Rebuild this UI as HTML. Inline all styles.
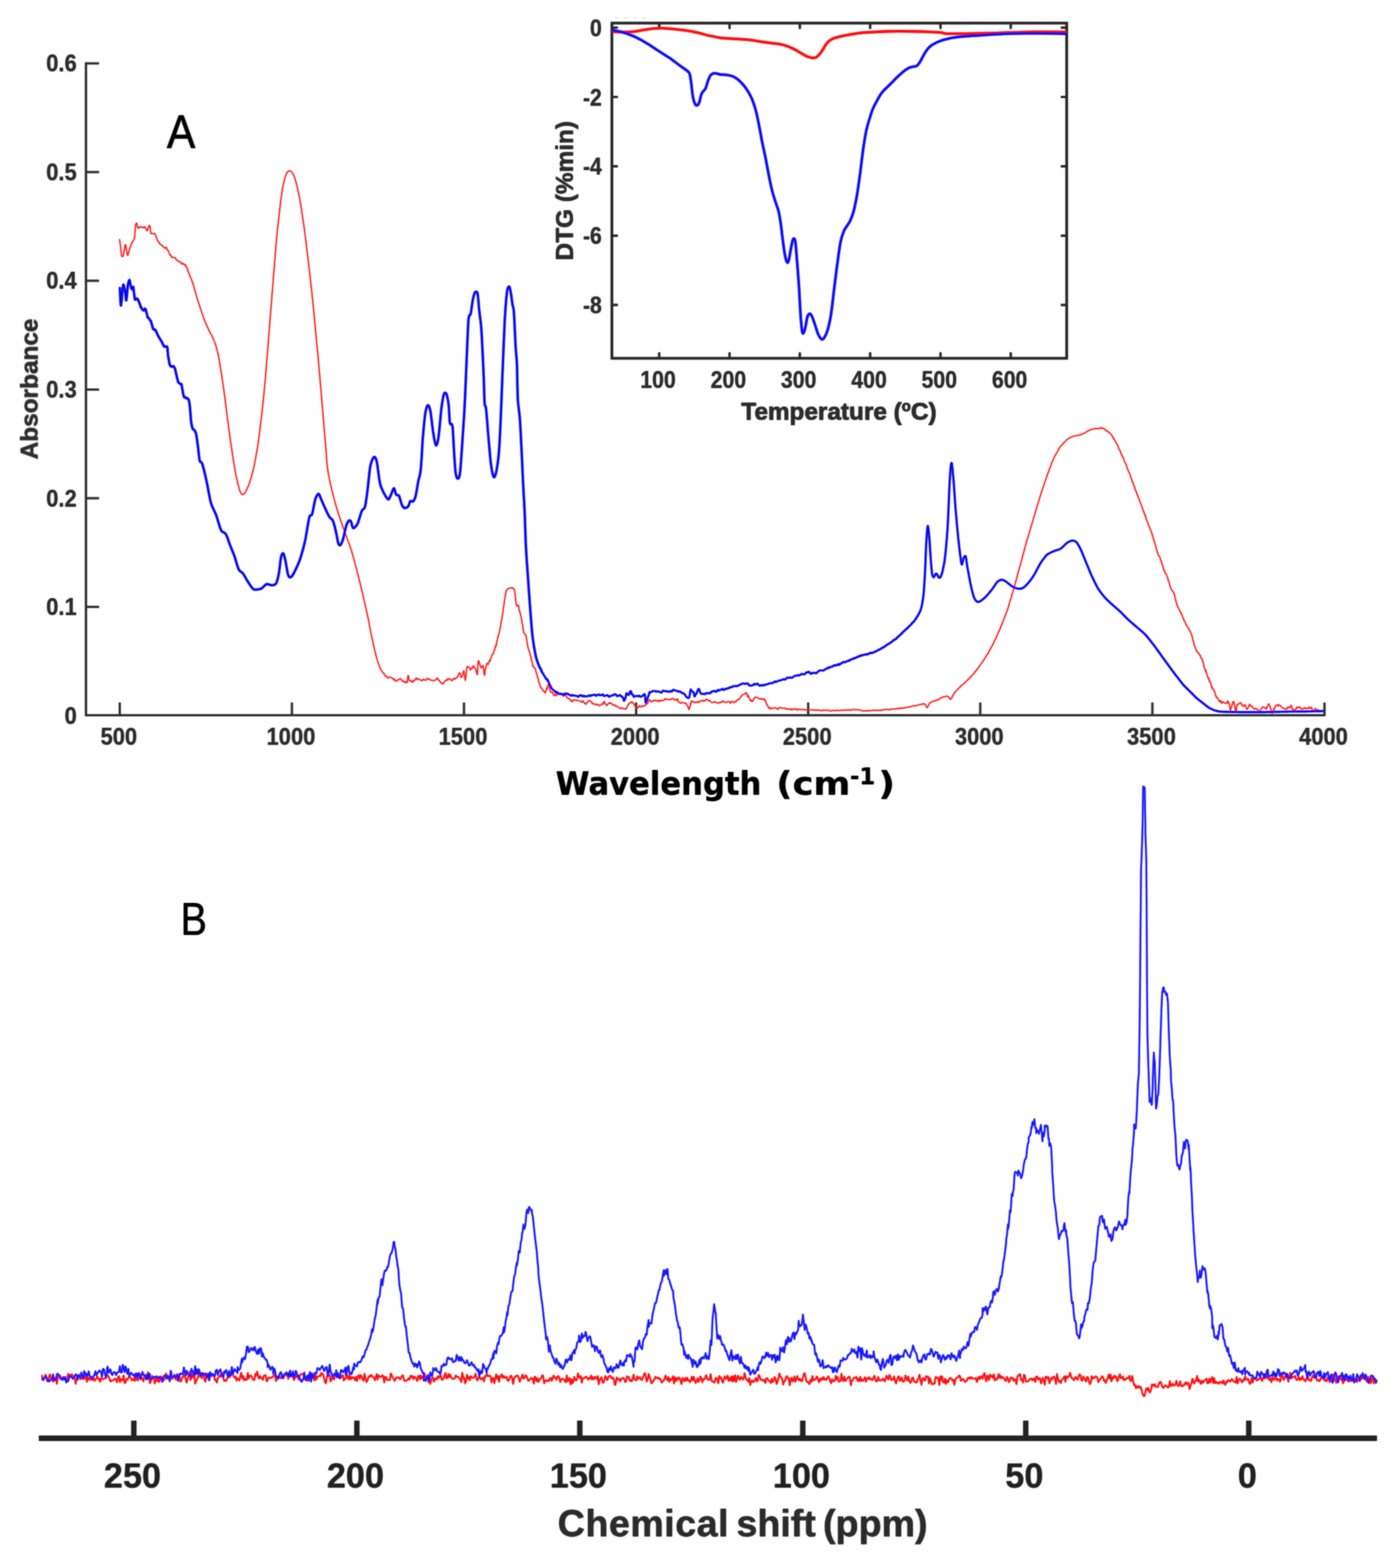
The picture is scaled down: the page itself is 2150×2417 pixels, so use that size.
<!DOCTYPE html>
<html lang="en">
<head>
<meta charset="utf-8">
<title>FTIR, DTG and NMR spectra</title>
<style>
html,body{margin:0;padding:0;background:#fff;}
svg{display:block;}
text{font-family:"Liberation Sans",sans-serif;font-weight:bold;fill:#2a2a2a;}
.t32{font-size:33.8px;}
.t31{font-size:32.8px;}
.t51{font-size:52.8px;}
.t51 text{fill:#202020;}
.lab{font-family:"Liberation Sans",sans-serif;font-weight:normal;fill:#000;}
.wl{font-family:"DejaVu Sans",sans-serif;font-weight:bold;fill:#000;}
</style>
</head>
<body>
<svg width="2150" height="2417" viewBox="0 0 2150 2417">
<rect width="2150" height="2417" fill="#fff"/>
<defs><filter id="soft" filterUnits="userSpaceOnUse" x="0" y="0" width="2150" height="2417"><feGaussianBlur stdDeviation="0.9"/></filter></defs>
<use href="#fig" filter="url(#soft)"/>
<g opacity="0.62">
<g id="fig">
<g stroke="#2e2e2e" stroke-width="3" fill="none">
<path stroke-width="3.1" d="M132.5 96.2 V1102.5 H2042.5"/>
<path d="M132.5 935.5H152.5M132.5 767.9H152.5M132.5 600.4H152.5M132.5 432.8H152.5M132.5 265.2H152.5M132.5 97.7H152.5M184.6 1102.5V1083M449.9 1102.5V1083M715.1 1102.5V1083M980.4 1102.5V1083M1245.6 1102.5V1083M1510.8 1102.5V1083M1776.1 1102.5V1083M2041.3 1102.5V1083"/>
</g>
<g class="t32" text-anchor="end">
<text transform="translate(118.3 1115.6) scale(1 1.11)">0</text>
<text transform="translate(118.3 948.1) scale(1 1.11)">0.1</text>
<text transform="translate(118.3 780.5) scale(1 1.11)">0.2</text>
<text transform="translate(118.3 613) scale(1 1.11)">0.3</text>
<text transform="translate(118.3 445.4) scale(1 1.11)">0.4</text>
<text transform="translate(118.3 277.9) scale(1 1.11)">0.5</text>
<text transform="translate(118.3 110.3) scale(1 1.11)">0.6</text>
</g>
<g class="t32" text-anchor="middle">
<text transform="translate(183.1 1148.3) scale(1 1.11)">500</text>
<text transform="translate(448.4 1148.3) scale(1 1.11)">1000</text>
<text transform="translate(713.6 1148.3) scale(1 1.11)">1500</text>
<text transform="translate(978.9 1148.3) scale(1 1.11)">2000</text>
<text transform="translate(1244.1 1148.3) scale(1 1.11)">2500</text>
<text transform="translate(1509.3 1148.3) scale(1 1.11)">3000</text>
<text transform="translate(1774.6 1148.3) scale(1 1.11)">3500</text>
<text transform="translate(2039.8 1148.3) scale(1 1.11)">4000</text>
</g>
<text transform="translate(58 599.5) rotate(-90)" text-anchor="middle" font-size="37.5" stroke="#2a2a2a" stroke-width="0.3" textLength="217" lengthAdjust="spacingAndGlyphs">Absorbance</text>
<text class="wl" y="1224.8" font-size="49"><tspan x="856.5" textLength="317" lengthAdjust="spacingAndGlyphs">Wavelength</tspan> <tspan x="1196.5" textLength="114" lengthAdjust="spacingAndGlyphs">(cm</tspan><tspan x="1310" dy="-15.4" font-size="35" textLength="39" lengthAdjust="spacingAndGlyphs">-1</tspan><tspan x="1353.5" dy="15.4" textLength="26" lengthAdjust="spacingAndGlyphs">)</tspan></text>
<text class="lab" transform="translate(279.2 228) scale(0.95 1.04)" text-anchor="middle" font-size="69" stroke="#000" stroke-width="0.5">A</text>
<text class="lab" transform="translate(298.5 1441) scale(0.86 1)" text-anchor="middle" font-size="71" stroke="#000" stroke-width="0.2">B</text>
<path d="M184.2 368.6 L184.3 369.3 L184.5 371.7 L184.8 371.6 L185.1 374.4 L185.3 375.1 L185.6 378.8 L185.8 380.2 L185.9 382.2 L186.1 382.6 L186.2 384.6 L186.4 386 L186.6 387.5 L186.8 389.8 L186.9 390.6 L187.1 392.5 L187.3 394.5 L187.5 395 L188.7 395.3 L190.1 394.7 L190.3 392.8 L190.6 390.8 L190.9 389.5 L191.2 387.2 L191.5 385.2 L191.8 383.2 L192.1 383 L192.4 380.3 L192.7 378.7 L192.9 377.9 L193.1 378.3 L193.4 377.1 L193.8 377.6 L194.1 381.4 L194.4 381.2 L194.7 382.9 L194.9 384.9 L195.2 388 L195.5 388.2 L195.8 388.7 L196.1 392.1 L196.4 393 L196.7 393.5 L197 393.6 L197.4 392.4 L197.9 390.7 L198.4 388.3 L198.8 387.3 L199.3 386 L199.7 383.7 L200.1 381.9 L200.7 381.1 L201.3 379.6 L201.9 377 L202.5 375.7 L203 375.7 L203.6 374.1 L204.3 372.6 L205.2 371.6 L206 370.1 L206.8 368.5 L207.3 365.5 L207.4 366.7 L207.6 365 L207.7 362.6 L207.9 361.9 L208 359.9 L208.1 357.7 L208.3 356.5 L208.4 355.5 L208.5 353 L208.6 351.8 L208.7 350.7 L208.8 347.7 L208.9 346.6 L209.7 345.1 L210.6 343.7 L210.9 345 L211.4 347.8 L211.9 349.7 L212.4 350.9 L212.9 349.9 L213.9 351.9 L215.1 350.1 L216.2 349.5 L217.2 350.1 L218.4 350.1 L219.5 350.7 L220.5 350.1 L221.7 351.1 L222.8 349.4 L223.5 350.2 L224.4 351.7 L225.4 353.9 L226.3 355.3 L227.1 355.6 L227.6 353.7 L228.2 351.2 L228.8 350.3 L229.4 348.9 L229.9 348.3 L230.4 347.2 L230.6 347.2 L230.9 349 L231.2 349.4 L231.4 351.3 L231.7 353.3 L232 356 L232.3 359.1 L232.7 359.5 L233.6 360.4 L234.9 359.9 L236.4 359.9 L237.6 360 L238.2 360.7 L238.8 360.4 L239.6 362 L240.4 363.5 L241.2 366.6 L242 368.5 L242.8 370.4 L243.6 372.1 L244.2 372 L244.9 373.6 L245.8 375.6 L246.8 375.7 L247.9 377.4 L249 378 L250 378 L251 379.9 L251.8 380.4 L252.5 381.6 L253.8 382 L255.1 382.5 L256.3 381.1 L257.4 384.4 L257.9 385.4 L258.5 385.4 L259.2 386 L259.9 388 L260.7 390.2 L261.4 391.8 L262.1 393.2 L262.8 392.8 L263.4 393.7 L264.3 396.4 L265.5 396.9 L266.8 396.3 L268.2 397 L269.5 397.2 L270.6 398.1 L271.6 400.4 L272.8 400.8 L274.2 402.6 L275.7 403.3 L277.1 403.1 L278.5 404.3 L279.7 407.3 L280.5 406.3 L281.9 406.1 L283.2 407.7 L284.4 407.5 L285.5 408.2 L286 410 L286.6 409.2 L287.2 411.6 L287.9 412.4 L288.6 413.7 L289.2 415.6 L289.9 418.7 L290.4 419.7 L290.8 420.2 L291.3 421.4 L291.8 423.2 L292.4 424.6 L293 425.7 L293.7 427.8 L294.3 429 L294.9 430.2 L295.5 431.9 L296.1 433.6 L296.6 435.2 L297 436.5 L297.4 437.2 L297.7 438.2 L298.1 439.2 L298.5 440.8 L298.9 442.2 L299.3 443.9 L299.7 445.2 L300.2 446.9 L300.6 448.5 L301.1 450 L301.5 451.6 L302 453.2 L302.4 454.7 L302.8 456.6 L303.2 458 L303.6 459 L304 460.3 L304.3 461.6 L304.8 463.2 L305.2 464.3 L305.7 465.8 L306.2 467.2 L306.8 469 L307.4 470.9 L307.9 472.6 L308.5 474.2 L309.1 476.1 L309.7 477.8 L310.2 479.5 L310.8 480.9 L311.3 482.6 L311.8 483.9 L312.3 485.3 L312.8 486.7 L313.2 488.4 L313.5 489.3 L314 490.4 L314.6 491.7 L315.2 493.4 L315.8 495.1 L316.4 496.7 L317.1 498 L317.7 499.5 L318.4 500.9 L319 502.4 L319.6 503.7 L320.2 505.2 L320.8 506.1 L321.3 507.3 L321.8 508.7 L322.3 509.7 L323 511.3 L323.7 512.3 L324.4 513.8 L325.2 515.4 L326 516.6 L326.8 518.1 L327.5 520.2 L328.3 521.2 L328.9 522.5 L329.5 523.8 L330 525.2 L330.4 526.2 L330.8 527.5 L331.2 528.6 L331.6 529.6 L332 530.9 L332.5 532 L332.9 533.3 L333.3 534.9 L333.8 536.8 L334.2 538.3 L334.7 540.1 L335.1 541.8 L335.5 543.2 L335.9 545.3 L336.3 546.6 L336.6 548.2 L336.8 549.1 L337 550.4 L337.2 551.3 L337.4 552.3 L337.6 553.7 L337.8 555.2 L338.1 556.3 L338.3 557.6 L338.5 559.3 L338.8 560.9 L339 562.5 L339.3 563.7 L339.6 565.5 L339.8 567.2 L340.1 568.5 L340.4 570.7 L340.7 572.4 L340.9 574 L341.2 576.3 L341.5 577.8 L341.8 579.4 L342 581.2 L342.3 583.1 L342.6 585 L342.8 586.6 L343.1 588.1 L343.3 589.8 L343.6 591.5 L343.8 593 L344.1 594.9 L344.3 596.4 L344.5 598 L344.7 599.3 L344.9 600.3 L345 601.5 L345.2 602.7 L345.3 604.2 L345.5 605.2 L345.7 606.7 L345.9 608.1 L346.1 609.3 L346.3 611.1 L346.5 612.6 L346.7 613.8 L346.9 615.8 L347.1 617.7 L347.3 619.1 L347.6 621.2 L347.8 622.8 L348 624.3 L348.2 626.3 L348.5 628 L348.7 629.6 L348.9 631.3 L349.2 633.5 L349.4 635.3 L349.7 637.5 L349.9 639.4 L350.1 641 L350.4 642.9 L350.6 645.2 L350.8 647.1 L351.1 648.8 L351.3 650.3 L351.5 651.9 L351.8 653.7 L352 655.9 L352.2 657.5 L352.4 659 L352.6 660.4 L352.9 662.2 L353.1 663.6 L353.3 665.3 L353.4 666.9 L353.6 668.4 L353.8 669.6 L354 670.8 L354.2 672.1 L354.3 673.6 L354.5 674.6 L354.6 675.2 L354.8 677.1 L355 678.5 L355.3 680.4 L355.5 681.6 L355.7 683.1 L356 684.7 L356.2 686.5 L356.5 688.1 L356.7 689.6 L357 691.2 L357.3 693.2 L357.5 695 L357.8 696.8 L358.1 699.1 L358.4 700.8 L358.6 702.6 L358.9 704 L359.2 705.9 L359.4 707.5 L359.7 709.2 L360 711 L360.2 712.7 L360.5 714.3 L360.7 715.8 L361 716.9 L361.2 718.5 L361.5 720.1 L361.7 721.4 L361.9 722.6 L362.1 724 L362.3 725 L362.5 726.1 L362.7 727.4 L362.9 728.2 L363.2 730.1 L363.5 731.7 L363.9 733.4 L364.2 735.3 L364.6 736.4 L365 738.3 L365.4 739.9 L365.8 741.7 L366.2 743.5 L366.6 745.5 L366.9 746.9 L367.3 748.7 L367.7 749.8 L368 751.2 L368.4 752.5 L368.7 753.8 L369 754.7 L369.2 755.4 L369.5 756.2 L370.3 758.2 L371.3 760.2 L372.2 761.4 L373.1 762 L373.8 762.3 L375 762.1 L376.3 761.2 L377.7 759.7 L378.1 758.7 L378.6 757.7 L379.2 756.9 L379.9 755.7 L380.6 754 L381.2 752.5 L381.9 750.8 L382.6 749.4 L383.3 747.6 L383.8 746.1 L384.3 744.8 L384.7 744.1 L385 742.7 L385.4 741.5 L385.8 740.1 L386.3 738.6 L386.7 737.1 L387.2 735.7 L387.6 734.3 L388.1 732.5 L388.5 730.8 L389 729.2 L389.4 727.7 L389.8 726.3 L390.2 724.3 L390.6 723.1 L390.9 721.4 L391.1 720.7 L391.4 719.4 L391.6 718.1 L391.9 716.9 L392.1 715.7 L392.4 714.2 L392.7 712.9 L393 711.4 L393.3 709.8 L393.6 708.2 L393.9 706.7 L394.2 704.8 L394.5 703.1 L394.8 701.4 L395.1 699.3 L395.4 698 L395.7 696.2 L396 694.4 L396.3 692.8 L396.6 691.3 L396.8 689.8 L397.1 688.3 L397.3 686.6 L397.5 685.4 L397.7 684.4 L397.8 683.1 L398 681.9 L398.2 680.8 L398.4 679.4 L398.6 678 L398.8 676.4 L399 675.1 L399.2 673.7 L399.4 671.8 L399.6 669.6 L399.8 668.4 L400 666.3 L400.3 664.3 L400.5 662.3 L400.7 660.9 L400.9 659.3 L401.2 657.6 L401.4 655.5 L401.6 654 L401.8 652 L402 650 L402.3 648.4 L402.5 646.7 L402.7 645 L402.9 643.4 L403 641.3 L403.2 640.4 L403.4 638.7 L403.6 637.5 L403.7 635.9 L403.9 634.8 L404 633.6 L404.1 632.2 L404.3 631.1 L404.4 629.9 L404.6 628.1 L404.8 626.4 L404.9 625.1 L405.1 623.6 L405.2 622.3 L405.4 620.8 L405.6 619.5 L405.7 617.9 L405.9 616.1 L406.1 614.5 L406.2 612.3 L406.4 610.8 L406.5 609.2 L406.7 607.8 L406.9 606.2 L407 604.6 L407.2 603.1 L407.3 601.1 L407.5 599.6 L407.7 597.9 L407.8 596.2 L408 594.6 L408.1 592.9 L408.3 591.3 L408.3 590.3 L408.4 589.5 L408.5 588.2 L408.6 587.1 L408.7 586.3 L408.8 584.8 L408.9 583.4 L409.1 582.1 L409.2 580.2 L409.3 579 L409.4 577.5 L409.6 575.9 L409.7 574.4 L409.8 572.8 L410 571.2 L410.1 569.2 L410.2 567.5 L410.4 565.6 L410.5 564.2 L410.7 562.3 L410.8 560.1 L411 558.5 L411.1 556.5 L411.3 555 L411.4 553 L411.6 550.8 L411.7 549.2 L411.9 547.7 L412 545.9 L412.2 543.8 L412.3 542.2 L412.4 540.5 L412.6 538.9 L412.7 537.1 L412.9 535.3 L413 533.3 L413.1 531.8 L413.3 530.2 L413.4 528.6 L413.5 527.1 L413.6 525.3 L413.8 524.1 L413.9 522.6 L414 521.3 L414.1 519.9 L414.2 518.6 L414.3 517.5 L414.4 516.4 L414.5 515 L414.6 513.8 L414.7 512.2 L414.8 511 L414.9 509.5 L415 507.8 L415.2 506.7 L415.3 504.9 L415.4 503.4 L415.5 501.5 L415.7 499.7 L415.8 498.5 L415.9 496.6 L416.1 494.7 L416.2 493.2 L416.3 491.3 L416.5 489.8 L416.6 488.5 L416.7 486.4 L416.9 484.7 L417 482.9 L417.2 481.1 L417.3 479.2 L417.5 477.7 L417.6 475.7 L417.7 473.9 L417.9 472.1 L418 470 L418.2 468.5 L418.3 466.7 L418.4 465.1 L418.6 463.4 L418.7 461.9 L418.8 459.6 L419 458 L419.1 456.4 L419.2 454.7 L419.4 453.3 L419.5 451.7 L419.6 450.2 L419.7 448.4 L419.8 447 L419.9 445.8 L420.1 444.4 L420.2 443 L420.3 441.8 L420.4 440.6 L420.5 439.2 L420.6 438.5 L420.7 436.9 L420.8 435.7 L420.9 434.3 L421 433 L421.1 431.2 L421.2 429.6 L421.4 428.3 L421.5 426.7 L421.6 424.6 L421.7 422.9 L421.9 421.4 L422 419.9 L422.2 418.2 L422.3 416.6 L422.4 414.6 L422.6 413.5 L422.7 411.6 L422.9 409.8 L423 407.8 L423.2 405.5 L423.3 404 L423.5 402.1 L423.6 400.5 L423.7 398.6 L423.9 396.9 L424 394.9 L424.2 393.1 L424.3 391.4 L424.5 389.5 L424.6 387.8 L424.8 386.3 L424.9 384.9 L425 383 L425.2 381.4 L425.3 379.5 L425.4 377.9 L425.6 376.5 L425.7 375.1 L425.8 373.4 L426 372.2 L426.1 370.8 L426.2 369.7 L426.3 368.4 L426.4 367.1 L426.5 365.7 L426.6 364.6 L426.7 363.4 L426.9 361.9 L427 360.2 L427.2 358.8 L427.3 357.2 L427.5 355.9 L427.6 354.3 L427.8 352.4 L428 350.9 L428.2 349.3 L428.4 347.7 L428.6 345.8 L428.8 344 L429 342.1 L429.2 340.5 L429.4 338.3 L429.6 336.7 L429.8 334.5 L430 333.4 L430.2 331.6 L430.4 329.3 L430.6 327.7 L430.8 325.9 L430.9 324.1 L431.1 322.7 L431.3 321 L431.5 319.9 L431.7 318.2 L431.9 316.5 L432 315.3 L432.2 314.1 L432.3 312.9 L432.5 311.7 L432.6 310.1 L432.8 309.1 L432.9 308.2 L433 307.2 L433.2 305.7 L433.5 303.7 L433.7 301.9 L434 300 L434.3 298.3 L434.5 296.3 L434.8 295.1 L435.1 293.1 L435.3 291.3 L435.6 289.5 L435.9 288.2 L436.1 286.6 L436.4 285.5 L436.6 284.5 L436.9 283.3 L437.1 282 L437.3 281.3 L437.7 279.4 L438.1 277.7 L438.7 276 L439.2 274.1 L439.8 272.5 L440.4 270.6 L440.9 268.9 L441.4 268.2 L441.9 266.9 L442.2 266.1 L443.5 264.5 L445 263.6 L446.2 263.3 L447.1 263.6 L448.3 264 L449.5 265 L450.5 266.1 L451 266.9 L451.6 268.1 L452.2 269 L452.9 270.3 L453.5 272.3 L454.2 274.2 L454.9 275.9 L455.4 277.6 L455.7 278.8 L455.9 279.7 L456.2 280.9 L456.5 281.6 L456.9 283.1 L457.2 284.5 L457.6 285.9 L457.9 287.8 L458.3 289.6 L458.7 291.1 L459 292.7 L459.4 294.8 L459.8 296.5 L460.2 298 L460.5 299.8 L460.9 301.4 L461.2 302.7 L461.5 304.4 L461.8 306 L462 307.5 L462.2 308.2 L462.4 309.3 L462.6 310.6 L462.8 311.7 L463.1 313.5 L463.3 314.9 L463.5 316.6 L463.8 317.5 L464 319.1 L464.3 321.3 L464.6 322.5 L464.8 323.9 L465.1 326 L465.3 328.1 L465.6 329.7 L465.9 331.1 L466.1 333.1 L466.4 334.9 L466.7 336.6 L466.9 338.3 L467.2 340 L467.4 341.8 L467.6 343.5 L467.8 345 L468.1 346.2 L468.3 347.3 L468.5 349 L468.6 350 L468.8 351.8 L469 352.5 L469.1 353.4 L469.3 354.6 L469.5 356.4 L469.7 357.9 L469.8 359.5 L470 361 L470.2 362.3 L470.4 364.2 L470.7 365.6 L470.9 367 L471.1 369.1 L471.3 370.9 L471.5 372.3 L471.7 374.1 L471.9 376.1 L472.2 378 L472.4 379.3 L472.6 381.4 L472.8 382.5 L473 384.6 L473.2 386.5 L473.4 388.1 L473.7 389.8 L473.9 391.2 L474 393 L474.2 394.7 L474.4 396 L474.6 397.7 L474.8 399.1 L474.9 400.1 L475.1 401.6 L475.2 403.2 L475.4 404 L475.5 405.4 L475.7 406.8 L475.8 407.8 L476 409.3 L476.1 410.9 L476.3 412.4 L476.5 413.6 L476.7 415.4 L476.8 417 L477 418.5 L477.2 420.4 L477.4 422 L477.6 423.6 L477.8 425.4 L478 427 L478.2 428.9 L478.4 430.4 L478.5 431.7 L478.7 434 L478.9 435.8 L479.1 437.5 L479.3 439.1 L479.5 440.8 L479.7 442.6 L479.9 444.1 L480.1 446 L480.3 447.7 L480.4 449.1 L480.6 450.9 L480.8 452.4 L481 454 L481.1 455.7 L481.3 457.5 L481.4 458.5 L481.6 460 L481.7 461.4 L481.8 462.7 L482 464 L482.1 464.9 L482.2 466.1 L482.4 467.5 L482.5 468.7 L482.6 470.6 L482.8 471.8 L482.9 473.6 L483.1 475.5 L483.3 476.8 L483.4 478.6 L483.6 480.3 L483.8 482.5 L483.9 484.1 L484.1 485.5 L484.3 487.8 L484.5 489.8 L484.7 491.2 L484.8 492.9 L485 495.6 L485.2 497.3 L485.4 498.7 L485.6 501.1 L485.7 503.2 L485.9 504.4 L486.1 506.8 L486.2 508.6 L486.4 510.3 L486.6 511.9 L486.7 513.8 L486.9 515.3 L487.1 517.1 L487.2 518.6 L487.4 520.1 L487.5 521.8 L487.6 523.3 L487.8 524.7 L487.9 525.9 L488 527.4 L488.1 528 L488.2 529.2 L488.3 530.2 L488.4 531.3 L488.4 531.5 L488.7 534.1 L488.9 536.1 L489 537.8 L489.2 539.5 L489.3 540.3 L489.4 541.1 L489.5 542.1 L489.6 543.3 L489.7 544.3 L489.9 546.1 L490.1 547.5 L490.3 550.2 L490.3 551 L490.4 551.9 L490.5 553.1 L490.6 553.8 L490.7 555 L490.8 556.2 L490.9 557.3 L491 558.6 L491.1 560 L491.3 561.8 L491.4 562.8 L491.5 564.4 L491.7 566.3 L491.8 568.4 L492 569.9 L492.1 571.9 L492.3 573.5 L492.4 575.1 L492.6 576.7 L492.7 578.8 L492.9 581.1 L493.1 582.8 L493.2 584.4 L493.4 586.5 L493.5 588 L493.7 589.9 L493.8 592.2 L494 594 L494.2 596 L494.3 597.7 L494.5 599.3 L494.6 601.1 L494.8 602.7 L494.9 604.7 L495 605.9 L495.2 607.3 L495.3 608.9 L495.4 610.8 L495.5 612.1 L495.7 613 L495.8 615.2 L495.9 615.9 L496 617.2 L496.1 618.6 L496.2 619.9 L496.3 621.2 L496.4 622.4 L496.6 624.2 L496.7 625.5 L496.8 627.2 L497 629 L497.1 630.5 L497.3 631.9 L497.4 633.8 L497.6 635.8 L497.7 637.7 L497.9 639.1 L498 641.1 L498.2 643 L498.3 645 L498.5 646.7 L498.6 648.5 L498.8 650.2 L498.9 652.2 L499.1 654.1 L499.3 655.7 L499.4 657.4 L499.6 659.6 L499.7 661.1 L499.8 662.6 L500 664.5 L500.1 665.8 L500.3 667.4 L500.4 669.3 L500.5 670.8 L500.7 672.4 L500.8 673.9 L500.9 675 L501 676.5 L501.1 677.6 L501.2 678.9 L501.3 680 L501.4 681 L501.5 681.8 L501.6 683.6 L501.8 685.3 L501.9 687.1 L502 688.5 L502.2 690.4 L502.3 692.1 L502.4 693.8 L502.6 695.6 L502.7 697.4 L502.8 699 L503 700.9 L503.1 702.7 L503.2 704.6 L503.4 706.2 L503.5 708.2 L503.6 709.8 L503.8 711.3 L503.9 712.8 L504 713.9 L504.2 715.6 L504.3 717.2 L504.4 718.1 L504.5 719.7 L504.7 720.8 L504.8 721.7 L505 723.1 L505.2 724.6 L505.5 726.1 L505.7 727.8 L506 729.5 L506.3 731.2 L506.6 732.7 L506.9 734.7 L507.3 736.2 L507.6 738 L507.9 739.7 L508.3 741.1 L508.6 743.1 L508.9 744.3 L509.2 745.6 L509.5 746.8 L509.7 748.1 L510 748.9 L510.3 750.5 L510.6 751.8 L510.9 753.1 L511.3 754.9 L511.7 756.5 L512.1 757.9 L512.5 759.4 L512.9 760.8 L513.3 762.5 L513.7 764.5 L514.1 766.2 L514.5 767.5 L514.9 769.1 L515.3 770.8 L515.7 771.9 L516 773.1 L516.3 774.2 L516.7 775.6 L517 776.5 L517.4 778.1 L517.9 779.8 L518.4 781.2 L518.8 783 L519.3 784.6 L519.9 786.1 L520.4 787.6 L520.9 789.2 L521.4 791.1 L521.9 792.7 L522.4 794.3 L522.9 795.6 L523.4 797.4 L523.8 798.7 L524.2 799.9 L524.6 800.7 L525 802.5 L525.4 803.7 L525.9 804.6 L526.5 806.4 L527 807.8 L527.6 809.2 L528.1 810.7 L528.7 812.6 L529.3 814.2 L529.9 815.8 L530.4 817.2 L531 818.5 L531.5 820.2 L532 821.5 L532.4 822.7 L532.8 824 L533.2 825.4 L533.7 826.3 L534.2 827.8 L534.7 829 L535.3 830.7 L535.8 832.2 L536.4 833.6 L537 835.2 L537.5 836.6 L538.1 838.2 L538.7 840.1 L539.2 841.6 L539.7 843.4 L540.2 844.3 L540.7 845.6 L541.1 847 L541.4 848.1 L541.8 849.2 L542.1 850.4 L542.5 851.8 L543 853.6 L543.4 854.9 L543.8 856.3 L544.3 858.1 L544.8 859.3 L545.2 861.1 L545.7 862.9 L546.1 864.8 L546.6 866 L547 867.9 L547.5 869.5 L547.9 871.4 L548.3 872.9 L548.7 874.1 L549 875.6 L549.3 876.5 L549.6 877.8 L550 879.1 L550.3 880.6 L550.6 881.8 L551 882.8 L551.4 884.8 L551.8 886.1 L552.2 887.8 L552.6 889.5 L553 891.5 L553.5 893 L553.9 894.9 L554.3 896.4 L554.7 897.7 L555.1 899.6 L555.5 901.3 L555.9 902.7 L556.3 904 L556.6 906.3 L557 907.7 L557.3 908.8 L557.6 909.9 L557.9 911.1 L558.2 912.3 L558.5 913.2 L558.8 914.5 L559.1 916.4 L559.5 918.1 L559.9 919.7 L560.2 921.3 L560.6 922.8 L561 924.7 L561.4 926.5 L561.8 928.1 L562.2 929.9 L562.6 931.7 L563 933 L563.3 934.9 L563.7 936.3 L564.1 937.7 L564.4 939.7 L564.7 940.7 L565 942.2 L565.3 943.8 L565.6 945 L565.8 946 L566.1 947.1 L566.4 948.6 L566.7 950.1 L567 951.5 L567.3 952.8 L567.6 954.2 L567.9 956.1 L568.2 957.8 L568.6 959.6 L568.9 961.1 L569.2 963 L569.5 964.4 L569.9 965.8 L570.2 967.9 L570.5 969.4 L570.8 970.8 L571.1 972.5 L571.4 973.7 L571.7 975.3 L572 976.4 L572.2 977.9 L572.4 978.9 L572.7 980.2 L573 981.6 L573.3 983.1 L573.6 984.3 L574 986.1 L574.3 987.8 L574.7 989.3 L575.1 991.1 L575.4 993 L575.8 994.8 L576.2 996.8 L576.6 998.1 L576.9 999.7 L577.3 1001.7 L577.6 1002.8 L578 1004 L578.3 1005.4 L578.6 1006.6 L578.8 1007.8 L579 1008.8 L579.5 1010.2 L579.9 1011.8 L580.4 1013.6 L580.9 1015.2 L581.3 1016.9 L581.8 1018.7 L582.3 1020.3 L582.8 1021.5 L583.2 1022.7 L583.6 1024 L584 1024.9 L584.6 1026.7 L585.3 1028.4 L586 1029.9 L586.8 1031.4 L587.5 1032.7 L588.3 1034.1 L588.9 1035.2 L589.7 1036.3 L590.5 1037 L591.5 1037.6 L592.5 1040.1 L593.6 1041.9 L594.6 1041.5 L595.5 1042.8 L596.6 1043.9 L598 1045.2 L599.7 1043.7 L601.3 1044 L602.9 1044.5 L604.4 1045.1 L605.4 1045.6 L606.8 1048.1 L608.2 1046.9 L609.7 1050.2 L611 1049.3 L612 1049.3 L613.3 1048 L614.7 1047.6 L616 1046.2 L617 1046.1 L617.8 1046.5 L618.6 1047.7 L619.4 1048.8 L620.3 1050.4 L621.4 1050 L622.8 1049.9 L624.4 1052.5 L625.9 1051.2 L626.9 1051.4 L627.4 1052.3 L627.9 1048.2 L628.3 1045.8 L628.6 1043.1 L628.9 1041.1 L629.2 1042.1 L629.5 1042.2 L629.7 1044 L630 1044.2 L630.3 1048.1 L630.7 1049.2 L631.2 1048.7 L632.3 1049.9 L633.9 1049.1 L635.7 1051.9 L637.3 1048.9 L638.4 1049.9 L639.5 1047.8 L640.5 1046.3 L641.7 1045 L642.7 1047.6 L644 1046.2 L645.6 1046.6 L647.3 1048.1 L649 1048.2 L650.5 1049.5 L651.7 1048.4 L652.9 1046.8 L654.4 1048 L656 1048.6 L657.5 1047.5 L658.9 1045.4 L659.9 1046.8 L661.1 1047.2 L662.3 1046.9 L663.5 1048.3 L664.9 1048.5 L665.9 1048.5 L667.3 1049 L668.9 1049.2 L670.6 1048.2 L672.2 1047.8 L673.7 1045 L674.8 1046.1 L675.8 1048.3 L676.9 1048.6 L678.1 1050.9 L679.2 1051.9 L680.3 1053 L681.4 1053.4 L682.3 1054.4 L683.5 1053.3 L684.9 1051.6 L686.4 1049 L687.8 1049 L689.2 1046.8 L690.4 1048.1 L691.3 1046.3 L692.6 1046.1 L694 1047.3 L695.2 1047.5 L696.2 1049.2 L697.3 1048.8 L698.7 1046.7 L700.1 1045.2 L701.2 1046.8 L702.4 1046 L703.8 1044.6 L705 1043.2 L705.7 1043.2 L706.6 1039.8 L707.5 1037.9 L708.3 1037.4 L708.8 1037.2 L709.5 1038.8 L710.3 1043.6 L711 1044.3 L711.6 1043.5 L712 1043 L712.6 1041.3 L713.2 1039.2 L713.9 1037.6 L714.4 1034.8 L714.9 1033.6 L715.1 1035.7 L715.4 1037.6 L715.7 1038.7 L716 1041.8 L716.3 1043.7 L716.6 1046.2 L716.9 1047.1 L717.2 1048.6 L717.3 1048.8 L717.5 1047.3 L717.7 1045.1 L717.8 1044 L718 1042.2 L718.3 1039.9 L718.5 1038 L718.7 1034.8 L718.9 1033.7 L719.1 1031.9 L719.4 1030.3 L719.6 1028.5 L719.8 1027.3 L720.8 1027.9 L722.2 1028.2 L723.6 1029 L724.8 1032.4 L725.9 1032.2 L727.3 1029.1 L728.7 1029.6 L729.7 1026 L730.9 1028.4 L732 1030.3 L733 1031.5 L733.4 1032.2 L733.9 1035 L734.4 1037 L734.9 1037.2 L735.3 1038.2 L735.6 1040 L735.8 1039.7 L735.9 1036.8 L736 1034.4 L736.1 1034.4 L736.2 1031.6 L736.3 1029.4 L736.5 1027.5 L736.6 1026.3 L736.7 1022.2 L736.8 1022.8 L737 1020.8 L737.1 1021 L737.3 1018.6 L737.8 1018.4 L738.4 1021 L739.2 1023.9 L740 1025.2 L740.7 1026.5 L741.3 1029.1 L742.4 1028.9 L743.6 1026.8 L744.6 1026.1 L744.8 1028.3 L745.1 1029.7 L745.3 1030.5 L745.6 1034.3 L745.9 1036.6 L746.1 1037.8 L746.4 1039.5 L746.6 1040.9 L746.9 1040.1 L747 1038.6 L747.2 1039.9 L747.5 1036.3 L747.7 1034.1 L747.9 1032.2 L748.2 1032.2 L748.4 1031.4 L748.7 1028.1 L749 1028 L749.2 1027.5 L749.5 1026.5 L750.3 1022.4 L751.3 1023.3 L752.5 1024 L753.6 1020.5 L754.5 1017.8 L755 1019.4 L755.6 1018.1 L756.2 1016 L756.9 1014.1 L757.6 1010.6 L758.3 1009.4 L758.9 1009 L759.4 1008.4 L759.9 1007.9 L760.4 1006.8 L761 1004 L761.6 1002.4 L762.2 1002.4 L762.8 998.3 L763.4 998 L763.9 995.4 L764.4 994.7 L764.7 995.7 L765 993.1 L765.4 991 L765.8 989.1 L766.2 986.9 L766.6 986 L767 983 L767.5 982.3 L767.9 981.1 L768.3 978.9 L768.7 977.1 L769 976.9 L769.3 976 L769.5 975.5 L769.8 973.9 L770.1 971.9 L770.4 969.8 L770.7 969.1 L771 967.3 L771.3 965.3 L771.6 964.5 L771.9 961.8 L772.3 959.9 L772.6 958.8 L772.9 956.8 L773.2 954.8 L773.5 953.7 L773.8 953 L774 950.3 L774.3 949.1 L774.4 947.9 L774.6 946.3 L774.9 945.9 L775.1 943.4 L775.3 942.7 L775.6 939.4 L775.9 937.8 L776.1 935.4 L776.4 934.1 L776.7 932.6 L776.9 930.8 L777.2 928.7 L777.5 926.4 L777.7 923.9 L778 923.4 L778.2 921.6 L778.5 920.8 L778.7 917.7 L778.9 917 L779 915.1 L779.2 915.9 L779.7 912.8 L780.3 910.6 L780.9 910.3 L781.5 908.8 L782 908.1 L782.5 907.3 L783.7 907.3 L785.2 906.8 L786.5 906.6 L787.5 906 L788.7 906.2 L789.8 906.6 L790.5 906.2 L791.5 907.7 L792.4 907.7 L793.1 909.8 L793.2 910.9 L793.4 912 L793.6 914.3 L793.8 914.9 L794 916.3 L794.2 919.2 L794.4 920.8 L794.6 923.3 L794.8 925.3 L795 926.7 L795.2 928.3 L795.4 930.6 L795.5 931.4 L795.7 932.1 L796.8 934 L798 933 L799 932.8 L799.3 934 L799.6 936.7 L799.8 938 L800.1 940.5 L800.4 941.7 L800.7 942.9 L800.9 942.9 L801.2 943.1 L801.6 943.9 L802 946.8 L802.4 947.9 L802.9 949.4 L803.3 952.2 L803.7 953.9 L804 954.3 L804.2 956.2 L804.4 958.5 L804.6 960 L804.9 960.6 L805.2 963.2 L805.5 963.3 L805.8 965.8 L806 967.7 L806.3 970.6 L806.6 970.9 L806.8 972.1 L807.1 973.6 L807.3 975.3 L808 975.8 L808.9 977.4 L809.8 978.1 L810.6 979.5 L810.8 979.8 L811 982 L811.3 983.5 L811.6 985.4 L811.9 987.1 L812.2 988.7 L812.5 990 L812.8 992.2 L813.1 994.6 L813.4 995.9 L813.6 997.4 L813.9 998.8 L814.3 999.9 L814.7 1000.9 L815.2 1001.6 L815.7 1004.2 L816.2 1005 L816.7 1006.3 L817.2 1008 L817.4 1009.5 L817.7 1011 L818 1011.5 L818.4 1013.4 L818.7 1016.1 L819.1 1017 L819.5 1019.1 L819.9 1020.4 L820.3 1021.6 L820.6 1023.1 L820.9 1025.5 L821.2 1027 L821.5 1026 L822.5 1028.7 L823.7 1029.6 L824.8 1029.9 L825.1 1031.5 L825.5 1032.5 L825.9 1035.3 L826.4 1035.7 L826.9 1038.5 L827.4 1039 L827.9 1040.4 L828.3 1043.6 L828.7 1043.9 L829 1045 L829.4 1045.6 L829.9 1048.1 L830.3 1051.4 L830.8 1052 L831.3 1053.5 L831.8 1055.4 L832.3 1056.3 L832.8 1057.1 L833.2 1059.4 L833.7 1060.3 L834.6 1060.5 L835.7 1061.5 L837 1065 L838.2 1065.2 L839.4 1067.3 L840.3 1068.2 L840.8 1066.9 L841.5 1064.8 L842.2 1061.1 L842.9 1062.1 L843.6 1060.5 L844.2 1057.2 L844.8 1055.2 L845.2 1055.9 L845.7 1054.3 L846.1 1057.4 L846.6 1059.9 L847 1060 L847.5 1061.5 L848 1065.9 L848.5 1065.6 L849.3 1066.9 L850.4 1067.6 L851.7 1066.9 L852.9 1070.4 L854.1 1072.5 L855.1 1071.2 L856.3 1070.5 L857.7 1072.4 L859.2 1069.8 L860.6 1070 L861.7 1069.1 L862.9 1069.1 L864.4 1070.8 L866 1070.5 L867.3 1071.6 L868.3 1073.4 L869.3 1071.9 L870.2 1069.5 L871 1072 L871.5 1071.9 L872.3 1071.6 L873.1 1074.1 L874 1075.4 L874.9 1076 L875.8 1077.1 L876.9 1077 L878.2 1077.4 L879.6 1080.4 L881 1080.1 L882.2 1081.8 L883.2 1079.1 L884.4 1079.2 L885.8 1078.8 L887.2 1079.2 L888.5 1078.9 L889.8 1079.8 L890.9 1079.9 L892.4 1079.9 L894 1080.9 L895.6 1081.9 L897 1082.2 L898 1080 L899.3 1081.8 L900.6 1084 L901.8 1084.1 L903 1085.8 L903.9 1083.8 L905 1082.9 L906.3 1080.8 L907.6 1079.9 L908.8 1080.2 L909.6 1080.6 L910.3 1080.7 L910.9 1081.7 L911.4 1082.6 L912.1 1082.5 L912.9 1084.8 L913.9 1084.3 L915.2 1085.3 L916.8 1085.3 L918.5 1086.4 L920 1085.3 L921.1 1086.5 L922.4 1086.2 L923.9 1087.9 L925.4 1086.8 L926.7 1086.5 L927.7 1084.6 L928.9 1085.8 L930 1084.1 L931 1081.1 L931.9 1083.5 L933 1085.2 L934.1 1085.7 L935 1087.7 L935.9 1086.4 L937 1085.1 L938.2 1084.6 L939.3 1082.9 L940.3 1084.3 L941.8 1083.9 L943.3 1085.3 L944.8 1087.1 L945.9 1086.4 L947.1 1086.2 L948.3 1088.5 L949.6 1087.8 L950.8 1089 L951.9 1089.4 L953.3 1090.1 L954.8 1092.1 L956.2 1091.9 L957.4 1090.7 L958.6 1091.9 L960 1092.2 L961.6 1092 L962.9 1092.6 L964 1093.3 L964.8 1092.9 L965.7 1091.3 L966.6 1089.4 L967.5 1087.9 L968.3 1086.1 L969 1084.6 L970 1084.2 L971.2 1084.1 L972.3 1082.1 L973.3 1082.1 L974.2 1083.2 L975.3 1082.7 L976.4 1084.7 L977.2 1085.7 L978 1087.7 L978.8 1087.7 L979.7 1089.1 L980.5 1091.8 L981.6 1092.6 L982.9 1090.6 L984.3 1090.1 L985.5 1087.7 L986.6 1088.9 L987.9 1089 L989.2 1089.7 L990.4 1087.9 L991.3 1088.2 L992.5 1088.2 L993.7 1087.9 L995 1086.4 L996.1 1085.3 L997 1085 L998.1 1084.9 L999.3 1080.9 L1000.5 1078.6 L1002 1079.4 L1002.9 1081.2 L1004.2 1081.9 L1005.7 1081.1 L1007.4 1079.3 L1009.1 1080.3 L1010.7 1079.5 L1012.2 1080.6 L1013.5 1080 L1014.7 1081.5 L1016.1 1079.4 L1017.7 1081 L1019.4 1079.3 L1021.1 1080 L1022.7 1079.8 L1024.3 1078.1 L1025.6 1076.9 L1026.7 1078.1 L1028.1 1078.2 L1029.6 1077.7 L1031.2 1078.6 L1032.8 1078.3 L1034.3 1078.3 L1035.6 1076.6 L1036.6 1076.9 L1038 1077.1 L1039.4 1078.5 L1040.8 1079.5 L1042.1 1078.4 L1043.2 1078.9 L1044.2 1077.2 L1045.3 1081.7 L1046.5 1082.1 L1047.7 1083.1 L1048.8 1083.8 L1049.8 1083.9 L1051 1082.5 L1052.5 1083 L1054.1 1083.4 L1055.7 1084.2 L1057.1 1083.9 L1058.1 1085.4 L1059 1087.2 L1060 1088.8 L1060.9 1090.6 L1061.7 1094.1 L1062.4 1092.1 L1062.7 1090.9 L1063.1 1091 L1063.5 1088.6 L1063.9 1088.6 L1064.3 1084.9 L1064.7 1083.3 L1065.2 1083.7 L1065.7 1080.2 L1066.7 1081.6 L1068.2 1081.6 L1069.8 1081.9 L1071.5 1083.5 L1072.9 1082.1 L1074.1 1082.7 L1075.5 1081.6 L1077.1 1082.8 L1078.8 1080.5 L1080.3 1080.7 L1081.8 1080.1 L1082.8 1079.3 L1084.1 1081 L1085.5 1079.9 L1086.8 1080.5 L1088.2 1077.7 L1089.4 1078.3 L1090.5 1078.7 L1091.8 1080.4 L1093.3 1079.4 L1094.9 1081.3 L1096.5 1082.8 L1098 1082.7 L1099.3 1082.8 L1100.4 1082.3 L1101.8 1081.7 L1103.3 1082.4 L1104.9 1082.8 L1106.6 1084.1 L1108.3 1083.2 L1109.9 1082.1 L1111.3 1083.2 L1112.5 1081.7 L1113.8 1080.3 L1115.2 1081.7 L1116.8 1081.7 L1118.5 1083 L1120.1 1082.7 L1121.8 1081.4 L1123.3 1081.6 L1124.6 1081.8 L1125.7 1084.3 L1127.1 1081.7 L1128.6 1080.9 L1130.1 1082.6 L1131.7 1083 L1133.2 1081.1 L1134.5 1081.8 L1135.6 1080.2 L1136.6 1078.5 L1137.6 1078 L1138.8 1078.1 L1139.9 1077.8 L1141.1 1075.2 L1142.1 1072.7 L1143.1 1072.8 L1143.9 1071.8 L1145.1 1070.5 L1146.5 1070.4 L1148 1069.6 L1149.4 1067.7 L1150.5 1068 L1151.1 1070.7 L1151.8 1070.9 L1152.5 1074.1 L1153.3 1072.1 L1154.1 1074.1 L1154.9 1076.9 L1155.7 1077.8 L1156.4 1079.8 L1157.1 1080.6 L1158 1079.2 L1159.1 1081.3 L1160.3 1081.1 L1161.6 1076.9 L1162.9 1076.2 L1164.1 1074.5 L1165.3 1074.8 L1166.4 1074.9 L1167.8 1075.3 L1169.4 1076.9 L1171.1 1077.7 L1172.9 1076.8 L1174.6 1077.6 L1176.2 1078.5 L1177.5 1077 L1178.5 1078.6 L1179.4 1078.7 L1180.1 1081.8 L1180.9 1084 L1181.6 1085 L1182.4 1087.6 L1183.1 1087.9 L1183.8 1088.4 L1184.5 1091.4 L1185.1 1091.4 L1186.2 1092.1 L1187.4 1090.8 L1188.9 1092.5 L1190.4 1092.1 L1192 1091.9 L1193.6 1090.9 L1195 1091 L1196.1 1091.4 L1197.4 1092.2 L1198.8 1093.6 L1200.4 1091.1 L1202.1 1090.8 L1203.9 1091.2 L1205.6 1091.6 L1207.3 1091.7 L1208.9 1091.4 L1210.3 1091.9 L1211.6 1093.2 L1212.8 1092.7 L1214.1 1092.2 L1215.6 1093.5 L1217.1 1093.5 L1218.7 1092.5 L1220.4 1094.4 L1222 1093.1 L1223.6 1092.5 L1225.2 1093.7 L1226.7 1092.9 L1228.1 1092.5 L1229.2 1094.7 L1230.4 1093.6 L1231.8 1092.9 L1233.3 1093.8 L1234.9 1093.8 L1236.5 1093.3 L1238.3 1093.7 L1240 1094.2 L1241.7 1094 L1243.5 1094.3 L1245.2 1093.9 L1246.9 1094.5 L1248.5 1094.3 L1250 1094.1 L1251.1 1093.9 L1252.2 1094.6 L1253.6 1094.5 L1255 1094.4 L1256.5 1094.6 L1258.1 1094.6 L1259.8 1094.5 L1261.5 1094.8 L1263.3 1094.6 L1265.1 1095 L1266.9 1095.7 L1268.7 1094.5 L1270.5 1094.8 L1272.3 1094.8 L1274.1 1095.1 L1275.8 1094.4 L1277.4 1095.6 L1278.9 1095.5 L1280.4 1095.9 L1281.8 1095.7 L1283 1094.9 L1284.2 1094.9 L1285.6 1095.5 L1287.1 1095.5 L1288.6 1094.8 L1290.3 1094.9 L1292 1095.3 L1293.8 1095.4 L1295.6 1094.7 L1297.4 1094.8 L1299.2 1094.8 L1301 1094.5 L1302.8 1094.3 L1304.6 1094.6 L1306.4 1094.4 L1308 1094.2 L1309.6 1094.6 L1311.1 1094.6 L1312.5 1094.4 L1313.8 1094 L1315 1093.8 L1316 1093.6 L1317.6 1093.8 L1319.1 1094.2 L1320.7 1093.9 L1322.3 1094 L1324 1094.2 L1325.6 1094.7 L1327.2 1094.8 L1328.7 1095.6 L1330.3 1095.9 L1331.7 1095.7 L1333.2 1095.6 L1334.5 1096.1 L1335.8 1095.5 L1337 1096 L1338.3 1095.3 L1339.7 1095.4 L1341.3 1095.6 L1342.9 1095.5 L1344.6 1094.9 L1346.3 1094.8 L1348.1 1095.1 L1349.8 1094.5 L1351.5 1095.4 L1353.2 1094.7 L1354.8 1094.7 L1356.3 1095.4 L1357.7 1094.7 L1358.9 1094.6 L1360.1 1094.6 L1361.5 1094.2 L1363 1093.8 L1364.6 1093.3 L1366.3 1093.7 L1368 1093.6 L1369.7 1094 L1371.5 1093.6 L1373.2 1093.6 L1374.9 1092.8 L1376.6 1092.8 L1378.1 1092.9 L1379.5 1092.6 L1380.9 1092.7 L1382 1092.3 L1383.3 1092.1 L1384.8 1092.2 L1386.4 1091.5 L1388 1092.4 L1389.8 1091.2 L1391.5 1091.5 L1393.2 1091.5 L1394.9 1090.7 L1396.6 1090.5 L1398.1 1090.4 L1399.5 1090.1 L1400.8 1089.9 L1401.8 1089.4 L1403.3 1089.4 L1404.8 1088.8 L1406.4 1088.1 L1408.1 1088 L1409.7 1088.1 L1411.2 1087.7 L1412.7 1087.5 L1413.9 1086.9 L1415 1086.8 L1416.4 1086.3 L1417.9 1086 L1419.6 1085.8 L1421.2 1085.1 L1422.7 1085.6 L1424 1084.5 L1424.9 1085.2 L1425.9 1085.9 L1426.9 1087.7 L1427.8 1088.9 L1428.5 1090.6 L1429.2 1090.6 L1429.7 1089.9 L1430.3 1089 L1430.8 1087.6 L1431.5 1085.7 L1432.3 1084.9 L1433.2 1083.2 L1434.1 1082.7 L1435.3 1082.2 L1436.8 1081.5 L1438.4 1081.3 L1440.1 1080 L1441.8 1079.9 L1443.4 1079.5 L1444.7 1078.7 L1445.9 1078.8 L1447.3 1077.2 L1448.9 1076.7 L1450.6 1075.7 L1452.4 1074.8 L1454.2 1074.2 L1455.9 1074.2 L1457.4 1073.6 L1458.6 1072.9 L1459.6 1073.3 L1461 1073.5 L1462.3 1074.9 L1463.4 1076.3 L1464.4 1078 L1465.2 1077.2 L1465.8 1077.2 L1466.5 1077.1 L1467.2 1075.1 L1467.9 1073.3 L1468.7 1071.6 L1469.5 1070.6 L1470.1 1069.7 L1470.8 1068.8 L1471.7 1067 L1472.7 1066.1 L1473.7 1065 L1474.7 1063.7 L1475.8 1062.7 L1476.8 1061.8 L1477.7 1061 L1478.6 1059.8 L1479.6 1059 L1480.8 1057.6 L1482 1056.4 L1483.4 1055.6 L1484.8 1053.9 L1486.2 1053.4 L1487.5 1051.6 L1488.8 1050.7 L1489.9 1049.5 L1490.9 1048.4 L1491.7 1048.1 L1492.7 1046.5 L1493.7 1046.3 L1494.7 1044.4 L1495.8 1043.7 L1497 1042.3 L1498.1 1041 L1499.2 1039.9 L1500.3 1039 L1501.4 1037.5 L1502.4 1035.9 L1503.3 1034.9 L1504.1 1034.3 L1504.8 1032.9 L1505.6 1032.1 L1506.4 1031.4 L1507.3 1029.8 L1508.3 1028.5 L1509.2 1027.6 L1510.2 1025.9 L1511.2 1024.6 L1512.2 1023.2 L1513.2 1022 L1514.1 1020.2 L1515 1018.6 L1515.8 1018.3 L1516.6 1016.7 L1517.3 1015.4 L1517.9 1015 L1518.6 1013.6 L1519.3 1012.5 L1520.1 1010.9 L1520.9 1009.7 L1521.8 1008.6 L1522.6 1007.5 L1523.5 1006 L1524.4 1003.8 L1525.2 1002.3 L1526.1 1001.2 L1526.9 999.3 L1527.7 997.6 L1528.5 996.4 L1529.2 995.6 L1529.9 993.6 L1530.5 992.9 L1531 992 L1531.6 990.5 L1532.1 988.9 L1532.8 987.8 L1533.4 986.5 L1534.1 984.9 L1534.8 983.6 L1535.5 982.9 L1536.2 981 L1536.9 979.4 L1537.6 977.4 L1538.4 976 L1539.1 973.9 L1539.8 972.4 L1540.4 971.2 L1541.1 970.2 L1541.7 968.4 L1542.3 966.7 L1542.8 965.3 L1543.3 963.8 L1543.7 963.1 L1544.2 962.4 L1544.7 960.9 L1545.3 959.3 L1545.9 957.7 L1546.4 955.9 L1547 955.1 L1547.6 953.3 L1548.2 952 L1548.8 949.8 L1549.4 948.6 L1550 947.1 L1550.6 945.3 L1551.2 943.5 L1551.7 943 L1552.2 941.5 L1552.7 940 L1553.2 937.9 L1553.6 937.1 L1554 935.9 L1554.4 935.1 L1554.8 933.3 L1555.2 931.7 L1555.6 929.9 L1556.1 928.1 L1556.6 926.4 L1557.1 925.2 L1557.6 923.9 L1558.1 922.8 L1558.6 921.4 L1559.1 918.9 L1559.6 916.4 L1560.1 915.4 L1560.6 913.9 L1561.1 912.1 L1561.5 910.4 L1562 908.9 L1562.4 907.6 L1562.8 906.2 L1563.2 904.5 L1563.5 903.5 L1563.9 902.2 L1564.2 901 L1564.6 899.9 L1565 898.4 L1565.4 897.1 L1565.8 895.1 L1566.2 894 L1566.6 892.4 L1567.1 890.6 L1567.6 888.8 L1568 887 L1568.5 885.3 L1568.9 884.2 L1569.4 882.4 L1569.9 880.5 L1570.3 878.7 L1570.8 877 L1571.2 875.3 L1571.6 874 L1572 872.7 L1572.4 871 L1572.8 869.8 L1573.1 868.4 L1573.4 867.4 L1573.8 866 L1574.1 865 L1574.5 863.9 L1574.9 862.1 L1575.3 860.5 L1575.7 859.2 L1576.1 857.3 L1576.5 855.5 L1577 853.7 L1577.5 852.1 L1577.9 850.9 L1578.4 848.9 L1578.8 847.2 L1579.3 845.1 L1579.8 843.7 L1580.2 842.1 L1580.7 840.5 L1581.1 838.9 L1581.5 837.2 L1581.9 835.8 L1582.3 834.8 L1582.7 833.2 L1583 832.3 L1583.3 830.8 L1583.7 830 L1584.1 828.5 L1584.5 827.2 L1584.9 825.6 L1585.3 824.2 L1585.8 823.1 L1586.3 820.7 L1586.8 819.1 L1587.3 817.7 L1587.8 816.3 L1588.3 814.2 L1588.8 812.6 L1589.3 811.2 L1589.8 809.3 L1590.3 807.8 L1590.8 806.3 L1591.2 804.9 L1591.7 803.4 L1592.1 801.9 L1592.5 800.4 L1592.9 799.1 L1593.2 798.4 L1593.6 796.7 L1594 795.4 L1594.4 794 L1594.8 792.7 L1595.2 791.1 L1595.7 789.8 L1596.2 788 L1596.7 786.3 L1597.2 784.4 L1597.7 782.9 L1598.2 781 L1598.7 779.5 L1599.2 778 L1599.7 776 L1600.2 775 L1600.7 773.3 L1601.1 771.7 L1601.6 770 L1602 768.9 L1602.4 767.5 L1602.8 766.1 L1603.1 765 L1603.5 763.8 L1603.9 762.3 L1604.4 761.3 L1604.9 759.4 L1605.4 758.1 L1605.9 756.3 L1606.4 754.8 L1607 753.1 L1607.5 751.5 L1608.1 750.2 L1608.6 748.2 L1609.2 746.7 L1609.7 745 L1610.3 743.4 L1610.8 741.6 L1611.3 740.3 L1611.8 738.6 L1612.2 737.8 L1612.6 736.8 L1613 735.4 L1613.5 734.2 L1613.9 732.8 L1614.5 731 L1615 729.6 L1615.6 728.4 L1616.2 726.6 L1616.8 724.8 L1617.4 722.8 L1618 721.6 L1618.6 720.2 L1619.2 718.7 L1619.8 717.2 L1620.4 714.9 L1621 713.6 L1621.5 712.4 L1622 711 L1622.5 709.9 L1622.9 709.1 L1623.6 707.5 L1624.2 706.2 L1625 704.5 L1625.8 702.6 L1626.6 701.3 L1627.5 700 L1628.3 698.5 L1629.2 697.1 L1630 695.3 L1630.8 694.1 L1631.5 692.3 L1632.2 691.6 L1632.8 690.4 L1633.7 689.5 L1634.6 688.1 L1635.6 687 L1636.7 685.9 L1637.8 684.7 L1638.9 683.1 L1640 682.2 L1641 681 L1641.9 680.3 L1642.7 679.3 L1643.7 678.2 L1644.9 677.5 L1646.1 676.5 L1647.5 675.6 L1648.8 674.6 L1650.1 674.3 L1651.4 674 L1652.6 673.1 L1653.7 672.8 L1655.1 672.2 L1656.6 672.1 L1658.3 671.9 L1660 671.3 L1661.7 671 L1663.4 670.7 L1665 670.1 L1666.4 669.8 L1667.5 669 L1668.7 668.7 L1670 668.2 L1671.4 667.6 L1672.8 667 L1674.2 665.9 L1675.6 665 L1676.9 664.3 L1678 663.7 L1679 663.1 L1680.3 662.5 L1681.7 662.3 L1683.3 661.6 L1684.9 661.3 L1686.4 660.9 L1687.8 660.6 L1688.9 660.6 L1690.2 660.6 L1691.6 660.4 L1693.2 661 L1694.8 660.1 L1696.3 659.3 L1697.7 659.6 L1698.8 660.8 L1700.1 660.2 L1701.5 660.6 L1703 662 L1704.5 664.1 L1705.9 663.7 L1707.1 665 L1707.8 666.1 L1708.7 665.9 L1709.6 666.5 L1710.6 667.7 L1711.7 668.7 L1712.7 670.3 L1713.6 671 L1714.5 672.6 L1715.3 674 L1715.9 676.3 L1716.6 675.8 L1717.3 677.4 L1718.1 678.4 L1718.9 680.2 L1719.8 681.6 L1720.7 682.9 L1721.5 684.8 L1722.4 686.1 L1723.2 688.2 L1723.9 690.3 L1724.6 691.6 L1725.2 692.6 L1725.7 693.9 L1726.3 694.6 L1726.9 696.2 L1727.5 698.8 L1728.1 699.5 L1728.8 701.8 L1729.5 702.8 L1730.2 703.6 L1730.9 705.4 L1731.6 706.2 L1732.3 708.6 L1732.9 710.8 L1733.5 712 L1734.1 713.6 L1734.7 714.5 L1735.1 715.3 L1735.6 715.4 L1736.1 717.7 L1736.6 719.7 L1737.1 721.2 L1737.7 722.1 L1738.3 724 L1738.9 725.7 L1739.5 727.4 L1740.1 728.3 L1740.7 729.4 L1741.3 730.4 L1741.9 732.8 L1742.5 734.6 L1743.1 736 L1743.6 738 L1744.1 738.6 L1744.6 740.6 L1745 742.8 L1745.5 743.2 L1746 743.3 L1746.5 745.3 L1747 746.6 L1747.6 748.5 L1748.2 749.9 L1748.8 751.3 L1749.4 753.5 L1750 755.7 L1750.6 756.8 L1751.2 758.4 L1751.8 759 L1752.4 762.5 L1753 762.8 L1753.5 764.4 L1754 765 L1754.5 767.1 L1755 767.7 L1755.4 769.3 L1755.9 770.3 L1756.4 771.7 L1756.9 773.2 L1757.5 774.4 L1758.1 776.3 L1758.7 777.6 L1759.3 779.4 L1759.9 781.1 L1760.5 782.3 L1761.1 784.6 L1761.7 786.7 L1762.3 788.1 L1762.9 788.5 L1763.4 790.9 L1763.9 792.7 L1764.4 792.6 L1764.9 795 L1765.3 794.5 L1765.8 796.8 L1766.3 798.7 L1766.8 800.6 L1767.4 802.4 L1768 803.4 L1768.6 805 L1769.2 807 L1769.8 808.9 L1770.4 809.7 L1771 811.4 L1771.6 811.8 L1772.2 813.3 L1772.8 816.1 L1773.3 817.4 L1773.8 817.8 L1774.3 819.5 L1774.8 820 L1775.1 821.8 L1775.5 823.8 L1775.9 823.9 L1776.4 825.9 L1776.9 827.9 L1777.4 829.4 L1777.9 831.3 L1778.4 832.6 L1778.9 834.2 L1779.5 836.5 L1780 837.4 L1780.5 839.9 L1781.1 841.1 L1781.6 843.1 L1782.1 846.2 L1782.5 847.1 L1783 848.3 L1783.4 850.4 L1783.8 850.9 L1784.1 851.9 L1784.4 853.1 L1784.7 854.4 L1785.5 855.9 L1786.2 857.4 L1786.7 857.2 L1787.3 858.1 L1788 860.3 L1788.3 861 L1788.6 862.6 L1789.1 864.4 L1789.6 864.3 L1790.1 866.8 L1790.6 868.7 L1791.2 870.2 L1791.7 872.2 L1792.3 873.4 L1792.8 875.6 L1793.3 877.1 L1793.8 879.5 L1794.2 878.7 L1794.6 879.6 L1795.2 882 L1796 884.1 L1796.7 884.3 L1797.5 885.4 L1798.2 887.1 L1798.9 889 L1799.5 889.8 L1799.9 891.8 L1800.3 893.8 L1800.7 894.5 L1801.2 896.7 L1801.7 897.1 L1802.2 898.8 L1802.7 901.5 L1803.2 903.6 L1803.7 903.9 L1804.1 905.4 L1804.5 907 L1805.1 908.2 L1805.8 908.8 L1806.5 910.2 L1807.3 911.9 L1808.1 912.4 L1808.8 913 L1809.4 915.7 L1809.7 916 L1810.1 916.1 L1810.5 918.6 L1810.9 920.9 L1811.4 923 L1811.8 924.8 L1812.3 926.1 L1812.7 927.9 L1813.2 929.7 L1813.6 931.9 L1814 932.7 L1814.4 932.5 L1814.9 935 L1815.5 936.2 L1816.2 937.4 L1817 938.7 L1817.7 940.7 L1818.5 941.9 L1819.3 943.4 L1820 944.6 L1820.6 946.4 L1821.1 946.3 L1821.6 948.1 L1822.3 949.7 L1822.9 951 L1823.6 953.4 L1824.4 955.4 L1825.1 956 L1825.8 958.2 L1826.6 958.8 L1827.2 961.7 L1827.8 962.9 L1828.4 963.1 L1828.9 964.5 L1829.5 965.7 L1830.3 966.5 L1831.1 967.1 L1831.9 968.8 L1832.7 970.9 L1833.5 972.5 L1834.3 973.5 L1834.9 974.7 L1835.5 975.2 L1835.9 976.2 L1836.3 977.9 L1836.7 979.4 L1837.2 980.5 L1837.6 982 L1838.1 985.2 L1838.6 986.7 L1839 988.6 L1839.4 989.5 L1839.8 990.6 L1840.1 993 L1840.4 994 L1841 996 L1841.5 996.6 L1842.1 998 L1842.6 999.8 L1843.2 1000.8 L1843.7 1002.7 L1844.4 1004 L1845.2 1003.9 L1846.1 1005.8 L1847.1 1006.5 L1848 1008.1 L1848.7 1009 L1849.3 1009.4 L1850 1010.8 L1850.8 1014.1 L1851.6 1015 L1852.4 1015.4 L1853.1 1015.5 L1853.6 1019.7 L1853.9 1020.4 L1854.3 1020.4 L1854.6 1021.9 L1854.9 1022.7 L1855.2 1024.9 L1855.5 1027.3 L1855.9 1028.1 L1856.2 1029.3 L1856.6 1030.1 L1856.9 1030.9 L1857.3 1032.6 L1857.8 1034.6 L1858.4 1033 L1859.1 1037.2 L1859.8 1037.4 L1860.5 1040.8 L1861.2 1043.1 L1861.9 1045.2 L1862.5 1045.8 L1863.1 1045.1 L1863.5 1048.9 L1864 1048.1 L1864.5 1051.3 L1865 1050.7 L1865.6 1052.7 L1866.2 1053.2 L1866.7 1055.9 L1867.2 1058.6 L1867.7 1060.8 L1868.1 1059.1 L1868.5 1060.6 L1869.6 1061.8 L1870.8 1064.7 L1871.8 1065.5 L1872.2 1067.3 L1872.6 1067.7 L1873.1 1071 L1873.6 1071.5 L1874.1 1073.3 L1874.6 1074.8 L1875.1 1075.4 L1875.9 1075.1 L1877 1076.4 L1878.1 1079.6 L1879.2 1081 L1880 1079.9 L1880.8 1081.5 L1881.6 1080.3 L1882.4 1083.9 L1883.3 1084 L1884.4 1081.6 L1885.8 1082.6 L1887.4 1083.6 L1888.9 1083.9 L1889.9 1084.3 L1891.2 1082.8 L1892.3 1080.4 L1893.2 1084.1 L1893.6 1082.9 L1894.1 1083.7 L1894.6 1085 L1895.1 1088.1 L1895.7 1092.1 L1896.1 1094.1 L1896.5 1095.6 L1896.9 1092.4 L1897.4 1090.9 L1897.9 1090.8 L1898.5 1087.5 L1899 1085.9 L1899.5 1086.2 L1899.8 1082.4 L1901.2 1081.3 L1902.5 1084.8 L1902.7 1084.8 L1902.9 1086.4 L1903.2 1090.1 L1903.5 1091.6 L1903.8 1094.8 L1904.1 1094.4 L1904.3 1096.2 L1904.6 1097.8 L1904.8 1098.4 L1905 1095.2 L1905.3 1094.3 L1905.6 1094.7 L1905.8 1090.4 L1906.2 1087.9 L1906.5 1087 L1906.8 1086.1 L1907.1 1086.8 L1908.3 1085.9 L1909.9 1084.2 L1911.4 1083.3 L1912.4 1083.5 L1913.8 1086.9 L1915.1 1087.8 L1916.3 1088.8 L1917.5 1086.3 L1918.9 1086.4 L1920.5 1090.6 L1921.9 1093.5 L1922.9 1092.5 L1924.1 1089.7 L1925.1 1086.5 L1926.2 1085.6 L1927.2 1087.9 L1928.6 1089 L1930.1 1088.8 L1931.6 1091 L1932.8 1093.1 L1933.8 1092.9 L1935 1092.3 L1936.3 1092.1 L1937.7 1093.7 L1939.1 1094.2 L1940.2 1097.7 L1941.1 1096.2 L1941.9 1097.6 L1942.8 1094.4 L1943.7 1093.3 L1944.6 1092.1 L1945.4 1090.2 L1946 1089.7 L1947.2 1089.8 L1948.5 1090.2 L1949.9 1091.2 L1951 1092.8 L1951.8 1093 L1952.8 1089.4 L1953.7 1088.9 L1954.6 1085.9 L1955.3 1084.9 L1955.9 1085.6 L1956.5 1086.4 L1957 1089.2 L1957.6 1089.5 L1958 1090.6 L1958.4 1092.6 L1958.9 1093.5 L1959.5 1095 L1960 1097.9 L1960.5 1100.1 L1960.9 1099.4 L1961.4 1097.9 L1961.9 1096.6 L1962.5 1095.2 L1963.1 1093.4 L1963.6 1091.9 L1964.2 1093.4 L1965.2 1089.4 L1966.6 1087.6 L1968 1087.2 L1969.1 1085.9 L1970.3 1088.5 L1971.6 1086.8 L1973 1087.6 L1974.1 1087.9 L1975.1 1090.2 L1976.3 1091.3 L1977.7 1091.6 L1979 1092 L1980.1 1092.9 L1981.5 1092.4 L1983.1 1093.2 L1984.9 1089.6 L1986.5 1090.5 L1987.9 1090.9 L1988.9 1089.6 L1989.8 1086.9 L1990.7 1089.5 L1991.5 1092.4 L1992.3 1094 L1993.1 1094.6 L1993.9 1093.7 L1994.8 1095 L1995.9 1094.4 L1997.3 1093.1 L1998.6 1089.7 L2000 1091 L2001.2 1090.3 L2002.1 1090.5 L2003.3 1089.5 L2004.7 1092.4 L2006.1 1093.2 L2007.4 1093.3 L2008.7 1091.9 L2009.8 1091.9 L2011.2 1090.7 L2012.7 1092.6 L2014.4 1092 L2016 1092.2 L2017.4 1089.8 L2018.6 1092.2 L2019.8 1091.3 L2021.2 1090.2 L2022.7 1094.5 L2024.3 1096.2 L2025.8 1094.6 L2027.3 1091.9 L2028.5 1093.6 L2029.8 1095.3 L2031.3 1093.9 L2033.1 1095.7 L2035 1096.4 L2036.7 1096.3 L2038.3 1096.4 L2039.6 1094.4 L2040.4 1094.5" fill="none" stroke="#ff1010" stroke-width="1.55" stroke-linejoin="round"/>
<path d="M184.8 443.9 L184.9 445.2 L184.9 447.1 L185 448.9 L185.1 450.6 L185.1 452 L185.2 454 L185.3 455.9 L185.4 457.5 L185.5 459.9 L185.6 462.8 L185.7 464.7 L185.9 466.2 L186 467.3 L186.1 468.9 L186.2 469.8 L186.3 470.6 L186.5 471 L186.6 469.4 L186.7 469.5 L186.8 468 L187 466.8 L187.2 465.2 L187.3 464.5 L187.5 462.7 L187.7 460.6 L187.8 457.9 L188 455.1 L188.2 453.3 L188.4 451.5 L188.6 449.3 L188.8 447.7 L189 445.4 L189.1 444.6 L189.3 442.8 L189.5 442.2 L189.6 440.5 L189.8 439.5 L190.2 438.6 L190.6 439.9 L191 441.6 L191.5 443.2 L192 445.4 L192.4 447.3 L192.8 449.2 L193.1 450.8 L193.3 451.5 L193.5 453.6 L193.7 456.4 L193.9 458.7 L194.1 461.1 L194.3 462.5 L194.5 463.1 L194.7 462.7 L194.8 460.9 L195 460.8 L195.1 459.4 L195.3 458.6 L195.5 456.7 L195.6 454.8 L195.8 452.7 L196 450.8 L196.2 448 L196.4 445.9 L196.6 445.3 L196.7 443.5 L196.9 441.4 L197.1 439.8 L197.2 438.5 L197.4 439 L197.9 435.8 L198.5 433.5 L199.1 432.2 L199.7 431.6 L200 433.2 L200.3 435.4 L200.7 437.1 L201.1 438.7 L201.5 440.1 L201.9 441.6 L202.3 443.8 L202.7 445 L203 445.4 L203.8 446 L204.5 442.7 L205.3 442.4 L205.5 442.3 L205.7 445.1 L205.9 446.2 L206.1 447.8 L206.3 449.9 L206.5 451.3 L206.8 453.3 L207 455.6 L207.2 456.9 L207.5 458.9 L207.7 460.7 L207.9 461.4 L208.9 462.1 L210 460.4 L211.2 460.3 L211.7 460.5 L212.3 461.6 L212.9 462.3 L213.6 464.3 L214.3 465.8 L215 467.8 L215.6 469 L216.2 470.8 L216.8 473.3 L217.6 473.5 L218.3 475.3 L219.1 476.8 L219.9 477.3 L220.6 478.3 L221.1 478.7 L222.3 478.3 L223.4 475.8 L224.4 476.9 L224.7 477.3 L225.1 478.5 L225.4 480.4 L225.8 482 L226.2 483 L226.6 484.8 L226.9 486.4 L227.3 487.9 L227.7 489.5 L228.4 489.4 L229.3 490.2 L230.2 491.8 L231.1 493.4 L232 494.1 L232.7 495.4 L233.1 497.2 L233.6 498.7 L234 499.9 L234.4 501.4 L234.8 502.5 L235.2 504.9 L235.6 506.2 L236 506.6 L237 508.1 L238.1 507.8 L239.3 508.5 L239.8 508.8 L240.5 511.1 L241.3 512.2 L242.1 514.2 L242.8 515.9 L243.6 517.1 L244.2 518.5 L244.9 519.6 L245.6 520.8 L246.4 522.2 L247.1 523.1 L247.9 524.9 L248.6 525.9 L249.2 526.3 L249.9 528.3 L250.6 529.6 L251.4 531.7 L252.1 532 L252.8 534.2 L253.5 533.9 L254.8 534.1 L256.3 534.5 L257.4 534.2 L257.6 534.9 L257.8 535.2 L258 536.1 L258.2 538 L258.3 540.1 L258.4 541.8 L258.6 543.2 L258.7 544.7 L258.9 546.5 L259.1 549 L259.3 549.9 L259.5 551.1 L259.8 552.7 L260.1 554.1 L260.4 555.5 L260.7 557.9 L261 560.2 L261.4 561.5 L261.8 561.7 L262.2 563.8 L263.3 564.5 L264.6 565.4 L266.1 564.7 L267.6 564.4 L268.8 566.4 L269.2 567.3 L269.6 567.9 L270 569.3 L270.4 571 L270.8 572.6 L271.2 575.1 L271.7 577 L272.1 578.5 L272.5 580.3 L272.9 582.7 L273.3 584.3 L273.7 585 L274.1 586.9 L274.4 588.9 L274.8 589.3 L275.9 590.2 L277.2 591.4 L278.3 592.1 L279.4 592.7 L279.7 592.1 L280 593.2 L280.3 596.3 L280.6 597.3 L280.9 599.2 L281.2 601 L281.5 602.6 L281.9 605.1 L282.2 606.2 L282.5 607.9 L282.9 609.2 L283.3 610.3 L283.7 612.3 L284.5 612.2 L285.6 612.4 L286.9 613.9 L288.1 613.5 L289.4 614.6 L290.4 615.3 L291.3 618 L291.5 618.7 L291.7 620.1 L291.9 620.8 L292.1 622.3 L292.3 622.8 L292.5 625.8 L292.7 627.7 L292.9 629.4 L293 631.2 L293.2 632.9 L293.3 634.9 L293.5 637.8 L293.6 638.8 L293.8 640.3 L293.9 642.6 L294.1 644.2 L294.2 645.2 L294.3 647.6 L294.4 649.1 L294.6 649.2 L294.8 652.2 L295.1 652.7 L295.4 655.4 L295.6 655.5 L295.9 657.4 L296.2 658.5 L296.5 659.4 L296.9 660.9 L297.5 661.3 L298.3 662.1 L299.3 662.6 L300.2 664.2 L301.1 665.5 L301.8 667.2 L302.1 668.1 L302.3 669.3 L302.6 670.6 L302.8 672.1 L303.1 673.7 L303.3 675.4 L303.6 677.1 L303.8 678.9 L304.1 680.6 L304.3 682.4 L304.5 684.1 L304.7 685.7 L304.9 687.2 L305.1 688.6 L305.3 690 L305.5 691.5 L305.7 693.2 L305.8 694.9 L306 696.7 L306.2 698.4 L306.4 700.2 L306.6 702 L306.8 703.6 L307 705.2 L307.2 706.7 L307.4 708 L307.6 709.1 L307.8 710.1 L308.6 711.8 L309.5 712.3 L310.6 712.9 L311.7 715 L312 715.8 L312.3 716.8 L312.6 717.9 L312.9 719.2 L313.3 720.5 L313.7 722 L314.1 723.5 L314.5 725.1 L314.9 726.7 L315.3 728.4 L315.7 730.1 L316.1 731.8 L316.5 733.5 L316.9 735.2 L317.3 736.8 L317.6 738.4 L318 740 L318.3 741.4 L318.6 742.6 L318.8 743.9 L319.1 745.3 L319.4 746.8 L319.7 748.3 L320 749.9 L320.3 751.5 L320.6 753.2 L320.9 754.9 L321.2 756.6 L321.5 758.3 L321.8 760 L322.2 761.7 L322.5 763.3 L322.8 764.9 L323.1 766.5 L323.4 768 L323.7 769.5 L324 770.9 L324.3 772.1 L324.6 773.3 L324.9 774.4 L325.4 776 L325.9 777.6 L326.5 779.1 L327.1 780.6 L327.7 782 L328.3 783.5 L329 784.9 L329.6 786.2 L330.3 787.6 L330.9 788.9 L331.5 790.3 L332.1 791.6 L332.7 792.9 L333.2 794.2 L333.6 795.4 L334.1 796.8 L334.5 798.3 L335 799.8 L335.5 801.5 L336 803.1 L336.5 804.8 L337 806.5 L337.5 808.2 L338 809.8 L338.5 811.4 L339 812.8 L339.5 814.2 L339.9 815.4 L340.3 816.5 L340.8 817.3 L341.9 819 L343.1 820 L344.4 820.6 L345.7 821.2 L346.9 822 L348 823.3 L348.5 824.2 L349.1 825.4 L349.6 826.7 L350.2 828.1 L350.8 829.7 L351.4 831.3 L351.9 832.9 L352.5 834.6 L353.1 836.2 L353.6 837.7 L354.1 839.1 L354.6 840.4 L355.1 841.7 L355.6 843 L356.2 844.3 L356.8 845.7 L357.3 847.1 L357.9 848.5 L358.5 849.9 L359.1 851.4 L359.7 852.8 L360.2 854.2 L360.7 855.6 L361.2 856.9 L361.6 858.1 L362.1 859.5 L362.5 861 L363 862.6 L363.5 864.3 L364 866 L364.5 867.7 L365 869.4 L365.5 871 L366 872.6 L366.5 874 L367 875.3 L367.4 876.5 L367.8 877.4 L368.8 879.1 L370 880.3 L371.1 881.2 L372.3 882 L373.4 882.9 L374.4 884 L375.2 885.1 L376 886.3 L376.8 887.7 L377.7 889.2 L378.6 890.7 L379.4 892.2 L380.2 893.6 L381 894.9 L381.7 896 L382.5 897.3 L383.4 898.7 L384.3 900.1 L385.2 901.4 L386.1 902.8 L386.9 904 L387.7 905 L388.3 905.8 L389.4 907 L390.3 907.9 L391.3 908.5 L392.6 908.7 L393.6 908.8 L395 908.8 L396.5 908.7 L398.1 908.5 L399.7 908.2 L401.2 907.9 L402.5 907.4 L403.6 906.7 L404.8 905.7 L406.1 904.4 L407.3 903.2 L408.5 902 L409.7 901.1 L410.7 900.5 L412 900.4 L413.4 900.6 L414.9 901.1 L416.4 901.6 L417.8 902 L419 902.1 L420.3 902 L421.8 901.8 L423.2 901.3 L424.5 900.5 L425.6 899.2 L426 898.3 L426.4 897.3 L426.9 896.1 L427.3 894.7 L427.7 893.2 L428.1 891.6 L428.5 890 L428.9 888.3 L429.2 886.6 L429.6 884.9 L429.9 883.3 L430.1 882.1 L430.3 880.8 L430.5 879.3 L430.7 877.6 L430.9 875.9 L431.1 874.1 L431.4 872.3 L431.6 870.4 L431.8 868.6 L432 866.8 L432.2 865.1 L432.4 863.5 L432.6 862 L432.8 860.7 L433 859.5 L433.2 858.6 L433.8 856.3 L434.5 854.5 L435.2 853.4 L435.9 852.9 L436.5 853 L436.9 853.5 L437.4 854.6 L437.8 856 L438.3 857.7 L438.8 859.6 L439.3 861.5 L439.8 863.5 L440 864.6 L440.3 866 L440.5 867.5 L440.8 869.1 L441.1 870.9 L441.4 872.7 L441.7 874.6 L442.1 876.4 L442.4 878.2 L442.7 879.9 L443 881.4 L443.2 882.8 L443.5 884 L443.7 885 L444.5 887.3 L445.3 888.9 L446.2 889.7 L447 889.9 L447.8 889.8 L448.7 889.3 L449.7 888.4 L450.8 886.9 L452 885 L452.4 884.1 L453 883.1 L453.6 882 L454.2 880.7 L454.9 879.4 L455.6 877.9 L456.4 876.4 L457.1 874.8 L457.9 873.2 L458.6 871.5 L459.4 869.8 L460.1 868.2 L460.7 866.6 L461.3 865 L461.9 863.5 L462.3 862.4 L462.7 861.2 L463.1 859.9 L463.5 858.5 L464 857.1 L464.4 855.7 L464.8 854.2 L465.3 852.6 L465.7 851.1 L466.2 849.5 L466.6 847.9 L467.1 846.3 L467.5 844.6 L467.9 843 L468.3 841.4 L468.7 839.8 L469.1 838.3 L469.5 836.8 L469.8 835.3 L470.1 833.8 L470.4 832.6 L470.7 831.2 L471 829.8 L471.2 828.3 L471.5 826.7 L471.8 825 L472.1 823.3 L472.4 821.5 L472.7 819.8 L473 818 L473.3 816.1 L473.6 814.4 L473.9 812.6 L474.2 810.8 L474.5 809.1 L474.8 807.5 L475.1 805.9 L475.3 804.4 L475.6 802.9 L475.9 801.6 L476.1 800.4 L476.3 799.3 L476.5 798.3 L476.7 797.5 L477.6 795.1 L478.5 794.4 L479.4 794.4 L480.2 794.1 L481 792.6 L481.3 791.6 L481.6 790.5 L481.9 789.1 L482.2 787.5 L482.6 785.8 L482.9 784 L483.3 782.1 L483.6 780.3 L484 778.4 L484.4 776.6 L484.7 774.8 L485 773.2 L485.4 771.8 L485.7 770.5 L486 769.5 L486.6 767.6 L487.4 765.9 L488.1 764.3 L488.9 763.1 L489.6 762.1 L490.3 761.4 L490.9 761.2 L491.6 761.6 L492.2 762.6 L492.8 764.1 L493.5 765.9 L494.2 767.7 L494.9 769.5 L495.3 770.5 L495.9 771.6 L496.4 773 L497.1 774.4 L497.7 775.9 L498.4 777.4 L499 778.9 L499.7 780.4 L500.3 781.8 L500.9 783.1 L501.5 784.3 L502.1 785.6 L502.7 787 L503.4 788.5 L504.1 790 L504.9 791.5 L505.6 792.9 L506.3 794.3 L506.9 795.5 L507.6 796.6 L508.1 797.5 L509.1 798.7 L510.1 799.4 L511.2 800.1 L512.1 800.9 L513 802.5 L513.4 803.4 L513.8 804.6 L514.2 806 L514.7 807.5 L515.1 809.2 L515.6 810.9 L516.1 812.7 L516.5 814.5 L516.9 816.2 L517.3 817.8 L517.7 819.3 L518 820.6 L518.3 822.1 L518.6 823.6 L518.9 825.3 L519.3 827.1 L519.6 828.8 L519.9 830.5 L520.2 832.2 L520.5 833.7 L520.8 835.1 L521 836.2 L521.3 837.1 L522.3 839.5 L523.5 840.6 L524.6 840.4 L525.1 839.8 L525.7 838.8 L526.3 837.5 L527 835.9 L527.7 834.2 L528.3 832.4 L528.9 830.5 L529.2 829.4 L529.5 828.1 L529.9 826.6 L530.2 825 L530.6 823.2 L531 821.4 L531.4 819.6 L531.8 817.9 L532.1 816.1 L532.5 814.5 L532.9 813.1 L533.2 811.8 L533.5 810.7 L534.2 808.8 L534.9 807 L535.7 805.5 L536.5 804.1 L537.2 803.1 L537.8 802.5 L538.9 802.1 L540.1 802.8 L541.1 804.1 L541.5 805.2 L541.9 806.7 L542.3 808.6 L542.8 810.5 L543.3 812.1 L543.8 813.4 L544.4 814 L545.2 814 L546.3 813.4 L547.5 812.3 L548.8 810.9 L549.9 809.3 L551 807.4 L551.4 806.5 L551.9 805.3 L552.3 804 L552.8 802.5 L553.3 800.9 L553.9 799.2 L554.4 797.5 L554.9 795.8 L555.4 794.1 L555.9 792.5 L556.4 791.1 L556.8 789.7 L557.2 788.6 L557.6 787.6 L558.4 786.2 L559.3 785.3 L560.2 784.7 L561.1 784 L561.8 782.9 L562.5 781 L562.8 780.1 L563 779 L563.2 777.8 L563.5 776.5 L563.7 775.1 L564 773.6 L564.2 771.9 L564.4 770.3 L564.7 768.5 L564.9 766.8 L565.2 765 L565.4 763.2 L565.6 761.4 L565.8 759.7 L566.1 757.9 L566.3 756.2 L566.5 754.6 L566.7 753.4 L566.8 752 L567 750.6 L567.2 749.1 L567.3 747.4 L567.5 745.7 L567.7 744 L567.9 742.2 L568.1 740.4 L568.3 738.6 L568.5 736.7 L568.7 734.9 L568.9 733.1 L569 731.3 L569.2 729.5 L569.4 727.8 L569.6 726.2 L569.8 724.6 L570 723.1 L570.2 721.7 L570.4 720.5 L570.6 719.3 L570.8 718.3 L571.3 716.2 L571.8 714.2 L572.4 712.3 L573 710.6 L573.6 709.1 L574.2 707.7 L574.8 706.5 L575.4 705.6 L575.9 704.9 L576.4 704.5 L577.1 704.3 L577.9 704.6 L578.6 705.6 L579.3 707.1 L580 709.1 L580.7 711.7 L580.9 712.6 L581.1 713.7 L581.3 715 L581.5 716.4 L581.7 717.9 L582 719.5 L582.2 721.3 L582.4 723 L582.7 724.9 L582.9 726.8 L583.2 728.7 L583.4 730.6 L583.7 732.5 L583.9 734.3 L584.2 736.1 L584.4 737.8 L584.7 739.4 L584.9 741 L585.2 742.4 L585.4 743.6 L585.6 744.7 L586.1 746.5 L586.6 748.2 L587.1 749.8 L587.7 751.4 L588.3 752.9 L588.9 754.3 L589.5 755.7 L590.1 756.9 L590.7 758.1 L591.3 759.3 L591.8 760.3 L592.2 761.2 L593 762.7 L593.9 764.2 L594.8 765.6 L595.7 766.9 L596.6 768 L597.3 768.9 L597.9 769.5 L599 769.9 L600 768.5 L600.4 767.6 L601 766.4 L601.6 764.9 L602.2 763.4 L602.9 761.8 L603.5 760.4 L604 759.2 L604.6 757.6 L605.3 755.8 L606 754.1 L606.7 752.9 L607.3 752.6 L607.7 753.3 L608.1 754.5 L608.6 756.2 L609.1 758.1 L609.6 759.9 L610.1 761.5 L610.6 762.5 L611.9 763.2 L613.4 763.2 L614.9 764.2 L615.3 765.1 L615.8 766.4 L616.2 768 L616.8 769.7 L617.3 771.5 L617.8 773.2 L618.3 774.9 L618.7 776.3 L619.1 777.4 L619.9 779 L620.6 780.4 L621.4 781.6 L622.3 782.5 L623.1 783 L624.4 783.1 L626.1 782.6 L627.8 781.8 L629 780.7 L629.7 779.6 L630.3 778.1 L630.8 776.4 L631.3 774.7 L631.8 773.3 L632.3 772.4 L633.6 772.3 L635 773.1 L636.3 773.1 L636.9 772.5 L637.6 771.8 L638.3 770.7 L639 769.4 L639.6 767.8 L640.3 765.8 L640.5 764.9 L640.8 763.7 L641 762.4 L641.3 760.9 L641.6 759.3 L641.9 757.6 L642.3 755.9 L642.6 754.1 L642.9 752.3 L643.2 750.5 L643.5 748.7 L643.8 747.1 L644 745.5 L644.3 744 L644.6 742.7 L644.8 741.4 L645.1 740 L645.4 738.8 L645.8 737.5 L646.1 736.2 L646.4 734.9 L646.8 733.6 L647.1 732.1 L647.4 730.6 L647.7 728.9 L648 727.1 L648.3 725.1 L648.5 722.9 L648.6 722 L648.7 720.9 L648.8 719.7 L648.9 718.5 L649 717.1 L649.1 715.7 L649.2 714.3 L649.3 712.7 L649.4 711.2 L649.5 709.5 L649.6 707.9 L649.8 706.2 L649.9 704.4 L650 702.6 L650.1 700.9 L650.2 699.1 L650.3 697.3 L650.4 695.5 L650.5 693.7 L650.6 691.9 L650.7 690.1 L650.8 688.4 L650.9 686.6 L651 684.9 L651.1 683.3 L651.2 681.7 L651.3 680.2 L651.4 678.7 L651.5 677.3 L651.6 675.9 L651.7 674.6 L651.8 673.4 L651.9 671.8 L652.1 670.1 L652.2 668.4 L652.4 666.7 L652.5 664.9 L652.7 663.1 L652.8 661.3 L653 659.5 L653.2 657.7 L653.3 655.9 L653.5 654.2 L653.7 652.4 L653.8 650.7 L654 649.1 L654.2 647.4 L654.4 645.9 L654.5 644.4 L654.7 643 L654.8 641.6 L655 640.3 L655.2 639.2 L655.3 638.1 L655.4 637.1 L655.8 634.9 L656.3 632.8 L656.7 630.9 L657.2 629.2 L657.6 627.7 L658.1 626.5 L658.6 625.6 L659 624.9 L659.4 624.6 L659.9 624.6 L660.5 625.2 L661.1 626.1 L661.7 627.5 L662.3 629.3 L662.8 631.4 L663.4 633.8 L663.5 634.8 L663.7 635.9 L663.9 637.2 L664.1 638.6 L664.3 640.1 L664.5 641.7 L664.7 643.4 L664.9 645.2 L665.2 647 L665.4 648.8 L665.6 650.7 L665.8 652.6 L666 654.4 L666.3 656.3 L666.5 658 L666.7 659.8 L666.9 661.4 L667.1 662.9 L667.3 664.4 L667.5 665.7 L667.7 666.8 L668 668.6 L668.3 670.5 L668.6 672.5 L668.9 674.5 L669.3 676.4 L669.6 678.3 L670 680.1 L670.4 681.7 L670.7 683.2 L671 684.5 L671.4 685.5 L671.7 686.2 L671.9 686.6 L672.4 686.7 L672.8 686.3 L673.2 685.4 L673.7 684.2 L674.2 682.5 L674.6 680.6 L675.1 678.4 L675.5 676 L675.9 673.4 L676 672.5 L676.2 671.4 L676.3 670.2 L676.5 668.8 L676.6 667.4 L676.8 665.9 L677 664.3 L677.1 662.6 L677.3 660.8 L677.5 659 L677.6 657.2 L677.8 655.3 L678 653.5 L678.1 651.6 L678.3 649.7 L678.5 647.8 L678.7 645.9 L678.8 644.1 L679 642.3 L679.2 640.5 L679.3 638.8 L679.5 637.2 L679.6 635.7 L679.8 634.2 L679.9 632.9 L680.1 631.6 L680.2 630.5 L680.4 628.6 L680.7 626.7 L681 624.8 L681.2 622.9 L681.5 621.1 L681.8 619.3 L682.1 617.5 L682.3 615.9 L682.6 614.3 L682.9 612.8 L683.2 611.4 L683.4 610.2 L683.7 609.1 L683.9 608.2 L684.2 607.4 L685.5 605.4 L686.9 605.6 L688.1 607.4 L688.4 608.2 L688.7 609.2 L689 610.4 L689.4 611.8 L689.7 613.4 L690 615 L690.4 616.8 L690.7 618.5 L690.9 620.4 L691.2 622.2 L691.4 623.9 L691.5 625.1 L691.7 626.4 L691.8 627.9 L691.9 629.5 L692 631.2 L692.1 633 L692.2 634.8 L692.3 636.7 L692.4 638.6 L692.5 640.4 L692.6 642.3 L692.7 644 L692.8 645.7 L692.9 647.3 L693 648.7 L693.1 650 L693.3 651.1 L693.4 652 L694.2 653.8 L695.3 653.7 L696.5 653.9 L697.4 656.9 L697.5 657.8 L697.6 658.7 L697.7 659.9 L697.8 661.1 L697.9 662.5 L698 663.9 L698.1 665.5 L698.2 667.1 L698.3 668.8 L698.4 670.6 L698.5 672.4 L698.6 674.2 L698.7 676.1 L698.8 678 L698.9 679.9 L699 681.8 L699.1 683.7 L699.2 685.6 L699.3 687.5 L699.4 689.3 L699.5 691 L699.6 692.7 L699.7 694.3 L699.8 695.9 L699.8 697.3 L699.9 698.6 L700 699.8 L700.1 701.5 L700.2 703.2 L700.3 705 L700.5 706.7 L700.6 708.5 L700.7 710.3 L700.8 712.1 L700.9 713.9 L701.1 715.7 L701.2 717.4 L701.3 719.1 L701.4 720.7 L701.6 722.2 L701.7 723.7 L701.8 725.1 L701.9 726.4 L702.1 727.6 L702.2 728.6 L702.3 729.5 L702.8 732 L703.3 734.1 L703.9 735.7 L704.5 736.9 L705.1 737.6 L705.6 737.8 L706.1 737.7 L706.7 737.3 L707.3 736.4 L707.8 734.9 L708.4 732.7 L708.9 729.5 L709 728.7 L709.1 727.7 L709.2 726.6 L709.4 725.5 L709.5 724.2 L709.6 722.9 L709.7 721.5 L709.8 720 L710 718.5 L710.1 716.9 L710.2 715.3 L710.3 713.6 L710.5 711.9 L710.6 710.1 L710.7 708.3 L710.8 706.5 L711 704.7 L711.1 702.8 L711.2 701 L711.4 699.1 L711.5 697.3 L711.6 695.5 L711.7 693.6 L711.9 691.8 L712 690.1 L712.1 688.3 L712.2 686.6 L712.3 685.5 L712.4 684.3 L712.5 683 L712.5 681.7 L712.6 680.4 L712.7 679.1 L712.8 677.7 L712.9 676.2 L713 674.8 L713.1 673.3 L713.2 671.7 L713.3 670.2 L713.4 668.6 L713.5 667 L713.6 665.4 L713.8 663.7 L713.9 662.1 L714 660.4 L714.1 658.7 L714.2 657 L714.3 655.3 L714.4 653.6 L714.5 651.9 L714.6 650.2 L714.7 648.5 L714.8 646.8 L714.9 645.1 L715.1 643.4 L715.2 641.7 L715.3 640 L715.4 638.3 L715.5 636.6 L715.6 634.9 L715.7 633.3 L715.7 631.7 L715.8 630.1 L715.9 628.5 L716 627 L716.1 625.4 L716.2 623.9 L716.2 622.7 L716.3 621.4 L716.4 620 L716.4 618.6 L716.5 617.2 L716.6 615.8 L716.6 614.3 L716.7 612.7 L716.8 611.2 L716.9 609.6 L716.9 608 L717 606.4 L717.1 604.7 L717.2 603 L717.2 601.3 L717.3 599.6 L717.4 597.9 L717.4 596.2 L717.5 594.4 L717.6 592.7 L717.7 590.9 L717.7 589.2 L717.8 587.4 L717.9 585.6 L718 583.9 L718 582.1 L718.1 580.3 L718.2 578.6 L718.3 576.8 L718.3 575.1 L718.4 573.4 L718.5 571.7 L718.5 570 L718.6 568.3 L718.7 566.7 L718.7 565.1 L718.8 563.5 L718.9 561.9 L718.9 560.3 L719 558.8 L719.1 557.3 L719.1 555.9 L719.2 554.5 L719.2 553.1 L719.3 551.8 L719.4 550.5 L719.4 549.2 L719.5 548 L719.5 546.4 L719.6 544.8 L719.7 543.1 L719.8 541.4 L719.8 539.7 L719.9 538 L720 536.2 L720 534.4 L720.1 532.6 L720.2 530.8 L720.3 529 L720.3 527.1 L720.4 525.3 L720.5 523.5 L720.6 521.7 L720.6 519.9 L720.7 518.1 L720.8 516.3 L720.9 514.6 L720.9 512.9 L721 511.2 L721.1 509.5 L721.2 507.9 L721.2 506.4 L721.3 504.8 L721.4 503.3 L721.5 501.9 L721.5 500.5 L721.6 499.2 L721.7 498 L721.8 496.8 L721.8 495.6 L721.9 494.6 L722 493.6 L722 492.7 L722.1 491.9 L722.6 488.4 L723.1 486.6 L723.7 485.9 L724.3 485.6 L724.9 485.1 L725.4 483.7 L725.6 482.6 L725.8 481.4 L726.1 480 L726.3 478.4 L726.6 476.7 L726.8 474.9 L727.1 473.1 L727.3 471.3 L727.6 469.5 L727.8 467.8 L728.1 466.2 L728.3 464.7 L728.5 463.3 L728.7 462.2 L729.1 460.4 L729.5 458.6 L729.9 456.9 L730.3 455.2 L730.8 453.7 L731.2 452.4 L731.6 451.4 L732 450.7 L733.3 449.6 L734.8 449.8 L736 452.3 L736.1 453.1 L736.3 454.1 L736.5 455.3 L736.6 456.6 L736.8 458.1 L736.9 459.7 L737.1 461.4 L737.3 463.1 L737.4 464.9 L737.6 466.7 L737.7 468.6 L737.9 470.4 L738 472.2 L738.2 474 L738.3 475.6 L738.5 477.2 L738.6 478.7 L738.8 480 L738.9 481.3 L739.1 482.5 L739.2 483.8 L739.4 485.1 L739.6 486.5 L739.8 487.9 L739.9 489.3 L740.1 490.7 L740.3 492.2 L740.5 493.7 L740.7 495.3 L740.9 497 L741.1 498.7 L741.3 500.5 L741.4 502.3 L741.6 504.3 L741.8 506.3 L741.9 508.4 L742 509.4 L742.1 510.5 L742.1 511.7 L742.2 512.9 L742.3 514.2 L742.4 515.5 L742.4 516.9 L742.5 518.4 L742.6 519.9 L742.7 521.5 L742.8 523 L742.9 524.7 L742.9 526.3 L743 528 L743.1 529.8 L743.2 531.5 L743.3 533.3 L743.4 535.1 L743.5 536.9 L743.6 538.7 L743.7 540.5 L743.7 542.4 L743.8 544.2 L743.9 546 L744 547.8 L744.1 549.6 L744.2 551.4 L744.3 553.2 L744.3 555 L744.4 556.7 L744.5 558.4 L744.6 560.1 L744.6 561.7 L744.7 563.4 L744.8 564.9 L744.9 566.4 L744.9 567.9 L745 569.3 L745 570.7 L745.1 572 L745.2 573.2 L745.2 574.4 L745.3 576.1 L745.4 577.8 L745.4 579.6 L745.5 581.4 L745.6 583.2 L745.6 585 L745.7 586.8 L745.7 588.7 L745.8 590.5 L745.8 592.4 L745.9 594.2 L746 596 L746 597.8 L746.1 599.6 L746.1 601.4 L746.2 603.1 L746.2 604.8 L746.3 606.5 L746.3 608.1 L746.4 609.7 L746.4 611.2 L746.5 612.6 L746.5 614 L746.6 615.3 L746.6 616.6 L746.7 617.7 L746.8 618.8 L746.8 619.7 L746.9 620.6 L747.1 623.3 L747.4 624.9 L747.8 625.7 L748.1 626.2 L748.5 626.9 L748.8 628.2 L749.2 630.5 L749.3 631.4 L749.4 632.5 L749.5 633.6 L749.6 634.8 L749.7 636.2 L749.8 637.6 L750 639.1 L750.1 640.7 L750.2 642.3 L750.4 644 L750.5 645.7 L750.6 647.5 L750.8 649.3 L750.9 651.1 L751.1 652.9 L751.2 654.8 L751.4 656.6 L751.5 658.4 L751.7 660.2 L751.8 662 L751.9 663.7 L752.1 665.4 L752.2 667 L752.3 668.6 L752.5 670.1 L752.6 671.4 L752.7 672.7 L752.8 674.2 L753 675.6 L753.1 677.2 L753.2 678.7 L753.4 680.4 L753.5 682.1 L753.6 683.8 L753.8 685.5 L753.9 687.2 L754.1 689 L754.3 690.8 L754.4 692.6 L754.6 694.3 L754.7 696.1 L754.9 697.8 L755 699.6 L755.2 701.3 L755.3 702.9 L755.5 704.6 L755.7 706.1 L755.8 707.7 L756 709.1 L756.1 710.5 L756.2 711.9 L756.4 713.1 L756.5 714.3 L756.6 715.4 L756.8 716.3 L757.1 718.5 L757.4 720.6 L757.7 722.6 L758 724.5 L758.4 726.3 L758.8 728.1 L759.1 729.7 L759.5 731.1 L759.8 732.4 L760.1 733.5 L760.5 734.4 L760.8 735 L761.1 735.5 L761.6 735.7 L762.2 735.2 L762.8 734.2 L763.4 732.7 L763.9 730.8 L764.5 728.6 L765 726.2 L765.2 725.3 L765.4 724.2 L765.6 723.1 L765.8 721.8 L766 720.5 L766.3 719.1 L766.5 717.6 L766.7 716 L767 714.4 L767.2 712.7 L767.4 711 L767.6 709.2 L767.9 707.4 L768.1 705.6 L768.3 703.8 L768.5 702 L768.6 700.1 L768.8 698.3 L769 696.5 L769.1 695.4 L769.2 694.2 L769.2 693 L769.3 691.8 L769.4 690.5 L769.5 689.1 L769.6 687.7 L769.7 686.3 L769.8 684.9 L769.9 683.4 L769.9 681.8 L770 680.3 L770.1 678.7 L770.2 677.1 L770.3 675.4 L770.4 673.8 L770.5 672.1 L770.5 670.4 L770.6 668.7 L770.7 666.9 L770.8 665.1 L770.9 663.4 L771 661.6 L771 659.8 L771.1 658 L771.2 656.2 L771.3 654.3 L771.4 652.5 L771.5 650.7 L771.5 648.9 L771.6 647 L771.7 645.9 L771.7 644.8 L771.8 643.6 L771.8 642.3 L771.9 641 L771.9 639.7 L772 638.3 L772.1 636.9 L772.1 635.5 L772.2 634 L772.2 632.5 L772.3 630.9 L772.4 629.4 L772.4 627.8 L772.5 626.2 L772.6 624.5 L772.6 622.8 L772.7 621.2 L772.8 619.5 L772.8 617.7 L772.9 616 L773 614.3 L773 612.5 L773.1 610.7 L773.2 609 L773.2 607.2 L773.3 605.4 L773.4 603.6 L773.4 601.8 L773.5 600 L773.6 598.3 L773.6 596.5 L773.7 594.7 L773.8 593 L773.9 591.2 L773.9 589.5 L774 587.7 L774.1 586 L774.1 584.3 L774.2 582.6 L774.3 581 L774.3 579.3 L774.4 577.7 L774.4 576.1 L774.5 574.6 L774.6 573 L774.6 571.5 L774.7 570.1 L774.7 568.6 L774.8 567.2 L774.9 565.8 L774.9 564.5 L775 563.1 L775 561.6 L775.1 560.1 L775.2 558.6 L775.2 557 L775.3 555.4 L775.4 553.8 L775.4 552.2 L775.5 550.5 L775.6 548.8 L775.6 547.1 L775.7 545.4 L775.8 543.7 L775.8 542 L775.9 540.2 L776 538.5 L776.1 536.7 L776.1 534.9 L776.2 533.1 L776.3 531.4 L776.3 529.6 L776.4 527.8 L776.5 526 L776.6 524.3 L776.6 522.5 L776.7 520.8 L776.8 519 L776.9 517.3 L776.9 515.6 L777 513.9 L777.1 512.2 L777.2 510.6 L777.2 509 L777.3 507.4 L777.4 505.8 L777.4 504.3 L777.5 502.7 L777.6 501.3 L777.6 499.8 L777.7 498.4 L777.8 497 L777.8 495.7 L777.9 494.4 L778 493.1 L778 491.9 L778.1 490.8 L778.2 489.7 L778.2 488.6 L778.3 486.6 L778.5 484.7 L778.6 482.7 L778.7 480.7 L778.8 478.8 L779 476.9 L779.1 475 L779.2 473.1 L779.4 471.3 L779.5 469.5 L779.7 467.7 L779.8 466 L779.9 464.3 L780.1 462.7 L780.2 461.1 L780.4 459.6 L780.5 458.1 L780.6 456.7 L780.8 455.4 L780.9 454.1 L781 452.9 L781.2 451.8 L781.3 450.8 L781.4 449.9 L781.5 449 L782.1 445.6 L782.8 443.4 L783.6 442.2 L784.2 441.7 L784.8 441.7 L785.2 442.3 L785.6 443.4 L786 444.9 L786.4 446.7 L786.8 448.6 L787.1 450.5 L787.5 452.3 L787.7 453.5 L787.9 454.8 L788.1 456.3 L788.3 457.9 L788.5 459.6 L788.7 461.3 L789 463 L789.2 464.6 L789.4 466.1 L789.6 467.6 L789.8 468.8 L790 470.1 L790.2 471.1 L790.5 472 L790.8 473 L791 474 L791.3 475.3 L791.6 477 L791.8 479.2 L792.1 482 L792.1 482.9 L792.2 483.9 L792.3 485 L792.4 486.2 L792.4 487.5 L792.5 488.9 L792.6 490.3 L792.7 491.9 L792.7 493.5 L792.8 495.1 L792.9 496.8 L793 498.5 L793.1 500.3 L793.2 502.1 L793.2 504 L793.3 505.8 L793.4 507.7 L793.5 509.6 L793.6 511.5 L793.7 513.3 L793.8 515.2 L793.8 517 L793.9 518.8 L794 520.6 L794.1 522.3 L794.2 524 L794.2 525.6 L794.3 527.1 L794.4 528.6 L794.5 530 L794.5 531.4 L794.6 532.6 L794.7 533.8 L794.7 534.8 L794.8 536.7 L795 538.5 L795.1 540.2 L795.2 541.7 L795.3 543.2 L795.5 544.6 L795.6 546 L795.7 547.4 L795.8 548.7 L796 550 L796.1 551.4 L796.2 552.8 L796.3 554.3 L796.4 555.9 L796.5 557.5 L796.6 559.3 L796.7 561.2 L796.7 562.3 L796.8 563.4 L796.8 564.6 L796.9 565.9 L796.9 567.3 L796.9 568.7 L797 570.2 L797 571.7 L797 573.3 L797.1 575 L797.1 576.6 L797.1 578.4 L797.2 580.1 L797.2 581.9 L797.2 583.7 L797.3 585.5 L797.3 587.3 L797.3 589.1 L797.4 590.9 L797.4 592.7 L797.4 594.5 L797.5 596.2 L797.5 598 L797.5 599.7 L797.6 601.4 L797.6 603 L797.7 604.6 L797.7 606.1 L797.8 607.6 L797.8 609.1 L797.9 610.4 L797.9 611.7 L798 612.9 L798 614 L798.1 615.8 L798.2 617.4 L798.4 619.1 L798.5 620.7 L798.7 622.3 L798.8 623.9 L799 625.4 L799.2 626.9 L799.3 628.5 L799.5 630 L799.7 631.5 L799.9 633 L800.1 634.5 L800.2 636 L800.4 637.5 L800.6 639 L800.7 640.6 L800.9 642.1 L801.1 643.7 L801.2 645.4 L801.3 647 L801.4 648.2 L801.5 649.5 L801.6 650.8 L801.7 652.1 L801.7 653.6 L801.8 655 L801.9 656.6 L802 658.1 L802.1 659.8 L802.2 661.4 L802.3 663.1 L802.4 664.8 L802.5 666.5 L802.6 668.3 L802.6 670 L802.7 671.8 L802.8 673.6 L802.9 675.3 L803 677.1 L803.1 678.9 L803.2 680.6 L803.3 682.4 L803.3 684.1 L803.4 685.8 L803.5 687.4 L803.6 689 L803.7 690.6 L803.7 692.2 L803.8 693.7 L803.9 695.1 L804 696.5 L804 697.9 L804.1 699.4 L804.2 700.9 L804.2 702.4 L804.3 703.9 L804.4 705.5 L804.5 707.1 L804.5 708.8 L804.6 710.5 L804.7 712.2 L804.8 713.9 L804.9 715.6 L804.9 717.3 L805 719 L805.1 720.8 L805.2 722.5 L805.3 724.2 L805.3 726 L805.4 727.7 L805.5 729.4 L805.6 731 L805.6 732.7 L805.7 734.3 L805.8 735.9 L805.9 737.5 L805.9 739 L806 740.5 L806.1 742 L806.1 743.4 L806.2 744.7 L806.3 746 L806.3 747.5 L806.4 749 L806.5 750.5 L806.6 752.1 L806.7 753.6 L806.8 755.2 L806.8 756.8 L806.9 758.4 L807 760 L807.1 761.6 L807.2 763.2 L807.3 764.8 L807.4 766.4 L807.5 768.1 L807.6 769.7 L807.7 771.3 L807.8 773 L807.9 774.6 L807.9 776.2 L808 777.9 L808.1 779.5 L808.2 781.1 L808.3 782.7 L808.4 784.3 L808.4 785.8 L808.5 787.4 L808.6 788.9 L808.6 790.2 L808.7 791.5 L808.7 792.9 L808.8 794.3 L808.9 795.7 L808.9 797.2 L809 798.8 L809 800.3 L809.1 801.9 L809.1 803.6 L809.2 805.2 L809.2 806.9 L809.3 808.6 L809.3 810.3 L809.4 812.1 L809.5 813.8 L809.5 815.6 L809.6 817.3 L809.6 819.1 L809.7 820.8 L809.7 822.6 L809.8 824.3 L809.9 826 L809.9 827.7 L810 829.4 L810.1 831 L810.1 832.6 L810.2 834.2 L810.2 835.8 L810.3 837.3 L810.4 838.8 L810.4 840.2 L810.5 841.6 L810.6 842.9 L810.6 844.3 L810.7 845.7 L810.8 847.2 L810.9 848.7 L811 850.2 L811.1 851.8 L811.2 853.4 L811.3 855 L811.4 856.6 L811.5 858.2 L811.6 859.8 L811.7 861.5 L811.8 863.1 L811.9 864.8 L812 866.4 L812.1 868.1 L812.3 869.7 L812.4 871.4 L812.5 873 L812.6 874.6 L812.7 876.2 L812.8 877.8 L812.9 879.4 L813.1 881 L813.2 882.5 L813.3 884 L813.4 885.5 L813.5 887 L813.6 888.4 L813.7 889.8 L813.8 891.1 L813.9 892.4 L814 893.8 L814.1 895.3 L814.2 896.8 L814.3 898.4 L814.4 900 L814.5 901.6 L814.6 903.3 L814.7 904.9 L814.8 906.6 L815 908.3 L815.1 910 L815.2 911.7 L815.3 913.5 L815.5 915.2 L815.6 916.9 L815.7 918.6 L815.8 920.3 L815.9 922 L816.1 923.7 L816.2 925.3 L816.3 926.9 L816.4 928.5 L816.5 930.1 L816.6 931.6 L816.7 933.1 L816.9 934.6 L817 936 L817.1 937.3 L817.2 938.6 L817.3 940.1 L817.4 941.7 L817.5 943.3 L817.6 944.9 L817.8 946.6 L817.9 948.3 L818 950 L818.2 951.8 L818.3 953.5 L818.5 955.3 L818.6 957 L818.7 958.8 L818.9 960.5 L819 962.2 L819.2 963.9 L819.3 965.6 L819.4 967.2 L819.6 968.8 L819.7 970.4 L819.8 971.8 L820 973.3 L820.1 974.6 L820.2 975.9 L820.3 977.1 L820.5 978.2 L820.7 980 L820.9 981.8 L821.1 983.5 L821.3 985.3 L821.5 987 L821.8 988.7 L822 990.3 L822.2 991.9 L822.5 993.4 L822.7 994.9 L822.9 996.3 L823.1 997.7 L823.4 999 L823.6 1000.2 L823.8 1001.3 L824.1 1002.9 L824.4 1004.6 L824.7 1006.2 L825 1007.7 L825.3 1009.3 L825.7 1010.8 L826 1012.2 L826.4 1013.6 L826.7 1014.9 L827.1 1016.2 L827.5 1017.6 L828 1019 L828.5 1020.6 L829.1 1022.2 L829.7 1023.7 L830.3 1025.6 L830.9 1026.2 L831.4 1028.8 L832 1028.8 L832.6 1030.4 L833.3 1031.1 L834 1032.1 L834.8 1035.1" fill="none" stroke="#0505f5" stroke-width="3.3" stroke-linejoin="round" stroke-linecap="round"/>
<path d="M834.8 1035.1 L835.6 1036.5 L836.4 1038 L837.2 1038.1 L837.9 1040.2 L838.6 1041.6 L839.4 1042.6 L840.2 1043.4 L841.1 1046.1 L842 1046.9 L842.9 1046.2 L843.8 1049.2 L844.5 1048.5 L845.2 1051.2 L845.9 1051.8 L846.6 1053.9 L847.3 1055.8 L848 1056.4 L848.8 1058.5 L849.5 1060.5 L850.2 1061.1 L851.1 1062.3 L852.1 1063.1 L853.3 1063.7 L854.5 1065.3 L855.7 1065.7 L856.8 1067.9 L857.9 1066.6 L859.2 1067.4 L860.5 1068.9 L862 1069.8 L863.5 1069.4 L865 1069.8 L866.2 1069.5 L867.5 1070.7 L869 1071.1 L870.5 1068.8 L872.2 1069.8 L873.8 1069.1 L875.4 1069.8 L876.9 1070.7 L878.2 1071.6 L879.5 1071.7 L881 1072.6 L882.5 1071.2 L884 1072 L885.6 1072.3 L887.2 1072.4 L888.7 1072.7 L890.1 1073.4 L891.4 1074.3 L892.7 1072.3 L894.1 1072.4 L895.5 1071.4 L896.9 1072.6 L898.4 1073.8 L899.9 1072.3 L901.5 1073.3 L903.1 1073.4 L904.6 1073.5 L905.8 1072.9 L907.2 1072.7 L908.6 1071.7 L910.2 1073.1 L911.9 1071.6 L913.7 1071.2 L915.4 1071.3 L917.1 1070.7 L918.8 1072.5 L920.4 1071.8 L921.9 1070.6 L923.2 1070.6 L924.4 1071.7 L926 1071.3 L927.6 1071.6 L929.1 1070.2 L930.6 1072.7 L932.1 1073 L933.6 1072 L935 1072 L936.3 1071.3 L937.6 1073.2 L939 1074.1 L940.5 1072.9 L942 1072.5 L943.7 1071.8 L945.3 1071.8 L946.9 1070.2 L948.4 1070.1 L949.7 1071.2 L950.8 1072.9 L952.4 1072.8 L954 1071.8 L955.5 1071.4 L956.9 1073.2 L958.1 1073.1 L959.1 1074.1 L960.2 1075.6 L961 1077.6 L961.7 1080.5 L962.4 1078.8 L962.8 1078.4 L963.2 1078.4 L963.6 1076.8 L964 1075.5 L964.5 1073.2 L964.9 1071.6 L965.3 1068.6 L965.7 1070 L966.8 1069.6 L968 1071 L969 1071.1 L969.4 1070.7 L969.9 1068.1 L970.3 1068.8 L970.8 1067.3 L971.3 1065.7 L971.9 1065.3 L972.7 1065.9 L973.6 1070.2 L974.5 1070.5 L975.6 1070.9 L976.7 1074.2 L978 1073.4 L979.6 1073 L981.1 1072.8 L982.6 1073.3 L983.8 1072.7 L985.2 1072.4 L986.7 1074.1 L988.1 1073.8 L989.4 1073.2 L990.4 1072.4 L991.8 1071.7 L992.9 1069.8 L993.7 1070.4 L994 1071.4 L994.2 1073.2 L994.4 1075 L994.6 1077.9 L994.7 1079.8 L994.9 1081.8 L995.1 1082.8 L995.4 1083.4 L995.7 1083.1 L996.2 1080.8 L996.7 1079.4 L997.2 1078.6 L997.7 1077.9 L998.2 1075.2 L998.7 1073.8 L999.2 1072.8 L999.8 1072 L1000.4 1069.7 L1001.1 1066.6 L1002 1067.6 L1003 1067.1 L1004.3 1066.4 L1005.8 1065 L1007.3 1065 L1008.8 1065.5 L1010.2 1065.2 L1011.4 1066.2 L1012.8 1065.8 L1014.3 1065.8 L1015.9 1066 L1017.4 1067 L1018.8 1067.6 L1020.1 1067.2 L1021.4 1064.8 L1022.9 1064.7 L1024.5 1065.2 L1026 1065.9 L1027.5 1065.2 L1028.9 1065.7 L1030 1066.5 L1031.4 1066.5 L1032.7 1065.3 L1034 1065.2 L1035.3 1066.1 L1036.6 1064.6 L1037.8 1063.2 L1039.2 1063.7 L1040.7 1064.5 L1042.3 1065 L1043.9 1064.9 L1045.3 1066.1 L1046.5 1066 L1047.7 1065.6 L1048.9 1066.4 L1050.2 1067.5 L1051.5 1068.5 L1052.7 1068.2 L1053.8 1069.5 L1054.8 1070 L1055.9 1070.9 L1057.1 1073.4 L1058.4 1074.5 L1059.5 1075.6 L1060.6 1076.1 L1061.4 1075.6 L1061.8 1075.4 L1062.3 1075.1 L1062.7 1073.5 L1063 1071.2 L1063.4 1069.4 L1063.7 1066.1 L1064.1 1064.9 L1064.4 1064 L1064.7 1062.6 L1065.8 1064.8 L1066.9 1065.8 L1068 1066.8 L1068.6 1066.9 L1069.2 1067.6 L1069.9 1071.6 L1070.6 1073.7 L1071.3 1072.4 L1071.9 1071.4 L1072.6 1069.8 L1073.4 1069.2 L1074.2 1067 L1074.9 1065.1 L1075.7 1063.5 L1076.2 1062.1 L1076.9 1062.8 L1077.6 1062.1 L1078.2 1065.1 L1078.9 1066.7 L1079.5 1067.7 L1080.5 1069.4 L1081.6 1069.5 L1082.9 1069.9 L1084.5 1069.6 L1085.5 1069.6 L1086.8 1070.2 L1088.2 1068.6 L1089.8 1068.1 L1091.5 1068.9 L1093.1 1068.4 L1094.6 1068.8 L1096 1066.4 L1097.3 1066.3 L1098.7 1065.4 L1100.2 1065.4 L1101.8 1065 L1103.3 1066.5 L1104.9 1065.3 L1106.5 1063.4 L1107.9 1064.5 L1109.2 1063.8 L1110.6 1063.3 L1112 1062.7 L1113.5 1061.6 L1115.1 1063.7 L1116.6 1062.9 L1118.2 1061.6 L1119.7 1061.9 L1121.1 1061.3 L1122.4 1060.6 L1123.7 1060.8 L1125.1 1059.1 L1126.6 1059.3 L1128.1 1059.4 L1129.6 1057.7 L1131.2 1058 L1132.7 1057.7 L1134.2 1057.1 L1135.6 1057.8 L1136.9 1057.2 L1138.4 1056.7 L1140 1055.3 L1141.8 1055.1 L1143.5 1053.8 L1145.3 1053.5 L1147 1054.1 L1148.6 1053.8 L1150 1054.2 L1151.2 1053.4 L1152.1 1053.3 L1153.8 1055 L1154.4 1056.6 L1155.4 1056.6 L1156.5 1056.7 L1157.8 1056.9 L1159.4 1056.6 L1161.1 1055.5 L1162.7 1054 L1164.2 1055.4 L1165.3 1054.6 L1166.6 1054.2 L1167.7 1053.7 L1168.9 1055.3 L1170.2 1056.8 L1171.9 1057 L1173 1056.2 L1174.2 1056 L1175.6 1056.8 L1177.2 1055.5 L1178.8 1056.3 L1180.5 1055 L1182.2 1054.8 L1183.9 1054.4 L1185.6 1053.5 L1187.1 1053.3 L1188.4 1052.7 L1189.8 1053.2 L1191.2 1052.8 L1192.7 1051.6 L1194.3 1050.4 L1195.9 1051.4 L1197.5 1050 L1199.1 1049.8 L1200.7 1049.3 L1202.2 1048.9 L1203.6 1048.5 L1205 1048.1 L1206.3 1047.6 L1207.7 1046.8 L1209.1 1047.5 L1210.6 1047.4 L1212.1 1045.4 L1213.6 1044.4 L1215.2 1045 L1216.8 1044.4 L1218.3 1044.4 L1219.9 1044.9 L1221.5 1044.5 L1222.6 1043.1 L1223.9 1042.4 L1225.3 1041.7 L1226.9 1041.7 L1228.5 1041.3 L1230.2 1040.5 L1231.9 1041.3 L1233.6 1040.2 L1235.3 1038.7 L1236.9 1039.1 L1238.5 1039.5 L1240 1039.3 L1241.4 1038 L1242.6 1036.4 L1243.7 1036 L1244.6 1036.6 L1246.6 1035.4 L1247.5 1036.6 L1248.2 1037.2 L1250 1038.9 L1250.9 1037.5 L1252.1 1037.2 L1253.5 1037.1 L1255 1037.3 L1256.6 1037.2 L1258.3 1037.7 L1260 1035.9 L1261.8 1034.5 L1263.5 1033.4 L1265.3 1033.4 L1266.9 1033.5 L1268.4 1033.8 L1269.8 1033.2 L1271.1 1032 L1272.4 1031.6 L1273.8 1030.5 L1275.2 1029.8 L1276.7 1030.1 L1278.2 1028.1 L1279.7 1028.5 L1281.2 1028.2 L1282.7 1027.2 L1284.2 1027 L1285.6 1025.1 L1287 1026 L1288.4 1025.4 L1289.6 1025.4" fill="none" stroke="#0505f5" stroke-width="2.7" stroke-linejoin="round" stroke-linecap="round"/>
<path d="M1289.6 1025.4 L1290.9 1024.6 L1292.2 1023.7 L1293.6 1024.8 L1295.1 1023.2 L1296.6 1022.9 L1298.1 1021.1 L1299.7 1020.7 L1301.2 1021.1 L1302.7 1020.5 L1304.2 1019.9 L1305.6 1019.1 L1307 1018.5 L1308.2 1018.7 L1309.4 1017.5 L1310.7 1017.3 L1312.1 1016.5 L1313.5 1015.6 L1314.9 1015.6 L1316.4 1014.5 L1317.8 1014.5 L1319.3 1013.7 L1320.7 1012.8 L1322.1 1012.5 L1323.4 1011.9 L1324.7 1011 L1325.9 1011.2 L1327.3 1010.3 L1328.7 1010 L1330.3 1009.7 L1331.9 1009.3 L1333.5 1008.9 L1335.2 1008.5 L1336.8 1008.8 L1338.3 1007.9 L1339.8 1007.2 L1341.2 1006.3 L1342.4 1006.5 L1343.9 1006.7 L1345.4 1005.9 L1346.9 1005.4 L1348.4 1004.8 L1350 1003.7 L1351.5 1003.4 L1352.9 1002.5 L1354.3 1001.4 L1355.6 1001.1 L1356.8 1000.5 L1358.1 999.9 L1359.4 998.9 L1360.8 997.8 L1362.2 997.8 L1363.6 996.6 L1365 995.2 L1366.4 994.5 L1367.6 993.3 L1368.8 993 L1369.9 992.5 L1371 991.5 L1372.2 990.9 L1373.5 989.7 L1374.8 989.4 L1376.1 987.8 L1377.3 986.7 L1378.6 986.2 L1379.8 985.6 L1380.9 984.5 L1382 984.1 L1383 982.2 L1384.1 981.6 L1385.2 980.6 L1386.3 979.6 L1387.5 978.5 L1388.7 977.1 L1389.9 976.5 L1391.1 975 L1392.2 973.8 L1393.3 972.7 L1394.3 972.2 L1395.2 971.3 L1396.2 969.7 L1397.3 969.3 L1398.4 968.5 L1399.5 967.2 L1400.7 966 L1401.8 964.7 L1402.9 963.9 L1404 963 L1405 961.6 L1405.9 960.1 L1406.8 959.7 L1407.7 958.8 L1408.7 957.7 L1409.7 956.3 L1410.7 954.8 L1411.7 953.4 L1412.7 951.8 L1413.5 950.8 L1414.3 949.5 L1415 948.3 L1415.7 946.9 L1416.4 945.8 L1417.1 944.1 L1417.8 942.9 L1418.4 941.6 L1419 939.9 L1419.5 937.9 L1420 936.4 L1420.2 935.6 L1420.5 934.7 L1420.8 933.2 L1421.1 931.8 L1421.4 930.1 L1421.6 928.7 L1421.9 927.4 L1422.1 925.5 L1422.4 923.7 L1422.6 922.4 L1422.9 920.7 L1423.1 917.9 L1423.3 916.5 L1423.4 915.7 L1423.5 914.8 L1423.6 913 L1423.7 912.2 L1423.9 910.7 L1424 909.4 L1424.1 907.6 L1424.2 906.2 L1424.3 904 L1424.4 902.9 L1424.6 901 L1424.7 898.8 L1424.8 897.3 L1424.9 895.9 L1425 893.6 L1425.1 892.5 L1425.2 891.2 L1425.3 888.8 L1425.4 887.2 L1425.5 885.2 L1425.6 884.1 L1425.6 882.7 L1425.7 881.2 L1425.8 879.9 L1425.8 878.5 L1425.9 876.6 L1426 875.5 L1426 874.2 L1426.1 871.7 L1426.2 869.9 L1426.3 868.5 L1426.3 867.4 L1426.4 865.1 L1426.5 862.9 L1426.5 861.1 L1426.6 859.3 L1426.7 857.2 L1426.7 855.9 L1426.8 854.3 L1426.9 852 L1427 850.3 L1427 849 L1427.1 847 L1427.2 845.2 L1427.2 843.9 L1427.3 842.1 L1427.4 841 L1427.4 839.2 L1427.5 838.4 L1427.6 837.4 L1427.7 835.6 L1427.8 833.9 L1427.9 831.9 L1428.1 829.4 L1428.2 828.1 L1428.3 825.9 L1428.5 823.7 L1428.6 821.8 L1428.8 820.2 L1428.9 818.3 L1429.1 816.8 L1429.2 815.2 L1429.3 813.9 L1429.5 812.8 L1429.6 812 L1429.7 812 L1429.9 810.6 L1430.1 811.1 L1430.3 811.8 L1430.5 812.9 L1430.7 813.9 L1430.9 816.2 L1431.2 817.6 L1431.4 819.2 L1431.6 821.5 L1431.8 823.9 L1432 826.2 L1432.2 828.1 L1432.3 829.1 L1432.4 830.1 L1432.5 831.2 L1432.6 832.7 L1432.7 834.2 L1432.8 835.5 L1432.9 837.8 L1433 839.2 L1433.1 841.1 L1433.2 842.9 L1433.3 844.7 L1433.4 846.4 L1433.5 848.1 L1433.7 849.9 L1433.8 851.4 L1433.9 852.9 L1434 854 L1434.1 856.3 L1434.2 857.2 L1434.3 859 L1434.4 860.5 L1434.5 862.2 L1434.7 864.2 L1434.8 866.1 L1434.9 867.5 L1435.1 869.2 L1435.2 871.1 L1435.4 872.7 L1435.5 874.5 L1435.7 876.5 L1435.8 878.1 L1436 879 L1436.1 880.6 L1436.2 882.1 L1436.3 882.9 L1436.5 884 L1437 886.8 L1437.5 888.3 L1438.1 889.3 L1438.8 889.7 L1439.5 889.2 L1440.3 888.1 L1441.3 886.3 L1442.2 884.4 L1443.1 884.2 L1443.9 884.7 L1444.8 886.4 L1445.7 887.8 L1446.6 890 L1447.4 890.6 L1448.3 890.5 L1449.3 889.7 L1450.3 888 L1451.3 885.1 L1451.6 884.6 L1451.8 883.6 L1452.1 883 L1452.4 881.6 L1452.8 880.2 L1453.1 878.6 L1453.4 876.7 L1453.8 874.9 L1454.1 873.6 L1454.5 871.6 L1454.8 870.2 L1455.1 868.3 L1455.4 866.9 L1455.7 864.6 L1456 862.8 L1456.3 860.2 L1456.4 859.1 L1456.5 858.9 L1456.7 857.8 L1456.8 856.9 L1456.9 855.5 L1457.1 854 L1457.2 852.7 L1457.3 851.1 L1457.5 850 L1457.6 848 L1457.8 846.6 L1457.9 845.6 L1458.1 843.4 L1458.2 841.6 L1458.4 840.3 L1458.5 838.7 L1458.6 836.7 L1458.8 835.2 L1458.9 833.5 L1459.1 832 L1459.2 830.1 L1459.4 828.8 L1459.5 826.6 L1459.6 825.5 L1459.7 823 L1459.9 821.4 L1460 819.4 L1460.1 818.4 L1460.2 816.5 L1460.3 814.8 L1460.5 812.6 L1460.6 811.1 L1460.6 810 L1460.7 809.3 L1460.8 807.4 L1460.8 806.5 L1460.9 805 L1461 803.7 L1461.1 802 L1461.1 800 L1461.2 798.7 L1461.3 796.7 L1461.4 795.1 L1461.5 794 L1461.5 792.2 L1461.6 789.6 L1461.7 788.6 L1461.8 786.8 L1461.8 785.1 L1461.9 782.5 L1462 780.4 L1462.1 779.3 L1462.1 777.6 L1462.2 775.8 L1462.3 773.4 L1462.4 772.2 L1462.5 769.7 L1462.5 767.7 L1462.6 766.1 L1462.7 764.3 L1462.7 762.7 L1462.8 761.2 L1462.9 759 L1463 757.4 L1463 755.6 L1463.1 754.2 L1463.2 752.1 L1463.2 750.9 L1463.3 749.7 L1463.4 748.5 L1463.4 746.6 L1463.5 745.5 L1463.6 744.3 L1463.6 742.9 L1463.7 742 L1463.7 740.1 L1463.8 739.7 L1463.9 739 L1464 736.2 L1464.2 733.8 L1464.4 731 L1464.5 729.3 L1464.7 726.7 L1464.9 724.9 L1465 722.5 L1465.2 720.5 L1465.4 719.7 L1465.5 717.9 L1465.7 716.3 L1465.9 715.4 L1466 714.8 L1466.2 713.7 L1466.3 713.7 L1466.5 713.7 L1466.7 714.2 L1466.8 713.8 L1467 715 L1467.2 716.1 L1467.4 717.9 L1467.6 719.3 L1467.8 721 L1468 722.1 L1468.2 724.5 L1468.3 726.6 L1468.5 728.9 L1468.7 730.8 L1468.9 732.4 L1469.1 734.4 L1469.3 736.3 L1469.5 738.4 L1469.6 739.9 L1469.7 741 L1469.8 742.1 L1469.9 743.2 L1470 745.3 L1470.1 746.4 L1470.2 747.8 L1470.3 749.6 L1470.4 751.3 L1470.5 752.3 L1470.6 754.5 L1470.8 756.3 L1470.9 758 L1471 759.5 L1471.1 761 L1471.2 763.2 L1471.4 764.9 L1471.5 767.2 L1471.6 768.8 L1471.7 769.9 L1471.8 772.5 L1472 774.2 L1472.1 775.2 L1472.2 776.6 L1472.3 778.2 L1472.4 780.5 L1472.5 781.3 L1472.7 783.3 L1472.8 785 L1472.9 786.4 L1473 787.1 L1473.1 788.6 L1473.3 789.8 L1473.4 792 L1473.5 793.7 L1473.7 794.5 L1473.8 796.1 L1474 798.3 L1474.1 800.1 L1474.3 801.7 L1474.4 803.7 L1474.6 804.9 L1474.7 807 L1474.9 808.5 L1475 810.3 L1475.2 811.9 L1475.4 814 L1475.5 815.4 L1475.7 817.4 L1475.8 818.8 L1476 820.8 L1476.1 821.4 L1476.3 822.8 L1476.4 824.5 L1476.6 825.9 L1476.7 827.9 L1476.8 829 L1476.9 830.2 L1477.1 831.5 L1477.2 832.7 L1477.4 834.7 L1477.6 836.6 L1477.8 837.5 L1478 839.4 L1478.2 841.6 L1478.4 844 L1478.6 845.4 L1478.9 847 L1479.1 849.3 L1479.3 850.4 L1479.5 852.3 L1479.7 854 L1479.9 856 L1480.1 857 L1480.3 858.5 L1480.5 859.8 L1480.6 861 L1480.8 862.2 L1480.9 863.2 L1481 864 L1481.5 867.4 L1481.9 869.3 L1482.3 870 L1482.7 870 L1483 869.2 L1483.3 867.8 L1483.7 865.8 L1484.2 863.8 L1484.6 862 L1485 860.7 L1486 858.7 L1487.2 857 L1488.3 857.4 L1488.5 858.1 L1488.7 859.1 L1489 860.3 L1489.2 861.7 L1489.4 863.2 L1489.6 864.9 L1489.9 866.7 L1490.1 868.6 L1490.4 870.4 L1490.6 872.2 L1490.9 873.9 L1491.1 875.1 L1491.4 876.4 L1491.6 877.8 L1491.9 879.3 L1492.2 880.9 L1492.5 882.6 L1492.8 884.3 L1493.1 886.1 L1493.4 887.8 L1493.8 889.6 L1494.1 891.3 L1494.4 893 L1494.7 894.7 L1495 896.3 L1495.3 897.7 L1495.6 899.1 L1495.9 900.3 L1496.2 901.9 L1496.6 903.5 L1496.9 905.2 L1497.3 907 L1497.7 908.7 L1498.1 910.4 L1498.6 912.1 L1499 913.7 L1499.4 915.2 L1499.8 916.7 L1500.1 918 L1500.5 919.1 L1500.8 920.1 L1501.6 921.9 L1502.4 923.5 L1503.3 924.9 L1504.2 926 L1505 926.8 L1505.8 927.4 L1506.9 927.8 L1508.1 927.8 L1509.4 927.4 L1510.7 926.7 L1511.6 926.2 L1512.7 925.4 L1513.9 924.5 L1515.2 923.5 L1516.5 922.4 L1517.8 921.3 L1519 920.1 L1519.8 919.3 L1520.8 918.3 L1521.8 917.1 L1522.8 915.9 L1523.9 914.6 L1525 913.3 L1526.1 912 L1527.1 910.8 L1528 909.6 L1528.9 908.6 L1529.8 907.4 L1530.7 906 L1531.7 904.6 L1532.7 903.1 L1533.7 901.6 L1534.6 900.2 L1535.5 899 L1536.4 897.9 L1537.1 897 L1538.4 895.9 L1539.8 895 L1541.2 894.3 L1542.5 893.9 L1543.7 893.7 L1544.9 893.8 L1546.3 894.2 L1547.6 894.8 L1549 895.6 L1550.3 896.4 L1551.3 897.1 L1552.5 898 L1553.7 899 L1555 900.2 L1556.3 901.2 L1557.5 902.2 L1558.6 903 L1559.8 903.7 L1561.2 904.5 L1562.7 905.3 L1564.2 906 L1565.6 906.5 L1566.8 906.9 L1568.1 907.2 L1569.5 907.4 L1571 907.5 L1572.4 907.5 L1573.8 907.3 L1575.1 906.9 L1576.1 906.4 L1577.3 905.7 L1578.5 904.8 L1579.7 903.8 L1581 902.7 L1582.2 901.5 L1583.3 900.3 L1584.1 899.5 L1584.9 898.5 L1585.8 897.4 L1586.7 896.2 L1587.7 895 L1588.7 893.7 L1589.7 892.4 L1590.6 891 L1591.5 889.7 L1592.4 888.4 L1593.2 887.1 L1593.9 886 L1594.6 884.8 L1595.4 883.4 L1596.2 881.9 L1597 880.4 L1597.8 878.8 L1598.6 877.3 L1599.4 875.7 L1600.2 874.2 L1601 872.7 L1601.7 871.3 L1602.5 870.1 L1603.1 869 L1603.9 867.7 L1604.8 866.4 L1605.7 865.1 L1606.6 863.7 L1607.6 862.4 L1608.6 861.1 L1609.5 859.8 L1610.5 858.6 L1611.4 857.5 L1612.2 856.6 L1613 855.8 L1614.1 854.8 L1615.3 854 L1616.6 853.2 L1617.9 852.5 L1619.2 851.9 L1620.5 851.3 L1621.7 850.7 L1622.9 850.2 L1624.2 849.7 L1625.6 849.2 L1627.1 848.7 L1628.7 848.2 L1630.3 847.7 L1631.8 847.1 L1633.2 846.5 L1634.5 845.9 L1635.5 845.1 L1636.7 844.2 L1637.8 843.1 L1639 842 L1640.2 840.8 L1641.4 839.7 L1642.4 838.6 L1643.5 837.7 L1644.4 837 L1645.8 836.1 L1647.2 835.3 L1648.7 834.5 L1650.1 833.9 L1651.5 833.5 L1652.6 833.3 L1654 833.4 L1655.3 833.6 L1656.7 834.1 L1658 834.9 L1659.2 836 L1659.9 836.8 L1660.6 837.7 L1661.3 838.9 L1662.1 840.2 L1662.8 841.5 L1663.6 843 L1664.4 844.5 L1665.1 846 L1665.8 847.5 L1666.3 848.6 L1666.8 849.7 L1667.4 851 L1668 852.4 L1668.6 853.9 L1669.2 855.4 L1669.9 857 L1670.5 858.6 L1671.2 860.2 L1671.8 861.7 L1672.4 863.2 L1673 864.7 L1673.6 866.1 L1674.1 867.3 L1674.6 868.6 L1675.2 869.9 L1675.7 871.3 L1676.3 872.7 L1676.9 874.2 L1677.5 875.7 L1678.1 877.2 L1678.7 878.7 L1679.4 880.2 L1680 881.7 L1680.6 883.2 L1681.2 884.5 L1681.8 885.9 L1682.3 887.1 L1682.9 888.4 L1683.6 889.8 L1684.2 891.2 L1684.9 892.7 L1685.7 894.2 L1686.4 895.8 L1687.2 897.4 L1688 898.9 L1688.7 900.5 L1689.5 901.9 L1690.2 903.3 L1690.9 904.6 L1691.6 905.9 L1692.2 906.9 L1693 908.2 L1693.9 909.5 L1694.8 910.8 L1695.8 912.1 L1696.7 913.4 L1697.7 914.7 L1698.6 915.9 L1699.6 917.1 L1700.5 918.2 L1701.3 919.2 L1702.1 920.1 L1703.1 921.2 L1704.2 922.4 L1705.2 923.5 L1706.4 924.6 L1707.5 925.7 L1708.6 926.8 L1709.8 927.9 L1710.9 929 L1712 930 L1713 930.9 L1714.1 931.9 L1715.3 932.9 L1716.5 934 L1717.8 935.1 L1719.1 936.2 L1720.4 937.3 L1721.7 938.4 L1723 939.5 L1724.2 940.6 L1725.2 941.6 L1726.2 942.5 L1727.3 943.5 L1728.4 944.6 L1729.5 945.8 L1730.7 947 L1731.8 948.2 L1733 949.4 L1734.2 950.6 L1735.3 951.7 L1736.4 952.8 L1737.5 953.9 L1738.4 954.8 L1739.5 955.8 L1740.7 956.8 L1741.9 957.9 L1743.1 959 L1744.4 960.1 L1745.7 961.2 L1747 962.3 L1748.2 963.4 L1749.4 964.4 L1750.6 965.4 L1751.7 966.3 L1752.7 967.3 L1753.9 968.2 L1755.1 969.2 L1756.3 970.3 L1757.6 971.3 L1758.9 972.4 L1760.2 973.5 L1761.4 974.6 L1762.6 975.7 L1763.8 976.8 L1764.9 977.9 L1765.7 978.8 L1766.7 979.9 L1767.7 981 L1768.7 982.2 L1769.7 983.5 L1770.8 984.8 L1771.8 986.1 L1772.9 987.4 L1773.9 988.8 L1774.9 990.1 L1775.9 991.4 L1776.8 992.6 L1777.7 993.7 L1778.5 994.7 L1779.3 995.8 L1780.2 997 L1781.1 998.2 L1782 999.4 L1782.9 1000.7 L1783.8 1002 L1784.8 1003.3 L1785.7 1004.6 L1786.7 1005.9 L1787.6 1007.2 L1788.5 1008.5 L1789.3 1009.7 L1790.1 1010.8 L1790.9 1011.9 L1791.7 1013 L1792.5 1014.1 L1793.4 1015.3 L1794.3 1016.6 L1795.3 1017.9 L1796.2 1019.2 L1797.2 1020.6 L1798.2 1021.9 L1799.1 1023.2 L1800.1 1024.5 L1801 1025.7 L1801.8 1026.9 L1802.7 1028 L1803.4 1029.1 L1804.1 1030 L1805 1031.3 L1806 1032.5 L1806.9 1033.8 L1807.8 1035.1 L1808.8 1036.3 L1809.7 1037.6 L1810.6 1038.8 L1811.5 1040 L1812.4 1041.1 L1813.2 1042.2 L1814 1043.2 L1814.9 1044.4 L1815.9 1045.6 L1816.9 1047 L1817.9 1048.3 L1819 1049.7 L1820 1051 L1821.1 1052.3 L1822.1 1053.6 L1823 1054.7 L1823.9 1055.8 L1824.9 1056.9 L1826 1058 L1827.1 1059.1 L1828.3 1060.3 L1829.5 1061.4 L1830.6 1062.6 L1831.8 1063.7 L1832.8 1064.7 L1833.8 1065.7 L1834.8 1066.7 L1835.9 1067.8 L1837 1068.9 L1838.2 1070.1 L1839.4 1071.3 L1840.5 1072.5 L1841.7 1073.6 L1842.7 1074.7 L1843.7 1075.6 L1844.9 1076.6 L1846.1 1077.6 L1847.4 1078.6 L1848.7 1079.7 L1850 1080.7 L1851.3 1081.7 L1852.5 1082.6 L1853.6 1083.5 L1854.8 1084.4 L1856 1085.4 L1857.3 1086.4 L1858.6 1087.5 L1859.9 1088.5 L1861.2 1089.5 L1862.4 1090.4 L1863.5 1091.1 L1864.8 1091.8 L1866.2 1092.5 L1867.7 1093.2 L1869.2 1093.9 L1870.7 1094.5 L1872.1 1095 L1873.4 1095.4 L1874.6 1095.7 L1875.6 1096 L1876.7 1096.3 L1878 1096.5 L1879.4 1096.7 L1881.2 1096.9 L1883.3 1097 L1884.3 1097.1 L1885.4 1097.1 L1886.7 1097.2 L1888 1097.2 L1889.5 1097.3 L1891 1097.3 L1892.6 1097.4 L1894.3 1097.4 L1896.1 1097.4 L1897.8 1097.5 L1899.6 1097.5 L1901.4 1097.5 L1903.2 1097.6 L1905 1097.6 L1906.7 1097.6 L1908.4 1097.6 L1910 1097.7 L1911.6 1097.7 L1913 1097.7 L1914.4 1097.7 L1915.7 1097.7 L1917.2 1097.7 L1918.7 1097.7 L1920.3 1097.7 L1921.8 1097.7 L1923.5 1097.8 L1925.1 1097.8 L1926.8 1097.8 L1928.5 1097.8 L1930.2 1097.8 L1931.9 1097.8 L1933.6 1097.8 L1935.3 1097.8 L1936.9 1097.7 L1938.6 1097.7 L1940.2 1097.7 L1941.7 1097.7 L1943.2 1097.7 L1944.7 1097.7 L1946 1097.7 L1947.4 1097.7 L1948.9 1097.7 L1950.3 1097.6 L1951.9 1097.6 L1953.4 1097.6 L1955.1 1097.5 L1956.7 1097.5 L1958.3 1097.5 L1960 1097.4 L1961.7 1097.4 L1963.4 1097.4 L1965.1 1097.3 L1966.7 1097.3 L1968.4 1097.2 L1970 1097.2 L1971.6 1097.2 L1973.2 1097.1 L1974.7 1097.1 L1976.2 1097.1 L1977.7 1097.1 L1979 1097 L1980.4 1097 L1981.9 1097 L1983.4 1097 L1984.9 1097 L1986.5 1096.9 L1988.2 1096.9 L1989.8 1096.9 L1991.5 1096.9 L1993.2 1096.9 L1994.9 1096.9 L1996.6 1096.9 L1998.3 1096.8 L2000 1096.8 L2001.7 1096.8 L2003.3 1096.8 L2004.9 1096.8 L2006.5 1096.8 L2008 1096.8 L2009.4 1096.7 L2010.8 1096.7 L2012 1096.7 L2013.6 1096.7 L2015.2 1096.6 L2016.9 1096.6 L2018.7 1096.6 L2020.5 1096.5 L2022.4 1096.5 L2024.3 1096.4 L2026.2 1096.4 L2028 1096.4 L2029.8 1096.3 L2031.6 1096.3 L2033.2 1096.2 L2034.8 1096.2 L2036.2 1096.1 L2037.5 1096.1 L2038.7 1096.1 L2039.6 1096.1 L2040.4 1096" fill="none" stroke="#0505f5" stroke-width="2.9" stroke-linejoin="round" stroke-linecap="round"/>
<rect x="943.1" y="35.6" width="700.9" height="516.6999999999999" fill="none" stroke="#262626" stroke-width="3.7"/>
<path d="M1016 552.3v-9M1016 35.6v9M1124.4 552.3v-9M1124.4 35.6v9M1232.7 552.3v-9M1232.7 35.6v9M1341.1 552.3v-9M1341.1 35.6v9M1449.5 552.3v-9M1449.5 35.6v9M1557.8 552.3v-9M1557.8 35.6v9M943.1 42.6h9M1644 42.6h-9M943.1 149.5h9M1644 149.5h-9M943.1 256.4h9M1644 256.4h-9M943.1 363.3h9M1644 363.3h-9M943.1 470.2h9M1644 470.2h-9" stroke="#262626" stroke-width="3.2" fill="none"/>
<g class="t31" text-anchor="middle">
<text transform="translate(1014.2 597.6) scale(1 1.12)">100</text>
<text transform="translate(1122.6 597.6) scale(1 1.12)">200</text>
<text transform="translate(1230.9 597.6) scale(1 1.12)">300</text>
<text transform="translate(1339.3 597.6) scale(1 1.12)">400</text>
<text transform="translate(1447.7 597.6) scale(1 1.12)">500</text>
<text transform="translate(1556 597.6) scale(1 1.12)">600</text>
</g>
<g class="t31" text-anchor="end">
<text transform="translate(927.6 55.6) scale(1 1.12)">0</text>
<text transform="translate(927.6 162.5) scale(1 1.12)">-2</text>
<text transform="translate(927.6 269.4) scale(1 1.12)">-4</text>
<text transform="translate(927.6 376.3) scale(1 1.12)">-6</text>
<text transform="translate(927.6 483.2) scale(1 1.12)">-8</text>
</g>
<text transform="translate(883 294) rotate(-90)" text-anchor="middle" font-size="37.5" stroke="#2a2a2a" stroke-width="0.4" textLength="215" lengthAdjust="spacingAndGlyphs">DTG (%min)</text>
<text x="1293" y="647" text-anchor="middle" font-size="37.5" stroke="#2a2a2a" stroke-width="0.7">Temperature (<tspan font-size="23" dy="-13">o</tspan><tspan dy="13">C)</tspan></text>
<path d="M943.4 48.8C946 49 953.6 49.5 958.9 49.5C964.2 49.5 969.9 49.4 975.4 48.8C980.9 48.3 986.4 47 991.9 46.2C997.4 45.4 1002.9 44.3 1008.4 43.9C1013.9 43.5 1019.4 43.3 1024.9 43.6C1030.4 43.8 1035.9 44.6 1041.4 45.2C1046.9 45.8 1052.4 46.4 1057.9 47.2C1063.4 48 1068.9 49 1074.4 50.2C1079.9 51.4 1085.4 53.2 1090.9 54.5C1096.4 55.7 1101.9 56.9 1107.4 57.8C1112.9 58.6 1118.4 59 1123.9 59.4C1129.4 59.8 1134.9 60 1140.4 60.4C1145.9 60.8 1151.4 61.1 1156.9 61.7C1162.4 62.4 1167.9 63.5 1173.4 64.4C1178.9 65.2 1185 66 1189.9 66.7C1194.9 67.3 1199.3 67.6 1203.1 68.3C1207 69 1209.7 69.8 1213 71C1216.3 72.1 1219.6 73.6 1222.9 75.2C1226.2 76.9 1229.5 79 1232.8 80.9C1236.1 82.7 1239.7 85.1 1242.7 86.5C1245.8 87.8 1248.5 88.8 1251 89.1C1253.5 89.4 1255.7 89.3 1257.6 88.4C1259.5 87.6 1260.9 86 1262.5 84.2C1264.2 82.3 1265.8 80 1267.5 77.6C1269.1 75.1 1270.8 71.7 1272.4 69.3C1274.1 66.9 1275.5 65 1277.4 63.4C1279.3 61.7 1281 60.6 1284 59.4C1287 58.2 1290.9 57.2 1295.5 56.1C1300.2 55 1306.5 53.7 1312 52.8C1317.5 51.9 1323 51 1328.5 50.5C1334 49.9 1339 49.8 1345 49.5C1351.1 49.2 1358.3 48.7 1364.9 48.5C1371.5 48.3 1377 48.2 1384.7 48.2C1392.4 48.2 1403.4 48.3 1411.1 48.5C1418.8 48.7 1424.4 48.9 1430.9 49.2C1437.3 49.4 1445.4 49.7 1450 50.2C1454.6 50.6 1452.6 51.5 1458.4 51.8C1464.2 52.1 1476 51.9 1484.8 51.8C1493.6 51.8 1502.4 51.7 1511.2 51.5C1520 51.3 1528.8 51.1 1537.6 50.8C1546.4 50.6 1555.2 50.1 1564 49.8C1572.8 49.6 1581.6 49.3 1590.4 49.2C1599.2 49.1 1607.9 49.1 1616.8 49.2C1625.7 49.2 1639.4 49.4 1643.9 49.5" fill="none" stroke="#ff0808" stroke-width="3.8" stroke-linejoin="round"/>
<path d="M943.4 46.2C945.4 46.6 951.4 47.7 955.6 48.8C959.8 49.9 964.4 51.2 968.8 52.8C973.2 54.4 977.1 55.9 982 58.4C987 60.9 993 64.3 998.5 67.7C1004 71 1009.5 75 1015 78.5C1020.5 82.1 1026 85.3 1031.5 89.1C1037 92.9 1043.3 97.9 1048 101.3C1052.7 104.7 1057.1 107.5 1059.6 109.6C1062 111.7 1061.9 110.9 1062.9 113.9C1063.8 116.8 1064.4 121.3 1065.2 127.1C1066 132.8 1066.8 143 1067.8 148.5C1068.8 154 1070 157.8 1071.1 160.1C1072.2 162.4 1073.3 162.8 1074.4 162.4C1075.5 162 1076.6 160.6 1077.7 157.8C1078.8 154.9 1079.9 148.1 1081 145.2C1082.1 142.3 1083.2 141.8 1084.3 140.3C1085.4 138.7 1086.5 138.4 1087.6 136C1088.7 133.5 1089.7 128.7 1090.9 125.4C1092.1 122.1 1093.5 118.2 1094.9 116.2C1096.3 114.1 1097.6 113.7 1099.2 113.2C1100.7 112.7 1102.2 112.9 1104.1 113.2C1106.1 113.5 1108 114.5 1110.7 114.9C1113.5 115.2 1117.3 115 1120.6 115.5C1123.9 116.1 1127.2 116.5 1130.5 118.2C1133.8 119.8 1137.1 122.3 1140.4 125.4C1143.7 128.5 1147.3 132.6 1150.3 137C1153.4 141.4 1156.1 146 1158.6 151.8C1161.1 157.6 1163.3 164.5 1165.2 171.6C1167.1 178.8 1168.5 186.5 1170.1 194.7C1171.8 203 1173.4 212.9 1175.1 221.1C1176.7 229.4 1178.4 236 1180 244.2C1181.7 252.5 1183.3 262.4 1185 270.6C1186.6 278.9 1188.3 287.1 1189.9 293.7C1191.6 300.3 1193.2 305 1194.9 310.2C1196.5 315.5 1198.5 319.6 1199.8 325.1C1201.2 330.6 1202 335.8 1203.1 343.2C1204.2 350.7 1205.3 361.4 1206.4 369.6C1207.5 377.9 1208.6 387 1209.7 392.7C1210.8 398.5 1212 402.9 1213 404.3C1214 405.7 1214.7 404.6 1215.7 401C1216.7 397.4 1217.9 388.2 1219 382.8C1220.1 377.5 1221.2 370.9 1222.3 369C1223.4 367.1 1224.6 366.8 1225.6 371.3C1226.5 375.8 1227 384.8 1227.9 396C1228.8 407.3 1230.2 424.1 1231.2 438.9C1232.2 453.8 1233 473.3 1233.8 485.1C1234.7 497 1235.4 505.2 1236.1 509.9C1236.9 514.6 1237.6 514.4 1238.4 513.5C1239.3 512.7 1240.1 509.1 1241.1 505C1242.1 500.8 1243.3 492 1244.4 488.4C1245.5 484.9 1246.6 483.8 1247.7 483.5C1248.8 483.2 1249.6 484 1251 486.8C1252.4 489.5 1254.3 495.3 1255.9 500C1257.6 504.7 1259.1 511 1260.9 514.9C1262.7 518.7 1264.9 522.3 1266.5 523.1C1268.2 523.9 1269.3 522.3 1270.8 519.8C1272.3 517.3 1274.1 514 1275.7 508.3C1277.4 502.5 1279 495.6 1280.7 485.1C1282.3 474.7 1284 458.7 1285.6 445.5C1287.3 432.3 1288.9 418 1290.6 405.9C1292.2 393.8 1293.9 381.2 1295.5 372.9C1297.2 364.7 1298.8 360.6 1300.5 356.4C1302.1 352.3 1303.8 350.9 1305.4 348.2C1307.1 345.4 1308.7 343.5 1310.4 339.9C1312 336.4 1313.7 332.8 1315.3 326.7C1317 320.7 1318.6 313 1320.3 303.6C1321.9 294.3 1323.6 282.7 1325.2 270.6C1326.9 258.5 1328.5 242.6 1330.2 231C1331.8 219.5 1333.5 209.3 1335.1 201.3C1336.8 193.3 1338.4 188.7 1340.1 183.2C1341.7 177.7 1343.1 173 1345 168.3C1347 163.6 1349.2 159.5 1351.7 155.1C1354.1 150.7 1356.6 146 1359.9 141.9C1363.2 137.8 1367.3 134.5 1371.5 130.4C1375.6 126.2 1380.3 121.2 1384.7 117.2C1389.1 113.1 1394.3 108.6 1397.9 106.3C1401.4 103.9 1403.6 103.7 1406.1 103C1408.6 102.2 1410.8 102.9 1412.7 101.7C1414.6 100.4 1415.5 99.2 1417.7 95.7C1419.9 92.2 1423.2 85 1425.9 80.9C1428.7 76.7 1430.4 73.9 1434.2 71C1437.9 68 1443.4 65.4 1448.5 63.4C1453.7 61.3 1459 60 1465 58.7C1471.1 57.5 1477.1 56.8 1484.8 56.1C1492.5 55.4 1502.4 55 1511.2 54.5C1520 53.9 1528.8 53.2 1537.6 52.8C1546.4 52.4 1554.1 52 1564 51.8C1573.9 51.6 1586 51.5 1597 51.5C1608 51.5 1622.2 51.7 1630 51.8C1637.8 51.9 1641.6 52.1 1643.9 52.1" fill="none" stroke="#0808f8" stroke-width="3.6" stroke-linejoin="round"/>
<path d="M948 27.5H1004" stroke="#d4d4d4" stroke-width="1.2" stroke-dasharray="5 9" fill="none"/>
<path d="M60 2217H2122" stroke="#222" stroke-width="7.8" fill="none"/>
<path d="M1924.6 2217V2190M1580.9 2217V2190M1237.3 2217V2190M893.6 2217V2190M550 2217V2190M206.3 2217V2190" stroke="#222" stroke-width="7.8" fill="none"/>
<g class="t51" text-anchor="middle" fill="#222">
<text x="1922.4" y="2292.6">0</text>
<text x="1578.7" y="2292.6">50</text>
<text x="1235.1" y="2292.6">100</text>
<text x="891.4" y="2292.6">150</text>
<text x="547.8" y="2292.6">200</text>
<text x="204.1" y="2292.6">250</text>
</g>
<text y="2368" font-size="58" fill="#222" stroke="#222" stroke-width="0.3"><tspan x="859.5" letter-spacing="0.8">Chemical</tspan> <tspan x="1135">shift</tspan> <tspan x="1268.5">(ppm)</tspan></text>
<path d="M64.4 2119.6 L65.8 2124.7 L67.3 2127.7 L68.8 2122.7 L70.2 2119 L71.7 2123 L73.1 2125.6 L74.5 2128.2 L76 2120.2 L77.5 2118.8 L78.9 2125.7 L80.3 2125.9 L81.8 2129.8 L83.2 2128.4 L84.7 2124.2 L86.2 2123 L87.6 2133.1 L89 2124.3 L90.5 2121.2 L92 2119.4 L93.4 2123.6 L94.8 2124.4 L96.3 2122.8 L97.8 2123.5 L99.2 2124.8 L100.7 2126.5 L102.1 2128.3 L103.5 2125.3 L105 2117.7 L106.5 2125.5 L107.9 2119 L109.3 2122.5 L110.8 2118.4 L112.2 2123.1 L113.7 2121 L115.2 2124.2 L116.6 2133.2 L118 2125.5 L119.5 2127.1 L121 2119.6 L122.4 2122.2 L123.8 2126 L125.3 2123.8 L126.8 2125.2 L128.2 2124.4 L129.7 2120.3 L131.1 2125.3 L132.6 2121.1 L134 2130.2 L135.4 2123 L136.9 2126.2 L138.3 2124.2 L139.8 2127.3 L141.2 2122.2 L142.7 2127.2 L144.2 2123.9 L145.6 2128.4 L147.1 2126.7 L148.5 2124.8 L149.9 2121.1 L151.4 2126.2 L152.8 2125.8 L154.3 2130 L155.8 2123.4 L157.2 2125.7 L158.7 2125.9 L160.1 2125.1 L161.6 2124.7 L163 2124.6 L164.4 2121.7 L165.9 2119.8 L167.3 2121.7 L168.8 2125.6 L170.2 2129.5 L171.7 2128.1 L173.2 2128.2 L174.6 2127.2 L176.1 2126.8 L177.5 2124.9 L178.9 2126.7 L180.4 2130.6 L181.8 2123.6 L183.3 2121.2 L184.8 2130.4 L186.2 2125.6 L187.7 2127.5 L189.1 2127.4 L190.6 2120.2 L192 2131.9 L193.4 2131.3 L194.9 2125.5 L196.3 2126.7 L197.8 2124.6 L199.2 2120.6 L200.7 2122.8 L202.2 2124.9 L203.6 2127.9 L205.1 2126.9 L206.5 2124.4 L207.9 2128.7 L209.4 2121.7 L210.8 2126.2 L212.3 2128 L213.8 2123.3 L215.2 2117.1 L216.7 2119.4 L218.1 2123.9 L219.6 2125.6 L221 2129.5 L222.4 2120.9 L223.9 2123.2 L225.3 2125.9 L226.8 2123.4 L228.2 2115.1 L229.7 2125.2 L231.2 2132.2 L232.6 2128.5 L234.1 2121 L235.5 2121.7 L236.9 2124.1 L238.4 2132.6 L239.8 2127.2 L241.3 2124.5 L242.8 2129.3 L244.2 2124.2 L245.7 2130.4 L247.1 2122.1 L248.6 2121.7 L250 2125.9 L251.4 2129 L252.9 2126.7 L254.3 2125.1 L255.8 2117.2 L257.2 2120 L258.7 2120.8 L260.1 2121.2 L261.6 2125.3 L263.1 2122.6 L264.5 2126.2 L265.9 2124.2 L267.4 2122.4 L268.9 2123.8 L270.3 2125.1 L271.8 2126.9 L273.2 2122.3 L274.6 2122.5 L276.1 2118.5 L277.6 2128.5 L279 2129.5 L280.4 2123.8 L281.9 2121.8 L283.4 2118.8 L284.8 2123.4 L286.2 2124.2 L287.7 2131.5 L289.1 2125.6 L290.6 2121 L292.1 2114.3 L293.5 2127.2 L294.9 2124.7 L296.4 2117.9 L297.9 2123.3 L299.3 2117.6 L300.8 2132.8 L302.2 2129.2 L303.6 2126.4 L305.1 2123.3 L306.6 2115.7 L308 2121.8 L309.4 2117.6 L310.9 2124.7 L312.4 2115.9 L313.8 2119 L315.2 2127.2 L316.7 2129.9 L318.1 2120.1 L319.6 2117.4 L321.1 2125.7 L322.5 2126.8 L323.9 2120.4 L325.4 2120.4 L326.9 2120.5 L328.3 2118.7 L329.8 2120.2 L331.2 2127.4 L332.6 2126.5 L334.1 2131.2 L335.6 2124.2 L337 2123 L338.4 2119.8 L339.9 2122.4 L341.4 2118.5 L342.8 2116.2 L344.2 2124.8 L345.7 2128.8 L347.1 2127.2 L348.6 2128.7 L350.1 2125.1 L351.5 2121 L352.9 2123.3 L354.4 2122 L355.9 2119.1 L357.3 2116.6 L358.8 2117 L360.2 2122.3 L361.6 2123.7 L363.1 2121.7 L364.6 2128.2 L366 2124.7 L367.4 2125.6 L368.9 2128 L370.4 2121.1 L371.8 2115.9 L373.2 2124.9 L374.7 2121 L376.1 2127.7 L377.6 2125.2 L379.1 2127.2 L380.5 2126.6 L381.9 2116.3 L383.4 2124.8 L384.9 2121.1 L386.3 2120.2 L387.8 2121.2 L389.2 2125.7 L390.6 2126.8 L392.1 2127.4 L393.6 2117.9 L395 2120.3 L396.4 2114.2 L397.9 2121.5 L399.4 2125.1 L400.8 2120.8 L402.2 2123.7 L403.7 2124.1 L405.1 2127 L406.6 2120.8 L408.1 2119.9 L409.5 2120 L410.9 2129 L412.4 2128 L413.9 2123.5 L415.3 2124 L416.8 2123.7 L418.2 2124 L419.6 2122.6 L421.1 2121.9 L422.6 2118.5 L424 2120.2 L425.4 2128.7 L426.9 2125.9 L428.4 2123.8 L429.8 2122.5 L431.2 2123.3 L432.7 2124.4 L434.1 2121 L435.6 2123.5 L437.1 2124.1 L438.5 2120.6 L439.9 2119.9 L441.4 2119.1 L442.9 2118.7 L444.3 2125.7 L445.8 2115 L447.2 2120.9 L448.6 2120.6 L450.1 2120.5 L451.6 2123.1 L453 2127.2 L454.4 2124 L455.9 2122.7 L457.4 2120.8 L458.8 2122.3 L460.2 2126.3 L461.7 2122.1 L463.1 2118.8 L464.6 2117.9 L466.1 2118.3 L467.5 2117.4 L468.9 2126.2 L470.4 2124.8 L471.9 2122.5 L473.3 2128.2 L474.8 2121.5 L476.2 2125.5 L477.6 2126.3 L479.1 2118 L480.6 2116.7 L482 2118.7 L483.4 2125.7 L484.9 2128.1 L486.4 2119.4 L487.8 2126.3 L489.2 2122.1 L490.7 2121.5 L492.1 2120.8 L493.6 2121.5 L495.1 2116.2 L496.5 2118.4 L497.9 2117.9 L499.4 2124 L500.9 2130.7 L502.3 2132.4 L503.8 2123.5 L505.2 2116.9 L506.6 2120.7 L508.1 2119.3 L509.6 2129.6 L511 2126.1 L512.5 2120.9 L513.9 2126.1 L515.4 2125.5 L516.8 2117.6 L518.2 2120.4 L519.7 2121.8 L521.1 2123 L522.6 2123.6 L524 2122 L525.5 2123.7 L527 2121.1 L528.4 2119.6 L529.9 2128.1 L531.3 2125.2 L532.8 2125.1 L534.2 2117.7 L535.6 2121.8 L537.1 2126 L538.5 2119 L540 2126.6 L541.5 2122.3 L542.9 2124.6 L544.4 2123 L545.8 2124 L547.2 2127.7 L548.7 2122.5 L550.1 2128.8 L551.6 2121.3 L553 2119.7 L554.5 2125.3 L556 2119.8 L557.4 2121.5 L558.9 2126.3 L560.3 2128.2 L561.8 2117.7 L563.2 2124.4 L564.6 2130.3 L566.1 2128.7 L567.5 2123.3 L569 2121.2 L570.5 2122 L571.9 2119.1 L573.4 2121.8 L574.8 2122.5 L576.2 2122.8 L577.7 2127.6 L579.1 2123.3 L580.6 2118.2 L582 2126.5 L583.5 2120.1 L585 2121.4 L586.4 2122.7 L587.9 2122.2 L589.3 2119.7 L590.8 2122.1 L592.2 2131.2 L593.6 2122.5 L595.1 2122.9 L596.5 2127.5 L598 2126.9 L599.5 2126.8 L600.9 2127.2 L602.4 2117.1 L603.8 2119.5 L605.2 2123.5 L606.7 2125.4 L608.1 2128.6 L609.6 2126.1 L611 2123.2 L612.5 2123.7 L614 2122.9 L615.4 2124.5 L616.9 2126.2 L618.3 2122.9 L619.8 2120.7 L621.2 2120.2 L622.6 2127.2 L624.1 2128.9 L625.5 2128.1 L627 2127.5 L628.5 2127.3 L629.9 2124.3 L631.4 2126.3 L632.8 2120.4 L634.2 2122.6 L635.7 2121 L637.1 2126 L638.6 2122.1 L640 2123.2 L641.5 2125.2 L643 2128.9 L644.4 2121.8 L645.9 2120.2 L647.3 2126.3 L648.8 2120.3 L650.2 2125 L651.6 2122 L653.1 2123.3 L654.5 2117.3 L656 2125.5 L657.5 2122.4 L658.9 2120.5 L660.4 2130.9 L661.8 2127.6 L663.2 2133.3 L664.7 2127.4 L666.1 2123.3 L667.6 2124.3 L669 2129.8 L670.5 2124.8 L672 2125.8 L673.4 2126.2 L674.9 2121.1 L676.3 2124.1 L677.8 2122.3 L679.2 2119.3 L680.6 2126.5 L682.1 2126.9 L683.5 2124.8 L685 2120.9 L686.5 2116.4 L687.9 2124.7 L689.4 2123.9 L690.8 2118 L692.2 2123 L693.7 2118.5 L695.1 2123.2 L696.6 2124.6 L698 2125.5 L699.5 2125.2 L701 2125 L702.4 2120.2 L703.9 2122.2 L705.3 2122.1 L706.8 2123.1 L708.2 2125 L709.6 2126.6 L711.1 2130.5 L712.5 2116 L714 2124.5 L715.5 2123.6 L716.9 2132.4 L718.4 2128.9 L719.8 2119.1 L721.2 2125 L722.7 2122.6 L724.1 2127.7 L725.6 2121.1 L727 2123.5 L728.5 2123.8 L730 2123.9 L731.4 2122.2 L732.9 2117.5 L734.3 2125 L735.8 2128.1 L737.2 2124.7 L738.6 2120.8 L740.1 2124.6 L741.5 2126.5 L743 2124.1 L744.5 2124.4 L745.9 2129.5 L747.4 2121.2 L748.8 2122 L750.2 2117.3 L751.7 2120.9 L753.1 2121.3 L754.6 2120.6 L756 2121.4 L757.5 2130.6 L759 2124.7 L760.4 2124.2 L761.9 2132.4 L763.3 2125.5 L764.8 2118.5 L766.2 2125.1 L767.6 2121.3 L769.1 2130 L770.5 2120.9 L772 2122 L773.5 2118.5 L774.9 2124.1 L776.4 2120.9 L777.8 2123.9 L779.2 2123.2 L780.7 2122.3 L782.1 2127.7 L783.6 2128.5 L785 2125.5 L786.5 2121.6 L788 2120.4 L789.4 2125.1 L790.9 2133.4 L792.3 2124.4 L793.8 2121.9 L795.2 2121.8 L796.6 2120.4 L798.1 2120.6 L799.5 2123.4 L801 2129.8 L802.5 2125.6 L803.9 2123.1 L805.4 2118.8 L806.8 2124.7 L808.2 2124.7 L809.7 2120.4 L811.1 2120.3 L812.6 2124 L814 2128.4 L815.5 2127.7 L817 2126.1 L818.4 2123.9 L819.9 2125.9 L821.3 2125 L822.8 2132.8 L824.2 2122 L825.6 2123.2 L827.1 2129.3 L828.5 2124.7 L830 2130.1 L831.5 2125.6 L832.9 2125.6 L834.4 2123.8 L835.8 2119.9 L837.2 2120.8 L838.7 2132.4 L840.1 2128.5 L841.6 2127.7 L843 2128.9 L844.5 2127.7 L846 2129.1 L847.4 2124.7 L848.9 2124.2 L850.3 2128.5 L851.8 2124.4 L853.2 2120.2 L854.6 2123.6 L856.1 2122.9 L857.5 2127 L859 2122.8 L860.5 2121 L861.9 2123.4 L863.4 2130.5 L864.8 2125.8 L866.2 2125.9 L867.7 2125.3 L869.1 2126.3 L870.6 2128.7 L872 2130.8 L873.5 2120.2 L875 2129.4 L876.4 2125.9 L877.9 2124.2 L879.3 2133.8 L880.8 2125.9 L882.2 2132.4 L883.6 2129.9 L885.1 2122.3 L886.5 2126.6 L888 2128.2 L889.5 2125.3 L890.9 2117 L892.4 2122.9 L893.8 2124.3 L895.2 2121.2 L896.7 2131.3 L898.1 2125.4 L899.6 2124 L901 2124.1 L902.5 2122.4 L904 2122.2 L905.4 2125.3 L906.9 2126.5 L908.3 2123.8 L909.8 2124.9 L911.2 2120.4 L912.6 2126.6 L914.1 2123 L915.5 2125.9 L917 2122.3 L918.5 2123.2 L919.9 2125.9 L921.4 2121.2 L922.8 2133.8 L924.2 2126.7 L925.7 2125.5 L927.1 2122.9 L928.6 2130.9 L930 2131.4 L931.5 2127.5 L933 2121 L934.4 2123.1 L935.9 2127.5 L937.3 2124.1 L938.8 2121.1 L940.2 2120.7 L941.6 2122.1 L943.1 2125.2 L944.5 2123.3 L946 2125.4 L947.5 2135 L948.9 2133.6 L950.4 2123.1 L951.8 2126.6 L953.2 2126.2 L954.7 2125.3 L956.1 2129.4 L957.6 2125.1 L959 2124.5 L960.5 2124.2 L962 2125.2 L963.4 2130.3 L964.9 2129.3 L966.3 2121.5 L967.8 2123.6 L969.2 2122.6 L970.6 2128.3 L972.1 2127 L973.5 2129.2 L975 2126.1 L976.5 2119 L977.9 2126.5 L979.4 2126.8 L980.8 2127.9 L982.2 2121.5 L983.7 2125.5 L985.1 2123.4 L986.6 2123.1 L988 2126.8 L989.5 2127.3 L991 2122.9 L992.4 2119.3 L993.9 2116.6 L995.3 2122.4 L996.8 2129.5 L998.2 2126.3 L999.6 2117.9 L1001.1 2121.7 L1002.5 2126.9 L1004 2132.2 L1005.5 2131.1 L1006.9 2128.1 L1008.4 2127 L1009.8 2122.3 L1011.2 2123.8 L1012.7 2124.5 L1014.1 2123 L1015.6 2125.8 L1017 2124.6 L1018.5 2127 L1020 2131.3 L1021.4 2129.5 L1022.9 2128 L1024.3 2125.4 L1025.8 2120.4 L1027.2 2124.8 L1028.7 2127.8 L1030.1 2122.6 L1031.5 2130 L1033 2125.4 L1034.5 2127.2 L1035.9 2125 L1037.3 2121.3 L1038.8 2132.7 L1040.2 2122.8 L1041.7 2128.8 L1043.2 2124.4 L1044.6 2126.8 L1046 2123.2 L1047.5 2124.1 L1049 2129 L1050.4 2133.5 L1051.8 2124.1 L1053.3 2125.7 L1054.8 2129.4 L1056.2 2124.2 L1057.7 2128.3 L1059.1 2123.5 L1060.5 2127.8 L1062 2127.8 L1063.5 2130.6 L1064.9 2128 L1066.3 2122 L1067.8 2127.8 L1069.2 2122.3 L1070.7 2128.1 L1072.2 2131.8 L1073.6 2129 L1075 2124.5 L1076.5 2130.1 L1078 2127.2 L1079.4 2121.7 L1080.8 2124.1 L1082.3 2130.8 L1083.8 2125.6 L1085.2 2126.4 L1086.7 2124.8 L1088.1 2119.8 L1089.5 2123.2 L1091 2126.9 L1092.5 2126.9 L1093.9 2125.5 L1095.3 2118.2 L1096.8 2129.2 L1098.2 2129.1 L1099.7 2130.1 L1101.2 2131.3 L1102.6 2125.2 L1104 2123.7 L1105.5 2126.8 L1107 2132.1 L1108.4 2120.9 L1109.8 2124.4 L1111.3 2123.2 L1112.8 2127.6 L1114.2 2131.5 L1115.7 2125.8 L1117.1 2121.5 L1118.5 2125.5 L1120 2124.9 L1121.5 2120.3 L1122.9 2128.3 L1124.3 2124.5 L1125.8 2128.2 L1127.2 2121.6 L1128.7 2129.3 L1130.2 2121.3 L1131.6 2129.1 L1133 2119.9 L1134.5 2130.1 L1136 2125.3 L1137.4 2120.3 L1138.8 2124.3 L1140.3 2127 L1141.8 2122.6 L1143.2 2123.7 L1144.7 2126.6 L1146.1 2125.5 L1147.5 2116.6 L1149 2122.8 L1150.5 2127.1 L1151.9 2127.2 L1153.3 2129.8 L1154.8 2124.1 L1156.2 2134.9 L1157.7 2130.2 L1159.2 2127.8 L1160.6 2130.2 L1162 2130.1 L1163.5 2127 L1165 2123.9 L1166.4 2129.4 L1167.8 2128 L1169.3 2119.5 L1170.8 2121 L1172.2 2126.9 L1173.7 2126.5 L1175.1 2127.1 L1176.5 2128.5 L1178 2126.9 L1179.5 2131.8 L1180.9 2124.8 L1182.3 2124.4 L1183.8 2126.9 L1185.2 2128.8 L1186.7 2129.3 L1188.2 2131.8 L1189.6 2125.2 L1191 2130.1 L1192.5 2128.3 L1194 2122.6 L1195.4 2125 L1196.8 2133.4 L1198.3 2129.9 L1199.8 2124.9 L1201.2 2117.2 L1202.7 2122 L1204.1 2122.9 L1205.5 2125.8 L1207 2134.3 L1208.5 2129.9 L1209.9 2127.7 L1211.3 2122.9 L1212.8 2121.3 L1214.2 2124.5 L1215.7 2124.1 L1217.2 2135.4 L1218.6 2126.1 L1220 2123.8 L1221.5 2129.7 L1223 2126.8 L1224.4 2121.7 L1225.8 2130 L1227.3 2125.5 L1228.8 2121.1 L1230.2 2126.4 L1231.7 2127.8 L1233.1 2125.1 L1234.5 2128.4 L1236 2129.3 L1237.5 2123.3 L1238.9 2118.2 L1240.3 2116.6 L1241.8 2124.1 L1243.2 2130.1 L1244.7 2130.2 L1246.2 2131.6 L1247.6 2133.5 L1249 2127.2 L1250.5 2130 L1252 2121.1 L1253.4 2127.7 L1254.8 2127.7 L1256.3 2125.9 L1257.8 2124.4 L1259.2 2121.7 L1260.7 2125.9 L1262.1 2130.6 L1263.5 2125.4 L1265 2127.8 L1266.5 2123.9 L1267.9 2126.6 L1269.3 2122.5 L1270.8 2126.8 L1272.2 2125.3 L1273.7 2127 L1275.2 2124 L1276.6 2121.5 L1278 2124.1 L1279.5 2129.5 L1281 2132.2 L1282.4 2125.8 L1283.8 2128.8 L1285.3 2129.2 L1286.8 2127.9 L1288.2 2120.7 L1289.7 2126.4 L1291.1 2122.6 L1292.5 2129.7 L1294 2129.4 L1295.5 2128.7 L1296.9 2117.3 L1298.3 2126.9 L1299.8 2128.7 L1301.2 2121.8 L1302.7 2128.9 L1304.2 2126.7 L1305.6 2125.4 L1307 2123.3 L1308.5 2121.9 L1310 2123.8 L1311.4 2135.4 L1312.8 2128.3 L1314.3 2127.1 L1315.8 2123.8 L1317.2 2123.5 L1318.7 2123.6 L1320.1 2122.5 L1321.5 2128.6 L1323 2125.4 L1324.5 2129 L1325.9 2122.3 L1327.3 2128.8 L1328.8 2126.3 L1330.2 2128.5 L1331.7 2126 L1333.2 2122.8 L1334.6 2129.9 L1336 2125 L1337.5 2125.3 L1339 2122.7 L1340.4 2126.2 L1341.8 2124.6 L1343.3 2126.8 L1344.8 2127.4 L1346.2 2123.7 L1347.7 2120.6 L1349.1 2126.7 L1350.5 2129.4 L1352 2129 L1353.5 2122.3 L1354.9 2127.6 L1356.3 2127.6 L1357.8 2127.3 L1359.2 2127.7 L1360.7 2125.1 L1362.2 2126.6 L1363.6 2129.4 L1365 2124.7 L1366.5 2120.6 L1368 2124.8 L1369.4 2126.5 L1370.8 2119.4 L1372.3 2122.6 L1373.8 2127.6 L1375.2 2125.7 L1376.7 2126.3 L1378.1 2121.5 L1379.5 2128.6 L1381 2132.7 L1382.5 2126.3 L1383.9 2123.4 L1385.3 2121.4 L1386.8 2128.5 L1388.2 2126.8 L1389.7 2123.3 L1391.2 2130 L1392.6 2129.3 L1394 2128.7 L1395.5 2120.1 L1397 2124.7 L1398.4 2128.1 L1399.8 2121.9 L1401.3 2128.7 L1402.8 2131.6 L1404.2 2130.6 L1405.7 2124.1 L1407.1 2123.2 L1408.5 2129 L1410 2130 L1411.5 2131 L1412.9 2131.1 L1414.3 2126.4 L1415.8 2124.6 L1417.2 2119.1 L1418.7 2127.8 L1420.2 2134.5 L1421.6 2125.6 L1423 2124.2 L1424.5 2128.1 L1426 2127.7 L1427.4 2121.3 L1428.8 2122.7 L1430.3 2121.6 L1431.8 2132.6 L1433.2 2124.4 L1434.7 2128.8 L1436.1 2133.3 L1437.5 2133.9 L1439 2132.3 L1440.5 2132.8 L1441.9 2122.6 L1443.3 2124.2 L1444.8 2123.1 L1446.2 2124.5 L1447.7 2135.2 L1449.2 2121.3 L1450.6 2127.3 L1452 2121.7 L1453.5 2130.2 L1455 2131.3 L1456.4 2125 L1457.8 2133.3 L1459.3 2127.4 L1460.8 2130.9 L1462.2 2127.9 L1463.7 2124.3 L1465.1 2124.4 L1466.5 2125.3 L1468 2128.1 L1469.5 2126.8 L1470.9 2134.6 L1472.3 2126.6 L1473.8 2124.4 L1475.2 2123.2 L1476.7 2122.8 L1478.2 2120.3 L1479.6 2121.6 L1481 2128.6 L1482.5 2126.6 L1484 2125.5 L1485.4 2127.2 L1486.8 2130 L1488.3 2128.8 L1489.8 2129.2 L1491.2 2124.5 L1492.7 2124.8 L1494.1 2123 L1495.5 2125.2 L1497 2122.9 L1498.5 2124.2 L1499.9 2125.1 L1501.3 2125.1 L1502.8 2124.9 L1504.2 2124 L1505.7 2130.4 L1507.2 2125.4 L1508.6 2122.2 L1510 2126 L1511.5 2122 L1513 2121.4 L1514.4 2125.5 L1515.8 2119.8 L1517.3 2116.5 L1518.8 2125 L1520.2 2129.4 L1521.7 2120.3 L1523.1 2121.7 L1524.5 2127.2 L1526 2118.8 L1527.5 2121.5 L1528.9 2120.7 L1530.3 2124.2 L1531.8 2118.4 L1533.2 2127.8 L1534.7 2125.5 L1536.2 2126.7 L1537.6 2124.6 L1539 2117.8 L1540.5 2123.9 L1542 2120.5 L1543.4 2124.8 L1544.8 2122.4 L1546.3 2123.9 L1547.8 2124.5 L1549.2 2128.1 L1550.7 2128.6 L1552.1 2122.3 L1553.5 2124.9 L1555 2130.6 L1556.5 2128 L1557.9 2123.2 L1559.3 2124.6 L1560.8 2124 L1562.2 2128.6 L1563.7 2126 L1565.2 2126.8 L1566.6 2133.5 L1568 2121.6 L1569.5 2121.1 L1571 2118.4 L1572.4 2118.5 L1573.8 2127.3 L1575.3 2126.6 L1576.8 2131.3 L1578.2 2119 L1579.7 2121.1 L1581.1 2129.8 L1582.5 2129.6 L1584 2129 L1585.5 2128.9 L1586.9 2125.8 L1588.3 2125.2 L1589.8 2125.2 L1591.2 2128.1 L1592.7 2124.9 L1594.2 2126.2 L1595.6 2130.4 L1597 2121.8 L1598.5 2121.8 L1600 2126.6 L1601.4 2124.3 L1602.8 2124.3 L1604.3 2132.4 L1605.8 2127.6 L1607.2 2123.8 L1608.7 2128.7 L1610.1 2134.3 L1611.5 2122.3 L1613 2122.1 L1614.5 2124.9 L1615.9 2122.6 L1617.3 2132.3 L1618.8 2127.8 L1620.2 2123.8 L1621.7 2126.4 L1623.2 2122.1 L1624.6 2122.2 L1626 2124.7 L1627.5 2133.3 L1629 2117.9 L1630.4 2125.2 L1631.8 2129.6 L1633.3 2128.1 L1634.8 2132.1 L1636.2 2127.4 L1637.7 2125.6 L1639.1 2124.3 L1640.5 2121.5 L1642 2130 L1643.5 2121.1 L1644.9 2123.6 L1646.3 2122.5 L1647.8 2121.4 L1649.2 2116 L1650.7 2121.8 L1652.2 2124.6 L1653.6 2125 L1655 2127.6 L1656.5 2124.3 L1658 2122.1 L1659.4 2125.2 L1660.8 2126.9 L1662.3 2121.5 L1663.8 2118.5 L1665.2 2119.8 L1666.7 2127.5 L1668.1 2128.4 L1669.5 2121.7 L1671 2124.3 L1672.5 2127.3 L1673.9 2129.5 L1675.3 2122.7 L1676.8 2123.1 L1678.2 2129.1 L1679.7 2133.6 L1681.2 2131.1 L1682.6 2121.1 L1684 2125.3 L1685.5 2123.2 L1687 2123.8 L1688.4 2121.7 L1689.8 2122 L1691.3 2123.7 L1692.8 2130.5 L1694.2 2127.5 L1695.7 2126.1 L1697.1 2124.4 L1698.5 2121.4 L1700 2122.8 L1701.5 2128.4 L1702.9 2127.8 L1704.3 2131.9 L1705.8 2126.5 L1707.2 2124.7 L1708.7 2118.8 L1710.2 2125.2 L1711.6 2118.7 L1713 2129.4 L1714.5 2123.4 L1716 2124.8 L1717.4 2120.3 L1718.8 2122.7 L1720.3 2121.6 L1721.8 2129 L1723.2 2127 L1724.7 2121.6 L1726.1 2118.2 L1727.5 2124.5 L1729 2124 L1730.5 2121.7 L1731.9 2127.6 L1733.3 2125.8 L1734.8 2126.7 L1736.2 2124.3 L1737.7 2124.1 L1739.2 2124.6 L1740.6 2120.6 L1742 2128.2 L1743.5 2128.6 L1745 2121 L1746.4 2128.4 L1747.8 2135.1 L1749.3 2134.5 L1750.8 2139.9 L1752.2 2136.8 L1753.7 2139.1 L1755.1 2136.4 L1756.5 2139 L1758 2137.7 L1759.5 2142.4 L1760.9 2148.8 L1762.3 2151.4 L1763.8 2152 L1765.2 2146.7 L1766.7 2140.1 L1768.2 2142.6 L1769.6 2139.2 L1771 2145.1 L1772.5 2146.3 L1774 2142.5 L1775.4 2134 L1776.8 2134.5 L1778.3 2136.8 L1779.8 2133.6 L1781.2 2137.1 L1782.7 2137.9 L1784.1 2138.2 L1785.5 2135.7 L1787 2130.9 L1788.5 2130 L1789.9 2132.1 L1791.3 2137.7 L1792.8 2139.5 L1794.2 2137.8 L1795.7 2135.4 L1797.2 2136.2 L1798.6 2136.9 L1800 2138.8 L1801.5 2137.6 L1803 2128.9 L1804.4 2136.6 L1805.8 2135.8 L1807.3 2132.8 L1808.8 2135.9 L1810.2 2135.6 L1811.7 2134.4 L1813.1 2128.5 L1814.5 2134.1 L1816 2136.7 L1817.5 2134.9 L1818.9 2129.2 L1820.3 2135.7 L1821.8 2137.3 L1823.2 2135.3 L1824.7 2135.6 L1826.2 2132.6 L1827.6 2130.7 L1829 2134.4 L1830.5 2131.5 L1832 2132.7 L1833.4 2141.2 L1834.8 2135.9 L1836.3 2132.3 L1837.8 2125.2 L1839.2 2130 L1840.7 2132.8 L1842.1 2127.7 L1843.5 2128.3 L1845 2120.9 L1846.5 2129.6 L1847.9 2126.5 L1849.3 2130.3 L1850.8 2133.3 L1852.2 2128.2 L1853.7 2131.6 L1855.2 2129.5 L1856.6 2127.6 L1858 2127.1 L1859.5 2125 L1861 2132.4 L1862.4 2132 L1863.8 2125.2 L1865.3 2130.9 L1866.8 2126.1 L1868.2 2122.6 L1869.7 2131.8 L1871.1 2124.3 L1872.5 2132.1 L1874 2129.7 L1875.5 2131.9 L1876.9 2130.9 L1878.3 2133.1 L1879.8 2130.5 L1881.2 2131 L1882.7 2129.9 L1884.2 2132.8 L1885.6 2127.9 L1887 2132.3 L1888.5 2134.7 L1890 2129.5 L1891.4 2130.5 L1892.8 2127.3 L1894.3 2127.6 L1895.8 2129.7 L1897.2 2127.8 L1898.7 2125.6 L1900.1 2128.4 L1901.5 2129.4 L1903 2130 L1904.5 2131.3 L1905.9 2122.4 L1907.3 2132.5 L1908.8 2128.1 L1910.2 2125.2 L1911.7 2126.1 L1913.2 2129 L1914.6 2130.9 L1916 2126.6 L1917.5 2127.7 L1919 2121.4 L1920.4 2126.7 L1921.8 2126.4 L1923.3 2125.1 L1924.8 2129.5 L1926.2 2133.3 L1927.7 2131 L1929.1 2124 L1930.5 2131.2 L1932 2125.5 L1933.5 2125.7 L1934.9 2123.7 L1936.3 2127.1 L1937.8 2128 L1939.2 2126.6 L1940.7 2125.1 L1942.2 2125 L1943.6 2124.1 L1945 2128.8 L1946.5 2124.1 L1948 2124.7 L1949.4 2124.6 L1950.8 2122.6 L1952.3 2124.1 L1953.8 2119.9 L1955.2 2125.9 L1956.7 2127.3 L1958.1 2124.4 L1959.5 2130.6 L1961 2123 L1962.5 2126.7 L1963.9 2127 L1965.3 2123.4 L1966.8 2123.8 L1968.2 2127.9 L1969.7 2125.5 L1971.2 2125.9 L1972.6 2130 L1974 2126.3 L1975.5 2118.9 L1977 2121.2 L1978.4 2127.1 L1979.8 2124.5 L1981.3 2120.7 L1982.8 2116.8 L1984.2 2124.5 L1985.7 2129.8 L1987.1 2120.7 L1988.5 2116 L1990 2124.8 L1991.5 2122.4 L1992.9 2122.9 L1994.3 2122.8 L1995.8 2120.7 L1997.2 2125.1 L1998.7 2127.5 L2000.2 2125.8 L2001.6 2122.3 L2003 2127.5 L2004.5 2124.2 L2006 2126.2 L2007.4 2121.2 L2008.8 2126.1 L2010.3 2127.2 L2011.8 2129.3 L2013.2 2125.2 L2014.7 2126.1 L2016.1 2122.6 L2017.5 2127.3 L2019 2127.7 L2020.5 2128.8 L2021.9 2123.8 L2023.3 2120.1 L2024.8 2123.7 L2026.2 2123.8 L2027.7 2121.9 L2029.2 2126.5 L2030.6 2128.4 L2032 2126.7 L2033.5 2129.1 L2035 2126.9 L2036.4 2121.7 L2037.8 2122.4 L2039.3 2123.3 L2040.8 2127.2 L2042.2 2128.7 L2043.7 2126.1 L2045.1 2128.9 L2046.5 2122.8 L2048 2124.4 L2049.4 2130.4 L2050.9 2127.6 L2052.3 2129.4 L2053.8 2119.2 L2055.2 2118.5 L2056.7 2121.3 L2058.2 2128.4 L2059.6 2131.7 L2061.1 2124.2 L2062.5 2121.9 L2063.9 2121.4 L2065.4 2121.8 L2066.8 2127.1 L2068.3 2124.8 L2069.8 2132.3 L2071.2 2129.3 L2072.7 2123.9 L2074.1 2126.4 L2075.6 2125.4 L2077 2128.6 L2078.4 2129.6 L2079.9 2125.3 L2081.3 2129.1 L2082.8 2128.5 L2084.2 2126.1 L2085.7 2127 L2087.2 2128.7 L2088.6 2125.4 L2090.1 2123.7 L2091.5 2130.4 L2092.9 2126.9 L2094.4 2124.3 L2095.8 2127.7 L2097.3 2121.4 L2098.8 2125.9 L2100.2 2121.6 L2101.7 2124.3 L2103.1 2119.9 L2104.6 2123 L2106 2129.3 L2107.4 2126.4 L2108.9 2122.4 L2110.3 2132.2 L2111.8 2125.4 L2113.2 2131.8 L2114.7 2125.7 L2116.2 2121.5 L2117.6 2132.6 L2119.1 2126.3 L2120.5 2129.6 L2121.9 2131.6" fill="none" stroke="#ff0a0a" stroke-width="2.25" stroke-linejoin="round"/>
<path d="M64.4 2124.1 L65.8 2126.9 L67.3 2124.5 L68.8 2123.8 L70.2 2121.3 L71.7 2123.7 L73.1 2129.2 L74.5 2127.4 L76 2129.5 L77.5 2126.7 L78.9 2126.9 L80.3 2126.1 L81.8 2118.7 L83.2 2127.5 L84.7 2127.4 L86.2 2127.4 L87.6 2118.8 L89 2117.3 L90.5 2120.5 L92 2122.6 L93.4 2125.9 L94.8 2125 L96.3 2127.1 L97.8 2122.9 L99 2126 L99.2 2126.7 L100.7 2122.5 L102.1 2131 L103.5 2127.5 L105 2129.3 L106.5 2122.3 L107.9 2120.6 L109.3 2121.7 L110.8 2122.6 L112.2 2125.5 L113.7 2124.2 L115.2 2121.1 L116.6 2118.5 L118 2119.6 L119.5 2126.4 L121 2119.3 L122.4 2122.2 L123.8 2123.1 L125.3 2115.6 L126.8 2120.3 L128.2 2125.7 L129.7 2113.4 L131.1 2117.9 L132 2119.4 L132.6 2116.8 L134 2121.4 L135.4 2119.8 L136.9 2113.9 L138.3 2121.9 L139.8 2122.3 L141.2 2123.3 L142.7 2125.3 L144.2 2121.3 L145.6 2119.6 L147.1 2113.7 L148.5 2120.1 L149.9 2116.2 L151.4 2116.1 L152.8 2112.8 L154.3 2113.3 L155.8 2115 L157.2 2122.2 L158.7 2110.2 L160.1 2110.6 L161.6 2117.1 L163 2122.7 L164.4 2120 L165 2109.9 L165.9 2106.5 L167.3 2116 L168.8 2113 L170.2 2110.7 L171.7 2118.2 L173.2 2119.5 L174.6 2115.7 L176.1 2115.2 L177.5 2115.5 L178.9 2119.7 L180.4 2116.3 L181.8 2115 L183.3 2114.6 L184.8 2106 L186.2 2115.5 L187.7 2115.4 L188.1 2113.6 L189.1 2104 L190.6 2108.2 L192 2115.1 L193.4 2106.2 L194.9 2111.7 L196.3 2117.7 L197.8 2109.9 L199.2 2120.6 L200.7 2118.6 L202.2 2116 L203.6 2117.9 L205.1 2119.9 L206.5 2118.6 L207.9 2122.9 L209.4 2116.9 L210.8 2117.4 L211.2 2123.2 L212.3 2120.3 L213.8 2116.4 L215.2 2123.1 L216.7 2126.3 L218.1 2119.5 L219.6 2114.9 L221 2119.3 L222.4 2120 L223.9 2119.7 L225.3 2126.4 L226.8 2118.1 L228.2 2125.9 L229.7 2117.3 L231 2118.1 L231.2 2123.7 L232.6 2126.5 L234.1 2125.8 L235.5 2123.7 L236.9 2122.6 L238.4 2122.5 L239.8 2124.1 L241.3 2121.4 L242.8 2122.8 L244.2 2124.2 L245.7 2122.1 L247.1 2124.8 L248.6 2124.4 L250 2130 L251.4 2124.3 L252.9 2120.5 L254.3 2120.1 L255.8 2121.5 L257.2 2125.3 L258.7 2121 L260.1 2123.2 L261.6 2129.2 L263.1 2112.9 L264 2116.1 L264.5 2121.8 L265.9 2123 L267.4 2122.3 L268.9 2119.3 L270.3 2122.9 L271.8 2121.7 L273.2 2118.1 L274.6 2128.9 L276.1 2122.1 L277.6 2117.3 L279 2118.1 L280.4 2117.5 L281.9 2117.8 L283.4 2107.8 L284.8 2114.1 L286.2 2120.7 L287.7 2113 L289.1 2115.9 L290.6 2120.1 L292.1 2120.1 L293.5 2122.3 L294.9 2109.9 L296.4 2113.1 L297 2113.5 L297.9 2117.4 L299.3 2120 L300.8 2105.8 L302.2 2118.5 L303.6 2110.6 L305.1 2117.9 L306.6 2110.6 L308 2116.1 L309.4 2121.1 L310.9 2116.7 L312.4 2117.5 L313.8 2120.1 L315.2 2118 L316.7 2117 L318.1 2123.2 L319.6 2122.4 L321.1 2117.2 L322.5 2127.9 L323.9 2115 L325.4 2121.2 L326.9 2117.6 L328.3 2118.7 L329.8 2121.3 L330 2119.8 L331.2 2121 L332.6 2112.6 L334.1 2111.3 L335.6 2119.2 L337 2114.1 L338.4 2112.9 L339.9 2110.8 L341.4 2121 L342.8 2120.4 L344.2 2123 L345.7 2113.8 L347.1 2115.9 L348.6 2111.7 L350.1 2118.3 L351.5 2122.3 L352.9 2113.1 L354.4 2121.1 L355.9 2120 L356.4 2115.2 L357.3 2107.1 L358.8 2118.4 L360.2 2113.6 L361.6 2110.3 L363.1 2113.1 L364.6 2112.9 L366 2116.5 L366.3 2107.2 L367.4 2112 L368.9 2111.5 L370.4 2108.8 L371.8 2099.6 L372.9 2094.2 L373.2 2100.1 L374.7 2095.2 L376.1 2092.5 L377.6 2095.2 L379.1 2087.1 L380.5 2075.9 L381.2 2081 L381.9 2075.6 L383.4 2084.3 L384.9 2082.8 L386.3 2078 L387.8 2078.8 L389.2 2081.3 L390.6 2077.9 L392.1 2081.3 L392.7 2076.1 L393.6 2080.7 L395 2084.7 L396.4 2087.2 L397.9 2080.1 L399.4 2086.5 L400.8 2078.1 L402.2 2081.4 L402.6 2078.7 L403.7 2091.4 L405.1 2086.1 L406.6 2091.7 L408.1 2093.5 L409.5 2096 L410.9 2095.9 L412.4 2100.7 L412.5 2107.4 L413.9 2103.7 L415.3 2107 L416.8 2111.3 L418.2 2109.2 L419.6 2106.8 L420.8 2110.6 L421.1 2117.6 L422.6 2109.4 L424 2113.5 L425.4 2121.6 L426.9 2123.2 L428.4 2121.7 L429 2125 L429.8 2122.9 L431.2 2117.4 L432.7 2115 L434.1 2118.3 L435.6 2124.9 L437.1 2120 L438.5 2118 L439.9 2118.2 L441.4 2115.3 L442.9 2120.3 L444.3 2117 L445.8 2122.5 L447.2 2112.7 L448.6 2121.7 L450.1 2119.3 L451.6 2113.8 L453 2123.4 L454.4 2121 L455.9 2113 L457.4 2117 L458.8 2122.2 L460.2 2120.1 L461.7 2124.6 L462.1 2125.1 L463.1 2128 L463.2 2126.8 L464.6 2130.1 L466.1 2127.6 L467.5 2126.1 L468.9 2115.6 L470.4 2125.3 L471.9 2127.9 L473.3 2121.7 L474.8 2119.7 L476.2 2128.5 L477.6 2115 L479.1 2121.3 L479.7 2129.7 L480.6 2117.2 L482 2120.5 L483.4 2124.6 L484.9 2116.3 L486.4 2116.6 L487.8 2116.9 L489.2 2108.8 L490.7 2109.7 L492.1 2110.3 L492.9 2112 L493.6 2109.1 L495.1 2108.4 L496.5 2105.4 L497.9 2107.8 L499.4 2113.4 L500.9 2111.4 L502.3 2107.7 L503.8 2107.5 L505.2 2121.5 L506.1 2117.8 L506.6 2115.6 L508.1 2103.5 L509.6 2115 L511 2117 L512.5 2122.7 L513.9 2119.5 L515.4 2117.8 L516.8 2120.6 L518.2 2112.2 L519.3 2123.1 L519.7 2121.6 L521.1 2116.5 L522.6 2122.9 L524 2124.9 L525.5 2112 L527 2112.1 L528.4 2115.1 L529.9 2114.4 L531.3 2111.2 L532.5 2107.9 L532.8 2119.5 L534.2 2116.9 L535.6 2107.6 L537.1 2105.5 L538.5 2116.9 L540 2115.7 L541.5 2118.6 L542.9 2114.9 L544.4 2107.6 L545.7 2110.8 L545.8 2101.8 L547.2 2104 L548.7 2105.4 L550.1 2106.2 L551.6 2099.8 L553 2099.6 L554.5 2100.2 L555.6 2098.7 L556 2099.2 L557.4 2095.4 L558.9 2090.8 L560.3 2092.4 L561.8 2087.8 L563.2 2081.8 L563.9 2080.9 L564.6 2080.9 L566.1 2076.2 L567.5 2072.7 L569 2067.6 L570.5 2063.7 L571.9 2058 L573.4 2048.8 L573.8 2053.4 L574.8 2051.5 L576.2 2042.4 L577.7 2032.4 L579.1 2027.2 L580.6 2014.8 L582 2003.3 L582 2010.1 L583.5 2000 L585 1998.9 L586.4 1985.4 L587.9 1971.9 L588.6 1972.6 L589.3 1981.3 L590.8 1970.7 L592.2 1961.3 L593.6 1958.3 L595.1 1958.9 L596.5 1955 L596.9 1952.8 L598 1953.2 L599.5 1945.1 L600.9 1936.1 L602.4 1932.3 L603.5 1932.2 L603.8 1929.5 L605.2 1926 L606.7 1914.4 L607.8 1914.4 L608.1 1920.5 L609.6 1925.5 L611 1938.8 L611.7 1941.6 L612.5 1949.3 L614 1957.4 L615.4 1979.8 L616.9 1988.6 L618.3 1994.7 L618.3 1995.1 L619.8 2015.6 L621.2 2016.5 L622.6 2030.7 L624.1 2042.4 L624.9 2044.9 L625.5 2044.4 L627 2059.6 L628.5 2071.5 L629.9 2085.2 L629.9 2084.4 L631.4 2086 L632.8 2093.5 L634.2 2097.4 L635.7 2100.7 L636.5 2102.4 L637.1 2101.8 L638.6 2106.7 L640 2101.8 L641.5 2104 L643 2108 L643.1 2102.8 L644.4 2105.1 L645.9 2098.5 L647.3 2101.9 L648 2106.9 L648.8 2110.2 L650.2 2112.7 L651.6 2116.5 L653 2116.1 L653.1 2128.2 L654.5 2125.9 L656 2128.8 L657.5 2122.4 L658.9 2125.1 L659.6 2119.5 L660.4 2127.8 L661.8 2128 L663.2 2115.5 L664.7 2119.4 L666.1 2121.1 L667.6 2110.6 L667.8 2108.7 L669 2110.8 L670.5 2112.2 L672 2108.8 L673.4 2113.3 L674.9 2114.2 L676.3 2115.2 L677.7 2115 L677.8 2118.2 L679.2 2116.3 L680.6 2105.4 L682.1 2106 L683.5 2103 L684.3 2102.1 L685 2104.9 L686.5 2103.8 L687.9 2103.8 L689.4 2094 L690.8 2092.2 L692.2 2094.9 L692.6 2094.5 L693.7 2094.4 L695.1 2095.8 L696.6 2093.7 L698 2099.5 L699.5 2099.4 L701 2098.1 L702.4 2096 L702.5 2097.6 L703.9 2088.3 L705.3 2092.7 L706.8 2097.2 L708.2 2091.6 L709.6 2097.1 L710.7 2097.6 L711.1 2091.9 L712.5 2095.9 L714 2096.6 L715.5 2100.2 L716.9 2101.7 L718.4 2099.8 L719.8 2096.8 L720.6 2099.3 L721.2 2100.4 L722.7 2104.9 L724.1 2104.8 L725.6 2101.9 L727 2100 L728.5 2104.6 L730 2104.9 L730.5 2103.8 L731.4 2107.8 L732.9 2107.7 L734.3 2110.6 L735.8 2113.2 L737.2 2110.6 L738.6 2121.5 L740.1 2113.4 L740.4 2117.8 L741.5 2113.9 L743 2116.3 L744.5 2102.3 L745.9 2105.7 L747.4 2109.2 L748.8 2110.3 L750.2 2116.5 L750.3 2109.6 L751.7 2110 L753.1 2106 L754.6 2104.1 L756 2100 L757.5 2094.8 L759 2094.5 L760.2 2086.5 L760.4 2094 L761.9 2082.5 L763.3 2082.3 L764.8 2086.1 L766.2 2074.1 L767.6 2069.8 L768.5 2071.9 L769.1 2066.6 L770.5 2059.3 L772 2059.4 L773.5 2057.8 L774.9 2055 L776.4 2045.9 L776.7 2054 L777.8 2050 L779.2 2037 L780.7 2030.2 L781.7 2022.9 L782.1 2027.5 L783.6 2013.3 L785 2010.6 L786.5 1999.8 L788 1991.4 L789.4 1989.7 L789.9 1990.4 L790.9 1980.1 L792.3 1968.1 L793.8 1964.7 L795.2 1953.4 L796.5 1946.5 L796.6 1950.7 L798.1 1942.4 L799.5 1928.3 L801 1930.7 L802.5 1915.8 L803.9 1910.2 L804.8 1900.3 L805.4 1899.6 L806.8 1887.4 L808.2 1894.4 L809.7 1888.9 L811.1 1873 L811.4 1869.5 L812.6 1864.4 L814 1870.2 L815.5 1860.4 L815.7 1860.6 L817 1862.4 L818.4 1866.1 L819.6 1865 L819.9 1870.3 L821.3 1875.8 L822.8 1891 L824.2 1903.8 L824.6 1907.6 L825.6 1915.6 L827.1 1927.1 L828.5 1945.3 L829.5 1953.3 L830 1965.6 L831.5 1978.1 L832.9 1988.9 L834.4 2001.4 L834.5 2001.6 L835.8 2010.3 L837.2 2023.3 L838.7 2037.1 L840.1 2049.2 L841.1 2056.7 L841.6 2064.7 L843 2060.5 L844.5 2067.6 L846 2083.7 L847.4 2073.7 L847.7 2077.6 L848.9 2083.7 L850.3 2087.7 L851.8 2092.4 L853.2 2093.6 L854.3 2098.4 L854.6 2097.9 L856.1 2102.4 L857.5 2094.2 L859 2098.4 L860.5 2104 L860.9 2101.2 L861.9 2100.8 L863.4 2107.6 L864.8 2104 L866.2 2108.8 L867.5 2110.2 L867.7 2108.4 L869.1 2107.1 L870.6 2103 L872 2095.7 L873.5 2098.5 L874.1 2100.3 L875 2095.7 L876.4 2094.9 L877.9 2096.5 L879 2089.1 L879.3 2093.7 L880.8 2096.7 L882.2 2085.5 L883.6 2084.4 L885.1 2081 L885.6 2086.5 L886.5 2080.6 L888 2079 L889.5 2069.8 L890.9 2068.3 L892.2 2065.6 L892.4 2058.6 L893.8 2068.9 L895.2 2067.2 L896.7 2055.5 L898.1 2062.4 L899.6 2058.9 L901 2059.5 L901.5 2059.1 L902.5 2053 L904 2058.6 L905.4 2067.4 L906.9 2062.1 L908.3 2061 L908.8 2059.7 L909.8 2061 L911.2 2068.6 L912.6 2076.3 L914.1 2073.7 L915.5 2073.8 L917 2082.8 L918.5 2075.6 L919.9 2075.8 L921.4 2082.5 L922.8 2085.6 L924.2 2081.9 L925.2 2082 L925.7 2088.4 L927.1 2092 L928.6 2088.9 L930 2095.2 L930.2 2094.7 L931.5 2101.9 L933 2104.1 L934.4 2107.9 L935.1 2108.8 L935.9 2113.9 L937.3 2115.7 L938.8 2108.8 L940.2 2112.2 L941.6 2106.1 L941.8 2108.5 L943.1 2111.5 L944.5 2114.9 L946 2108 L947.5 2108.2 L948.9 2109.3 L950.4 2102.8 L951.6 2107.8 L951.8 2105.7 L953.2 2108.5 L954.7 2102.3 L956.1 2097.2 L957.6 2103.5 L959 2104.5 L960.5 2100.7 L961.5 2105.1 L962 2100.8 L963.4 2096.8 L964.9 2098.5 L966.3 2089 L967.8 2089.2 L969.2 2089.9 L970.6 2091.6 L971.5 2087 L972.1 2090 L973.5 2090.3 L975 2097.4 L976.4 2106.9 L976.5 2098.3 L977.9 2098.8 L979.4 2078.5 L979.7 2077.1 L980.8 2077.4 L982.2 2080.3 L983.7 2071.4 L985.1 2066.2 L986.6 2075.5 L988 2077.2 L988 2076.6 L989.5 2079.9 L991 2068.3 L992.4 2063.4 L993.9 2062 L995.3 2056.3 L996.8 2057.3 L997.9 2043.7 L998.2 2045 L999.6 2034.6 L1000 2045.3 L1001.1 2039.4 L1002.5 2039.5 L1004 2040.3 L1005.5 2028.1 L1006.9 2021.3 L1008.2 2015.8 L1008.4 2013.8 L1009.8 2008.6 L1011.2 2007.9 L1012.7 2000.5 L1014.1 1994.6 L1015.6 1987.8 L1016.5 1988.3 L1017 1985.3 L1018.5 1977.6 L1020 1975.3 L1021.4 1967.5 L1022.9 1958.1 L1023.1 1966.7 L1024.3 1963.9 L1025.8 1957.5 L1027.2 1964.1 L1028 1962 L1028.7 1956 L1030.1 1971.6 L1031.5 1972.7 L1033 1978.7 L1034.5 1983 L1035.9 1988.1 L1037.3 1989.1 L1038 2000.9 L1038.8 2004.2 L1040.2 2012.3 L1041.7 2024.2 L1042.9 2031.5 L1043.2 2035 L1044.6 2038.5 L1046 2046.5 L1047.5 2045.6 L1049 2058.3 L1049.5 2066.2 L1050.4 2072.9 L1051.8 2072 L1053.3 2077.4 L1054.5 2088.3 L1054.8 2082.2 L1056.2 2087.2 L1057.7 2093.1 L1059.1 2089.2 L1060.5 2094.8 L1061.1 2088.4 L1062 2091.9 L1063.5 2092.6 L1064.9 2094.7 L1066.3 2100.2 L1067.7 2107 L1067.8 2096.1 L1069.2 2096.6 L1070.7 2102.4 L1072.2 2098.8 L1073.6 2105.8 L1074.3 2107.7 L1075 2103.8 L1076.5 2105 L1078 2095.8 L1079.4 2102.2 L1080.8 2093 L1080.9 2095.1 L1082.3 2093.5 L1083.8 2091.6 L1085.2 2094.1 L1086.7 2089.3 L1087.5 2085.7 L1088.1 2089.5 L1089.5 2095 L1091 2090.5 L1092.4 2092 L1092.5 2095.2 L1093.9 2082.3 L1095.3 2066.1 L1096.4 2073 L1096.8 2068.1 L1098.2 2031.9 L1099 2026.6 L1099.7 2020.2 L1100.7 2010.3 L1101.2 2014 L1102.6 2023.7 L1103 2023.5 L1104 2041 L1105.5 2063.3 L1105.6 2057.1 L1107 2058.2 L1108.4 2064.1 L1109.8 2059.4 L1111.3 2067.1 L1112.2 2068.6 L1112.8 2073.2 L1114.2 2072.1 L1115.7 2073.7 L1117.1 2078.3 L1118.5 2082.8 L1118.8 2081.2 L1120 2084.7 L1121.5 2089.3 L1122.9 2093 L1124.3 2096.8 L1125.4 2088.5 L1125.8 2088.6 L1127.2 2081.1 L1128.7 2097.4 L1130.2 2090.1 L1131.6 2092.1 L1133 2094.9 L1134.5 2088.5 L1135.3 2094.8 L1136 2094.2 L1137.4 2088 L1138.8 2096.2 L1140.3 2101.7 L1141.8 2091.4 L1143.2 2101.1 L1144.7 2101.1 L1145.2 2102.3 L1146.1 2103.4 L1147.5 2108.5 L1149 2104.8 L1150.5 2110 L1151.9 2107.3 L1153.3 2112.8 L1153.5 2107.5 L1154.8 2110.5 L1156.2 2119.1 L1157.7 2116.4 L1159.2 2114.6 L1160.6 2111.4 L1161.7 2113.1 L1162 2116.5 L1163.5 2117.8 L1165 2114.2 L1166.4 2112.2 L1167.8 2107.8 L1168.3 2112.2 L1169.3 2104.2 L1170.8 2099.8 L1172.2 2102.3 L1173.7 2097 L1174.9 2092.7 L1175.1 2091.2 L1176.5 2091.1 L1178 2093.6 L1179.5 2092 L1180.9 2084.8 L1181.5 2089.8 L1182.3 2089.8 L1183.8 2085.5 L1185.2 2092 L1186.7 2089.1 L1188.2 2088.7 L1189.6 2093.3 L1189.8 2096 L1191 2088.8 L1192.5 2092.4 L1194 2088.1 L1195.4 2100.1 L1196.8 2091.2 L1198 2096.6 L1198.3 2089.8 L1199.8 2092.5 L1201.2 2096.7 L1202.7 2077.1 L1204.1 2080.6 L1205.5 2083 L1206.3 2080.4 L1207 2076.7 L1208.5 2084.9 L1209.9 2076 L1211.3 2065.9 L1212.8 2072 L1214.2 2060.9 L1215.7 2068.3 L1216.2 2062.3 L1217.2 2063.9 L1218.6 2068 L1220 2063.7 L1221.5 2056.7 L1223 2053.9 L1224.4 2064.2 L1224.4 2064.1 L1225.8 2054.5 L1227.3 2056.5 L1228.8 2052.3 L1230.2 2049.2 L1231 2035.9 L1231.7 2040.9 L1233.1 2044.5 L1234.5 2042.7 L1236 2041.4 L1237.5 2026.5 L1238.3 2033.6 L1238.9 2037.9 L1240.3 2050.2 L1241.8 2041.9 L1243.2 2046.5 L1244.2 2050.7 L1244.7 2055.5 L1246.2 2054.4 L1247.6 2063.6 L1249 2060.5 L1250.5 2067.2 L1250.8 2065.4 L1252 2071 L1253.4 2072.4 L1254.8 2072.8 L1256.3 2087 L1257.4 2088.8 L1257.8 2086 L1259.2 2092.1 L1260.7 2099.1 L1262.1 2095.6 L1263.5 2101.5 L1264 2105.6 L1265 2106.3 L1266.5 2103.5 L1267.9 2096.6 L1269.3 2109 L1270.8 2107.7 L1272.2 2106.7 L1273.7 2105.8 L1273.9 2107.8 L1275.2 2106.2 L1276.6 2104.5 L1278 2106.2 L1279.5 2107.8 L1281 2108.8 L1282.4 2107.6 L1283.8 2115.3 L1283.8 2108.7 L1285.3 2114.4 L1286.8 2107.9 L1288.2 2111.4 L1289.7 2115.1 L1291.1 2110.3 L1292.5 2105.1 L1293.7 2106.7 L1294 2106.9 L1295.5 2096.8 L1296.9 2097.2 L1298.3 2097.8 L1299.8 2093 L1300.3 2093.8 L1301.2 2096 L1302.7 2095.6 L1304.2 2095.2 L1305.6 2093.1 L1307 2088.6 L1308.5 2088.1 L1310 2086.2 L1310.2 2085.7 L1311.4 2085.6 L1312.8 2079 L1314.3 2082.8 L1315.8 2083.9 L1316.8 2080 L1317.2 2083.2 L1318.7 2086 L1320.1 2084 L1321.5 2092.7 L1323 2075.9 L1324.5 2082.9 L1325.9 2077.9 L1326.7 2088.2 L1327.3 2095.9 L1328.8 2078.4 L1330.2 2086.5 L1331.7 2089.9 L1333.2 2087.8 L1334.6 2091.4 L1336 2081.7 L1336.6 2092.5 L1337.5 2092.3 L1339 2091.2 L1340.4 2088.8 L1341.8 2093.5 L1343.3 2090 L1344.8 2092.4 L1346.2 2090.1 L1346.5 2083 L1347.7 2091.9 L1349.1 2095.6 L1350.5 2099.8 L1352 2095.5 L1353.5 2099.6 L1354.9 2104.2 L1356.3 2104.4 L1356.4 2108.6 L1357.8 2111.8 L1359.2 2100.7 L1360.7 2094.7 L1362.2 2104.4 L1363 2108.3 L1363.6 2106.1 L1365 2104.5 L1366.5 2097.8 L1368 2095.6 L1369.4 2100.7 L1370.8 2093.7 L1372.3 2088.3 L1372.9 2090.4 L1373.8 2104.1 L1375.2 2103.5 L1376.7 2092.8 L1378.1 2090.6 L1379.5 2093.6 L1381 2089.8 L1382.5 2096.9 L1382.8 2092.5 L1383.9 2087.7 L1385.3 2096.1 L1386.8 2089.8 L1388.2 2091.8 L1389.7 2091 L1391.2 2089.5 L1392.6 2091.5 L1392.7 2087.9 L1394 2082.9 L1395.5 2080.7 L1397 2084 L1398.4 2086.5 L1399.8 2089.8 L1401.3 2090.5 L1402.6 2092.6 L1402.8 2091 L1404.2 2084.7 L1405.7 2082 L1407.1 2073.9 L1408.5 2078.1 L1409.2 2080.5 L1410 2083.3 L1411.5 2084.8 L1412.9 2088.2 L1414.3 2096.5 L1415.8 2097.5 L1415.8 2100 L1417.2 2099 L1418.7 2096.8 L1420.2 2100.2 L1421.6 2092.7 L1422.4 2092.1 L1423 2089.6 L1424.5 2087.7 L1426 2095.2 L1427.4 2095.6 L1428.8 2087.5 L1430.3 2087 L1431.8 2087.8 L1432.3 2086.1 L1433.2 2087.9 L1434.7 2079.2 L1436.1 2080.9 L1437.5 2086.1 L1439 2091.3 L1440.5 2087.5 L1441.9 2083.8 L1442.2 2085.3 L1443.3 2084.9 L1444.8 2084.9 L1446.2 2094.8 L1447.7 2088.7 L1449.2 2091.1 L1450 2100.2 L1450.6 2097.4 L1452 2093.3 L1453.5 2088.5 L1455 2091.4 L1456.4 2096.1 L1457.8 2092.5 L1459.3 2094.1 L1459.9 2089.6 L1460.8 2090.9 L1462.2 2088.8 L1463.7 2091.3 L1465.1 2095.5 L1466.5 2085.9 L1468 2090.2 L1469.5 2092.4 L1469.8 2089.6 L1470.9 2089.7 L1472.3 2093.3 L1473.8 2098 L1475.2 2092.7 L1476.7 2090.1 L1478.2 2081.8 L1479.6 2093.5 L1479.7 2088.1 L1481 2085.3 L1482.5 2079.2 L1484 2081 L1485.4 2075.7 L1486.8 2078.1 L1488.3 2078.5 L1489.6 2075.6 L1489.8 2076.1 L1491.2 2068.9 L1492.7 2074.3 L1494.1 2064.5 L1495.5 2056 L1496.2 2060.2 L1497 2057.3 L1498.5 2053.5 L1499.9 2053.2 L1501.3 2053.4 L1502.8 2045.5 L1504.2 2046.1 L1505.7 2050 L1506.1 2047.4 L1507.2 2041.5 L1508.6 2038.9 L1510 2034.8 L1511.5 2031.8 L1513 2031.7 L1514.4 2025.8 L1514.4 2016.3 L1515.8 2021.3 L1517.3 2016.2 L1518.8 2018.9 L1519.3 2013.8 L1520.2 2016.8 L1521.7 2026.1 L1523.1 2015.9 L1524.5 2015 L1525.9 2014.6 L1526 2010.3 L1527.5 2005.2 L1528.9 2007.9 L1530.3 1999.1 L1530.9 1991.7 L1531.8 1990.5 L1533.2 1995.9 L1534.7 1988.8 L1536.2 1986.9 L1537.5 1987.1 L1537.6 1991 L1539 1988.2 L1540.5 1979.3 L1542 1969.5 L1542.4 1967.3 L1543.4 1968.2 L1544.8 1960 L1546.3 1945.4 L1547.4 1941.7 L1547.8 1938.6 L1549.2 1927.5 L1550.7 1915 L1550.7 1911.4 L1552.1 1902.4 L1553.5 1887.3 L1554 1894.2 L1555 1884.8 L1556.5 1866.2 L1557.3 1868.8 L1557.9 1863.1 L1559.3 1840.5 L1560.6 1843.8 L1560.8 1839.9 L1562.2 1833.3 L1563.7 1810 L1564.8 1806.2 L1565.2 1806.8 L1566.6 1807.1 L1568 1808.1 L1568.8 1812.2 L1569.5 1804.3 L1571 1807.3 L1572.4 1810 L1573.8 1816.3 L1573.8 1816.2 L1575.3 1812 L1576.8 1804.2 L1577.1 1801.6 L1578.2 1793.4 L1579.7 1787.1 L1581.1 1785.9 L1582 1781.7 L1582.5 1775.4 L1584 1763.2 L1585.3 1761 L1585.5 1753.1 L1586.9 1751.1 L1588.3 1747.8 L1589.8 1736.9 L1590.3 1738.5 L1591.2 1729.5 L1592.7 1733.8 L1593.6 1730 L1594.2 1725.1 L1595.6 1738.6 L1596.9 1738.7 L1597 1746.6 L1598.5 1741.8 L1600 1744.5 L1601.2 1747.8 L1601.4 1744.9 L1602.8 1741.8 L1604.3 1733.8 L1604.5 1737.7 L1605.8 1748.6 L1606.8 1759.3 L1607.2 1746.1 L1608.7 1751.9 L1610.1 1742.5 L1610.1 1734.9 L1611.5 1736.8 L1613 1734.8 L1613.4 1736.5 L1614.5 1736 L1615.9 1755.2 L1616.7 1755.3 L1617.3 1766.5 L1618.8 1762.4 L1620 1767.9 L1620.2 1770.2 L1621.6 1796.9 L1621.7 1806.1 L1623.2 1826.9 L1624.6 1849.7 L1624.9 1851.9 L1626 1858.4 L1627.5 1869.2 L1628.2 1880.3 L1629 1885.2 L1630.4 1893.8 L1631.8 1908.3 L1632.2 1910.1 L1633.3 1904.7 L1634.8 1902.2 L1636.2 1897.3 L1636.5 1897.8 L1637.7 1897.7 L1639.1 1896 L1639.8 1888.4 L1640.5 1885.4 L1642 1898.4 L1643.1 1896.5 L1643.5 1903.9 L1644.9 1908.9 L1646.3 1927.7 L1646.4 1929.8 L1647.8 1945.8 L1649.2 1970.4 L1649.7 1981.9 L1650.7 1993.4 L1652.2 2008.8 L1653 2006.9 L1653.6 2007.8 L1655 2025 L1656.3 2036.2 L1656.5 2035 L1658 2037.5 L1659.4 2053.4 L1659.6 2055.6 L1660.8 2058.7 L1662.3 2058.8 L1662.9 2063 L1663.8 2061.8 L1665.2 2051 L1666.2 2041.4 L1666.7 2047.4 L1668.1 2044.3 L1669.5 2037.9 L1671 2036.3 L1671.1 2030.6 L1672.5 2026.4 L1673.9 2020 L1675.3 2017.5 L1676.1 2019.1 L1676.8 2008.6 L1678.2 2008.8 L1679.7 2000.2 L1680.4 1993.6 L1681.2 1985.8 L1682.6 1978.1 L1684 1959.1 L1684.3 1956.1 L1685.5 1946.4 L1687 1944.5 L1688.3 1942.1 L1688.4 1938.4 L1689.8 1923.1 L1691.3 1906 L1691.6 1904.3 L1692.8 1890 L1694.2 1888.6 L1694.9 1879.5 L1695.7 1875.5 L1697.1 1875.2 L1698.5 1874 L1699.2 1880 L1700 1884.3 L1701.5 1879.6 L1702.9 1891.6 L1703.5 1894.3 L1704.3 1891.3 L1705.8 1891.1 L1707.2 1897.4 L1708.1 1900.6 L1708.7 1905.7 L1710.2 1906.5 L1711.6 1902.6 L1713 1913.2 L1713 1907.4 L1714.5 1910.5 L1716 1898 L1717.3 1893.7 L1717.4 1893.1 L1718.8 1891.8 L1720.3 1896.7 L1721.8 1893.7 L1723.2 1890.2 L1723.3 1888.8 L1724.7 1882.7 L1726.1 1887.1 L1727.5 1888.8 L1729 1888.7 L1729.9 1895.1 L1730.5 1890.4 L1731.9 1888.4 L1733.3 1885.4 L1734.5 1880.1 L1734.8 1888.1 L1736.2 1884.4 L1737.7 1872.6 L1737.8 1867 L1739.2 1843.5 L1740.4 1836.6 L1740.6 1839.7 L1742 1815.2 L1743.1 1801.9 L1743.5 1799.4 L1745 1781.9 L1745.4 1770.7 L1746.4 1762.8 L1747.8 1744.4 L1748 1733.2 L1749.3 1739.9 L1750.3 1739.3 L1750.8 1735.5 L1752.2 1709.9 L1753 1688.6 L1753.7 1671.2 L1755.1 1656.6 L1755.3 1651.6 L1756.5 1573.8 L1756.9 1539 L1758 1409.9 L1758.6 1340.7 L1759.5 1320 L1760.9 1276.5 L1760.9 1276.5 L1761.9 1212.2 L1762.3 1216.4 L1763.8 1217.2 L1764.2 1213.6 L1765.2 1270.7 L1765.2 1280.4 L1766.7 1326 L1766.8 1334.2 L1768.2 1573.5 L1768.5 1595.9 L1769.6 1635.1 L1770.1 1647.8 L1771 1673.9 L1771.8 1698.8 L1772.5 1692.1 L1774 1697.6 L1775.1 1703.2 L1775.4 1698.3 L1776.7 1671.6 L1776.8 1660.9 L1778.3 1622.3 L1778.4 1625.9 L1779.8 1638.2 L1780 1649.1 L1781.2 1683.8 L1781.7 1709 L1782.7 1704.7 L1784.1 1689.3 L1785 1687.7 L1785.5 1681.6 L1786.6 1660.2 L1787 1649.4 L1788.3 1611.1 L1788.5 1601.4 L1789.9 1562.1 L1789.9 1557.6 L1791.3 1529 L1791.6 1528.5 L1792.8 1522.1 L1793.9 1522.6 L1794.2 1529.3 L1795.7 1528.5 L1796.5 1529.6 L1797.2 1533.6 L1798.6 1531.6 L1799.2 1537.4 L1800 1544.3 L1800.5 1558.4 L1801.5 1594.4 L1801.5 1592.9 L1803 1630.6 L1804.4 1649.6 L1804.8 1666 L1805.8 1675.7 L1807.3 1695.8 L1808.1 1696.2 L1808.8 1713.2 L1810.2 1737 L1811.4 1749.1 L1811.7 1751.9 L1813.1 1782.9 L1814.5 1796.5 L1814.7 1795 L1816 1795.7 L1817.5 1801.9 L1818 1802.8 L1818.9 1796.8 L1820.3 1794 L1821.3 1781.3 L1821.8 1780.5 L1823.2 1776.7 L1824.6 1760.3 L1824.7 1766.9 L1826.2 1770.5 L1827.6 1758.1 L1828.9 1756.8 L1829 1757.4 L1830.5 1758.7 L1832 1771.5 L1832.2 1764.5 L1833.4 1786.5 L1834.5 1803.9 L1834.8 1800.3 L1836.3 1834.8 L1836.8 1839.8 L1837.8 1867.2 L1839.2 1890 L1839.4 1895.6 L1840.7 1914 L1842.1 1936.4 L1842.7 1942.2 L1843.5 1951.2 L1845 1963.7 L1846 1976.4 L1846.5 1970.5 L1847.9 1970.2 L1849.3 1958.7 L1849.3 1963.3 L1850.8 1969.7 L1852.2 1960.4 L1853.3 1951.7 L1853.7 1957.4 L1855.2 1955.6 L1856.6 1954.6 L1858 1959.9 L1858.6 1967 L1859.5 1977.7 L1860.9 1992.6 L1861 1989.4 L1862.4 1996.1 L1863.8 2013.2 L1865.2 2017.5 L1865.3 2013.2 L1866.8 2018.1 L1868.2 2030.3 L1868.5 2047.6 L1869.7 2043.4 L1871.1 2055.2 L1871.8 2061.1 L1872.5 2061 L1874 2062.6 L1875.1 2059.8 L1875.5 2059.1 L1876.9 2064.8 L1878.3 2051.8 L1878.4 2056.8 L1879.8 2043.1 L1881.2 2042.6 L1882.7 2040.6 L1883 2043.1 L1884.2 2045.2 L1885.6 2063.4 L1885.6 2063.8 L1887 2065.1 L1888.5 2074.9 L1890 2076 L1890.6 2078.2 L1891.4 2083.4 L1892.8 2077.7 L1894.3 2089.7 L1895.5 2090.8 L1895.8 2089 L1897.2 2094.9 L1898.7 2102.3 L1900.1 2100.7 L1901.5 2108.8 L1902.2 2101.1 L1903 2100.1 L1904.5 2112.5 L1905.9 2111 L1907.3 2114.2 L1908.8 2108.9 L1908.8 2114.3 L1910.2 2113.5 L1911.7 2115.3 L1913.2 2113.5 L1914.6 2118.3 L1916 2112.2 L1917.5 2110.4 L1918.7 2108.5 L1919 2118.7 L1920.4 2114.3 L1921.8 2113.6 L1923.3 2115.2 L1924.8 2118.6 L1925.2 2116.1 L1926.2 2120 L1927.7 2119.9 L1929.1 2120.8 L1930.5 2120 L1931.8 2124.3 L1932 2122.8 L1933.5 2124.3 L1934.9 2124.6 L1936.3 2124.6 L1937.8 2114.2 L1939.2 2118.7 L1940.7 2117.9 L1942.2 2123.4 L1943.6 2114.6 L1945 2116.2 L1946 2117.8 L1946.5 2117.9 L1948 2123 L1949.4 2118.1 L1950.8 2122.8 L1952.3 2113.9 L1953.8 2111.2 L1955.2 2122.5 L1956.7 2121.1 L1958.1 2121 L1959.5 2119.5 L1961 2120.6 L1962.5 2114 L1963.9 2121.4 L1965.3 2116.7 L1966.8 2121.8 L1968.2 2119 L1969.7 2110.5 L1971.2 2111.8 L1972.6 2121.4 L1974 2117.8 L1975.5 2116.2 L1977 2118.3 L1978.4 2116 L1979 2115.1 L1979.8 2117.4 L1981.3 2117.8 L1982.8 2123 L1984.2 2118 L1985.7 2124.2 L1987.1 2124.7 L1988.5 2124.3 L1990 2121.5 L1991.5 2117.3 L1992.9 2116.6 L1994.3 2115.2 L1995.8 2112.6 L1997.2 2114.6 L1998.7 2112.5 L2000.2 2121 L2001.6 2117.8 L2003 2113.3 L2004.5 2106.8 L2006 2112.9 L2007.4 2112.3 L2008.8 2109.4 L2010.3 2108.6 L2011.8 2104 L2012 2114.3 L2013.2 2113.6 L2014.7 2124.1 L2016.1 2115.7 L2017.5 2114.3 L2019 2120.5 L2020.5 2116.6 L2021.9 2116.4 L2023.3 2114.5 L2024.8 2113.5 L2026.2 2121.8 L2027.7 2121.4 L2028.5 2124.2 L2029.2 2116.7 L2030.6 2117.4 L2032 2114.2 L2033.5 2121.2 L2035 2113.3 L2036.4 2120 L2037.8 2123.3 L2039.3 2125.3 L2040.8 2116.7 L2042.2 2123.6 L2043.7 2117.9 L2045.1 2117.1 L2046.5 2115 L2048 2124.7 L2049.4 2128.3 L2050.9 2120.3 L2051.7 2118.6 L2052.3 2120.1 L2053.8 2131.6 L2055.2 2127.6 L2056.7 2121.1 L2058.2 2115.4 L2059.6 2119.1 L2061.1 2127 L2062.5 2131 L2063.9 2123.5 L2065.4 2120.8 L2066.8 2121.3 L2068.3 2116.2 L2069.8 2126.4 L2071.2 2120.3 L2072.7 2128 L2074.1 2118.5 L2075.6 2118.9 L2077 2125.2 L2078.1 2122.1 L2078.4 2127.7 L2079.9 2125.5 L2081.3 2120.6 L2082.8 2126.8 L2084.2 2128.6 L2085.7 2118.2 L2087.2 2131.2 L2088.6 2127.9 L2090.1 2128.5 L2091.5 2118.3 L2092.9 2121.3 L2094.4 2123.1 L2095.8 2129 L2097.3 2120 L2098.8 2120.9 L2100.2 2116.5 L2101.7 2122.9 L2103.1 2126.1 L2104.6 2118.7 L2106 2121.8 L2107.4 2126.6 L2108.9 2131.5 L2110.3 2128.6 L2111.8 2124.4 L2113.2 2120.4 L2114.7 2120.7 L2116.2 2121.8 L2117.6 2125.2 L2119.1 2124.9 L2120.5 2131.6 L2121.9 2127.2" fill="none" stroke="#1414ff" stroke-width="2.3" stroke-linejoin="round"/>
</g>
</g>
</svg>
</body>
</html>
